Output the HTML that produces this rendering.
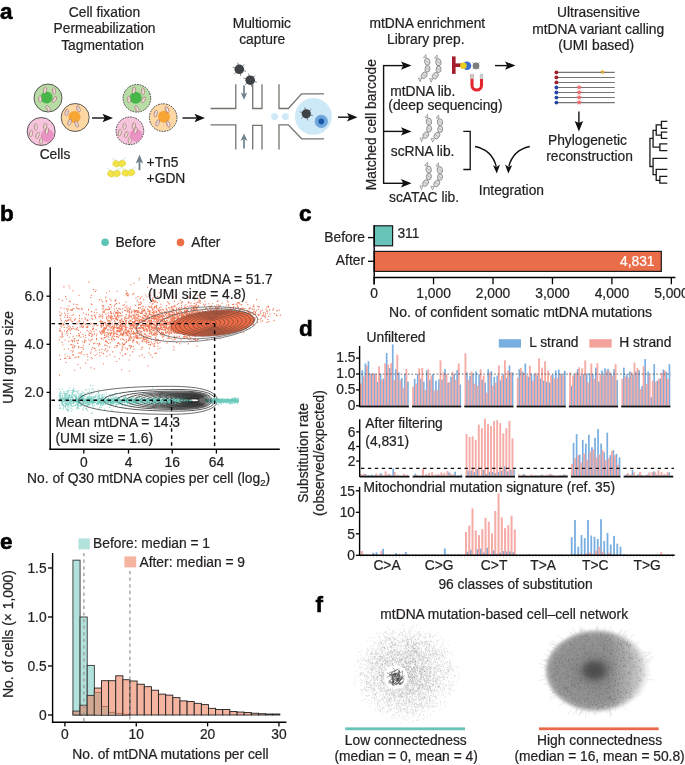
<!DOCTYPE html>
<html><head><meta charset="utf-8"><style>
html,body{margin:0;padding:0;background:#fff;overflow:hidden;}
svg{display:block;font-family:"Liberation Sans",sans-serif;will-change:transform;}
text{stroke:#231f20;stroke-width:0.22px;}
</style></head><body>
<svg width="685" height="765" viewBox="0 0 685 765">
<rect width="685" height="765" fill="#fff"/>
<text x="0.0" y="18.5" font-size="22.5" text-anchor="start" font-weight="bold" fill="#000" style="stroke:#000;stroke-width:0.55px">a</text>
<text x="104.5" y="17.3" font-size="13.8" text-anchor="middle" font-weight="normal" fill="#231f20" >Cell fixation</text>
<text x="104.5" y="33.3" font-size="13.8" text-anchor="middle" font-weight="normal" fill="#231f20" >Permeabilization</text>
<text x="102.6" y="49.6" font-size="13.8" text-anchor="middle" font-weight="normal" fill="#231f20" >Tagmentation</text>
<text x="261.8" y="27.8" font-size="13.8" text-anchor="middle" font-weight="normal" fill="#231f20" >Multiomic</text>
<text x="262.2" y="43.5" font-size="13.8" text-anchor="middle" font-weight="normal" fill="#231f20" >capture</text>
<text x="427.3" y="27.7" font-size="13.8" text-anchor="middle" font-weight="normal" fill="#231f20" >mtDNA enrichment</text>
<text x="425.8" y="44.2" font-size="13.8" text-anchor="middle" font-weight="normal" fill="#231f20" >Library prep.</text>
<text x="598.5" y="17.0" font-size="13.8" text-anchor="middle" font-weight="normal" fill="#231f20" >Ultrasensitive</text>
<text x="598.2" y="33.8" font-size="13.8" text-anchor="middle" font-weight="normal" fill="#231f20" >mtDNA variant calling</text>
<text x="596.2" y="49.6" font-size="13.8" text-anchor="middle" font-weight="normal" fill="#231f20" >(UMI based)</text>
<circle cx="48.00" cy="98.00" r="14.00" fill="#b8dca6" stroke="#333" stroke-width="0.8" />
<circle cx="46.60" cy="97.60" r="6.00" fill="#47b649" stroke="none" stroke-width="0" />
<ellipse cx="45.0" cy="90.0" rx="1.55" ry="3.30" transform="rotate(10 45.0 90.0)" fill="#f4e9e6" stroke="#a87772" stroke-width="0.7"/>
<path d="M44.5,88.0 q1,1 0,2 q-1,1 0,2" transform="rotate(10 45.0 90.0)" fill="none" stroke="#b08a86" stroke-width="0.45"/>
<ellipse cx="54.0" cy="91.0" rx="1.55" ry="3.30" transform="rotate(-5 54.0 91.0)" fill="#f4e9e6" stroke="#a87772" stroke-width="0.7"/>
<path d="M53.5,89.0 q1,1 0,2 q-1,1 0,2" transform="rotate(-5 54.0 91.0)" fill="none" stroke="#b08a86" stroke-width="0.45"/>
<ellipse cx="40.0" cy="99.0" rx="1.55" ry="3.30" transform="rotate(0 40.0 99.0)" fill="#f4e9e6" stroke="#a87772" stroke-width="0.7"/>
<path d="M39.5,97.0 q1,1 0,2 q-1,1 0,2" transform="rotate(0 40.0 99.0)" fill="none" stroke="#b08a86" stroke-width="0.45"/>
<ellipse cx="54.5" cy="99.5" rx="1.55" ry="3.30" transform="rotate(30 54.5 99.5)" fill="#f4e9e6" stroke="#a87772" stroke-width="0.7"/>
<path d="M54.0,97.5 q1,1 0,2 q-1,1 0,2" transform="rotate(30 54.5 99.5)" fill="none" stroke="#b08a86" stroke-width="0.45"/>
<ellipse cx="48.0" cy="108.5" rx="1.55" ry="3.30" transform="rotate(-30 48.0 108.5)" fill="#f4e9e6" stroke="#a87772" stroke-width="0.7"/>
<path d="M47.5,106.5 q1,1 0,2 q-1,1 0,2" transform="rotate(-30 48.0 108.5)" fill="none" stroke="#b08a86" stroke-width="0.45"/>
<circle cx="75.20" cy="117.50" r="14.00" fill="#fdd7a4" stroke="#333" stroke-width="0.8" />
<circle cx="74.50" cy="117.00" r="6.00" fill="#f7a535" stroke="none" stroke-width="0" />
<ellipse cx="66.7" cy="112.5" rx="1.55" ry="3.30" transform="rotate(10 66.7 112.5)" fill="#f4e9e6" stroke="#a87772" stroke-width="0.7"/>
<path d="M66.2,110.5 q1,1 0,2 q-1,1 0,2" transform="rotate(10 66.7 112.5)" fill="none" stroke="#b08a86" stroke-width="0.45"/>
<ellipse cx="78.4" cy="108.9" rx="1.55" ry="3.30" transform="rotate(-20 78.4 108.9)" fill="#f4e9e6" stroke="#a87772" stroke-width="0.7"/>
<path d="M77.9,106.9 q1,1 0,2 q-1,1 0,2" transform="rotate(-20 78.4 108.9)" fill="none" stroke="#b08a86" stroke-width="0.45"/>
<ellipse cx="69.6" cy="122.3" rx="1.55" ry="3.30" transform="rotate(20 69.6 122.3)" fill="#f4e9e6" stroke="#a87772" stroke-width="0.7"/>
<path d="M69.1,120.3 q1,1 0,2 q-1,1 0,2" transform="rotate(20 69.6 122.3)" fill="none" stroke="#b08a86" stroke-width="0.45"/>
<ellipse cx="76.6" cy="124.1" rx="1.55" ry="3.30" transform="rotate(-20 76.6 124.1)" fill="#f4e9e6" stroke="#a87772" stroke-width="0.7"/>
<path d="M76.1,122.1 q1,1 0,2 q-1,1 0,2" transform="rotate(-20 76.6 124.1)" fill="none" stroke="#b08a86" stroke-width="0.45"/>
<circle cx="41.20" cy="131.50" r="14.00" fill="#f6c4dd" stroke="#333" stroke-width="0.8" />
<circle cx="47.30" cy="135.50" r="6.50" fill="#ea93c4" stroke="none" stroke-width="0" />
<ellipse cx="35.8" cy="127.0" rx="1.55" ry="3.30" transform="rotate(0 35.8 127.0)" fill="#f4e9e6" stroke="#a87772" stroke-width="0.7"/>
<path d="M35.3,125.0 q1,1 0,2 q-1,1 0,2" transform="rotate(0 35.8 127.0)" fill="none" stroke="#b08a86" stroke-width="0.45"/>
<ellipse cx="45.1" cy="126.4" rx="1.55" ry="3.30" transform="rotate(10 45.1 126.4)" fill="#f4e9e6" stroke="#a87772" stroke-width="0.7"/>
<path d="M44.6,124.4 q1,1 0,2 q-1,1 0,2" transform="rotate(10 45.1 126.4)" fill="none" stroke="#b08a86" stroke-width="0.45"/>
<ellipse cx="31.1" cy="133.4" rx="1.55" ry="3.30" transform="rotate(10 31.1 133.4)" fill="#f4e9e6" stroke="#a87772" stroke-width="0.7"/>
<path d="M30.6,131.4 q1,1 0,2 q-1,1 0,2" transform="rotate(10 31.1 133.4)" fill="none" stroke="#b08a86" stroke-width="0.45"/>
<ellipse cx="37.5" cy="135.2" rx="1.55" ry="3.30" transform="rotate(20 37.5 135.2)" fill="#f4e9e6" stroke="#a87772" stroke-width="0.7"/>
<path d="M37.0,133.2 q1,1 0,2 q-1,1 0,2" transform="rotate(20 37.5 135.2)" fill="none" stroke="#b08a86" stroke-width="0.45"/>
<ellipse cx="46.9" cy="131.0" rx="1.55" ry="3.30" transform="rotate(10 46.9 131.0)" fill="#f4e9e6" stroke="#a87772" stroke-width="0.7"/>
<path d="M46.4,129.0 q1,1 0,2 q-1,1 0,2" transform="rotate(10 46.9 131.0)" fill="none" stroke="#b08a86" stroke-width="0.45"/>
<ellipse cx="41.0" cy="141.0" rx="1.55" ry="3.30" transform="rotate(0 41.0 141.0)" fill="#f4e9e6" stroke="#a87772" stroke-width="0.7"/>
<path d="M40.5,139.0 q1,1 0,2 q-1,1 0,2" transform="rotate(0 41.0 141.0)" fill="none" stroke="#b08a86" stroke-width="0.45"/>
<circle cx="136.90" cy="98.30" r="13.80" fill="#b8dca6" stroke="#333" stroke-width="0.9" stroke-dasharray="1.7,1.0"/>
<circle cx="135.70" cy="97.80" r="6.00" fill="#47b649" stroke="none" stroke-width="0" />
<ellipse cx="133.9" cy="90.3" rx="1.55" ry="3.30" transform="rotate(10 133.9 90.3)" fill="#f4e9e6" stroke="#a87772" stroke-width="0.7"/>
<path d="M133.4,88.3 q1,1 0,2 q-1,1 0,2" transform="rotate(10 133.9 90.3)" fill="none" stroke="#b08a86" stroke-width="0.45"/>
<ellipse cx="142.9" cy="91.3" rx="1.55" ry="3.30" transform="rotate(-5 142.9 91.3)" fill="#f4e9e6" stroke="#a87772" stroke-width="0.7"/>
<path d="M142.4,89.3 q1,1 0,2 q-1,1 0,2" transform="rotate(-5 142.9 91.3)" fill="none" stroke="#b08a86" stroke-width="0.45"/>
<ellipse cx="128.9" cy="99.3" rx="1.55" ry="3.30" transform="rotate(0 128.9 99.3)" fill="#f4e9e6" stroke="#a87772" stroke-width="0.7"/>
<path d="M128.4,97.3 q1,1 0,2 q-1,1 0,2" transform="rotate(0 128.9 99.3)" fill="none" stroke="#b08a86" stroke-width="0.45"/>
<ellipse cx="143.4" cy="99.8" rx="1.55" ry="3.30" transform="rotate(30 143.4 99.8)" fill="#f4e9e6" stroke="#a87772" stroke-width="0.7"/>
<path d="M142.9,97.8 q1,1 0,2 q-1,1 0,2" transform="rotate(30 143.4 99.8)" fill="none" stroke="#b08a86" stroke-width="0.45"/>
<ellipse cx="136.9" cy="108.8" rx="1.55" ry="3.30" transform="rotate(-30 136.9 108.8)" fill="#f4e9e6" stroke="#a87772" stroke-width="0.7"/>
<path d="M136.4,106.8 q1,1 0,2 q-1,1 0,2" transform="rotate(-30 136.9 108.8)" fill="none" stroke="#b08a86" stroke-width="0.45"/>
<circle cx="163.20" cy="117.60" r="13.80" fill="#fdd7a4" stroke="#333" stroke-width="0.9" stroke-dasharray="1.7,1.0"/>
<circle cx="164.00" cy="116.80" r="6.00" fill="#f7a535" stroke="none" stroke-width="0" />
<ellipse cx="155.7" cy="113.6" rx="1.55" ry="3.30" transform="rotate(15 155.7 113.6)" fill="#f4e9e6" stroke="#a87772" stroke-width="0.7"/>
<path d="M155.2,111.6 q1,1 0,2 q-1,1 0,2" transform="rotate(15 155.7 113.6)" fill="none" stroke="#b08a86" stroke-width="0.45"/>
<ellipse cx="167.0" cy="109.6" rx="1.55" ry="3.30" transform="rotate(-25 167.0 109.6)" fill="#f4e9e6" stroke="#a87772" stroke-width="0.7"/>
<path d="M166.5,107.6 q1,1 0,2 q-1,1 0,2" transform="rotate(-25 167.0 109.6)" fill="none" stroke="#b08a86" stroke-width="0.45"/>
<ellipse cx="157.6" cy="122.8" rx="1.55" ry="3.30" transform="rotate(25 157.6 122.8)" fill="#f4e9e6" stroke="#a87772" stroke-width="0.7"/>
<path d="M157.1,120.8 q1,1 0,2 q-1,1 0,2" transform="rotate(25 157.6 122.8)" fill="none" stroke="#b08a86" stroke-width="0.45"/>
<ellipse cx="168.2" cy="124.1" rx="1.55" ry="3.30" transform="rotate(-20 168.2 124.1)" fill="#f4e9e6" stroke="#a87772" stroke-width="0.7"/>
<path d="M167.7,122.1 q1,1 0,2 q-1,1 0,2" transform="rotate(-20 168.2 124.1)" fill="none" stroke="#b08a86" stroke-width="0.45"/>
<circle cx="129.90" cy="130.80" r="13.80" fill="#f6c4dd" stroke="#333" stroke-width="0.9" stroke-dasharray="1.7,1.0"/>
<circle cx="135.90" cy="135.20" r="6.30" fill="#ea93c4" stroke="none" stroke-width="0" />
<ellipse cx="124.5" cy="126.3" rx="1.55" ry="3.30" transform="rotate(0 124.5 126.3)" fill="#f4e9e6" stroke="#a87772" stroke-width="0.7"/>
<path d="M124.0,124.3 q1,1 0,2 q-1,1 0,2" transform="rotate(0 124.5 126.3)" fill="none" stroke="#b08a86" stroke-width="0.45"/>
<ellipse cx="133.8" cy="125.7" rx="1.55" ry="3.30" transform="rotate(10 133.8 125.7)" fill="#f4e9e6" stroke="#a87772" stroke-width="0.7"/>
<path d="M133.3,123.7 q1,1 0,2 q-1,1 0,2" transform="rotate(10 133.8 125.7)" fill="none" stroke="#b08a86" stroke-width="0.45"/>
<ellipse cx="119.8" cy="132.7" rx="1.55" ry="3.30" transform="rotate(10 119.8 132.7)" fill="#f4e9e6" stroke="#a87772" stroke-width="0.7"/>
<path d="M119.3,130.7 q1,1 0,2 q-1,1 0,2" transform="rotate(10 119.8 132.7)" fill="none" stroke="#b08a86" stroke-width="0.45"/>
<ellipse cx="126.2" cy="134.5" rx="1.55" ry="3.30" transform="rotate(20 126.2 134.5)" fill="#f4e9e6" stroke="#a87772" stroke-width="0.7"/>
<path d="M125.7,132.5 q1,1 0,2 q-1,1 0,2" transform="rotate(20 126.2 134.5)" fill="none" stroke="#b08a86" stroke-width="0.45"/>
<ellipse cx="135.6" cy="130.3" rx="1.55" ry="3.30" transform="rotate(10 135.6 130.3)" fill="#f4e9e6" stroke="#a87772" stroke-width="0.7"/>
<path d="M135.1,128.3 q1,1 0,2 q-1,1 0,2" transform="rotate(10 135.6 130.3)" fill="none" stroke="#b08a86" stroke-width="0.45"/>
<ellipse cx="129.7" cy="140.3" rx="1.55" ry="3.30" transform="rotate(0 129.7 140.3)" fill="#f4e9e6" stroke="#a87772" stroke-width="0.7"/>
<path d="M129.2,138.3 q1,1 0,2 q-1,1 0,2" transform="rotate(0 129.7 140.3)" fill="none" stroke="#b08a86" stroke-width="0.45"/>
<text x="55.0" y="159.2" font-size="13.8" text-anchor="middle" font-weight="normal" fill="#231f20" >Cells</text>
<line x1="92.00" y1="118.00" x2="105.20" y2="118.00" stroke="#111" stroke-width="1.4" />
<path d="M113.00,118.00 L102.50,113.80 L104.70,118.00 L102.50,122.20Z" fill="#111"/>
<line x1="182.50" y1="118.00" x2="197.20" y2="118.00" stroke="#111" stroke-width="1.4" />
<path d="M205.00,118.00 L194.50,113.80 L196.70,118.00 L194.50,122.20Z" fill="#111"/>
<path d="M111.7,157.9 L118.7,161.9 L126.7,157.6" fill="none" stroke="#c4e6cf" stroke-width="0.7"/>
<ellipse cx="116.3" cy="163.8" rx="3.6" ry="3.1" transform="rotate(20 116.3 163.8)" fill="#f2e347" stroke="#d9c63a" stroke-width="0.4"/>
<ellipse cx="122.1" cy="163.5" rx="3.6" ry="3.1" transform="rotate(-20 122.1 163.5)" fill="#f2e347" stroke="#d9c63a" stroke-width="0.4"/>
<path d="M106.5,167.9 L113.5,171.9 L121.5,167.6" fill="none" stroke="#c4e6cf" stroke-width="0.7"/>
<ellipse cx="111.1" cy="173.8" rx="3.6" ry="3.1" transform="rotate(20 111.1 173.8)" fill="#f2e347" stroke="#d9c63a" stroke-width="0.4"/>
<ellipse cx="116.9" cy="173.5" rx="3.6" ry="3.1" transform="rotate(-20 116.9 173.5)" fill="#f2e347" stroke="#d9c63a" stroke-width="0.4"/>
<path d="M120.9,167.1 L127.9,171.1 L135.9,166.8" fill="none" stroke="#c4e6cf" stroke-width="0.7"/>
<ellipse cx="125.5" cy="173.0" rx="3.6" ry="3.1" transform="rotate(20 125.5 173.0)" fill="#f2e347" stroke="#d9c63a" stroke-width="0.4"/>
<ellipse cx="131.3" cy="172.7" rx="3.6" ry="3.1" transform="rotate(-20 131.3 172.7)" fill="#f2e347" stroke="#d9c63a" stroke-width="0.4"/>
<line x1="139.50" y1="170.20" x2="139.50" y2="161.00" stroke="#6e808c" stroke-width="1.8" />
<path d="M139.5,154.4 L135.8,163.4 L139.5,161.6 L143.2,163.4Z" fill="#6e808c"/>
<text x="146.6" y="167.1" font-size="13.8" text-anchor="start" font-weight="normal" fill="#231f20" >+Tn5</text>
<text x="146.6" y="183.1" font-size="13.8" text-anchor="start" font-weight="normal" fill="#231f20" >+GDN</text>
<path d="M210.6,108.5 H235.8 V84.2" fill="none" stroke="#74746d" stroke-width="1.3"/>
<path d="M252.7,84.2 V108.5 H262 V84.2" fill="none" stroke="#74746d" stroke-width="1.3"/>
<path d="M279,84.2 V108.5 H288.3 L301.6,93.8 H324" fill="none" stroke="#74746d" stroke-width="1.3"/>
<path d="M210.6,124.9 H235.8 V149.4" fill="none" stroke="#74746d" stroke-width="1.3"/>
<path d="M252.7,149.4 V125.3 H262 V149.4" fill="none" stroke="#74746d" stroke-width="1.3"/>
<path d="M279,149.4 V124.9 H288.3 L301.6,138.8 H324" fill="none" stroke="#74746d" stroke-width="1.3"/>
<line x1="244.00" y1="85.50" x2="244.00" y2="94.00" stroke="#6e808c" stroke-width="1.7" />
<path d="M244,99.8 L240.7,92.6 L244,94.2 L247.3,92.6Z" fill="#6e808c"/>
<line x1="244.00" y1="148.50" x2="244.00" y2="139.50" stroke="#6e808c" stroke-width="1.7" />
<path d="M244,133.4 L240.7,140.8 L244,139.2 L247.3,140.8Z" fill="#6e808c"/>
<circle cx="274.60" cy="116.60" r="3.50" fill="#cfe9f7" stroke="none" stroke-width="0" />
<circle cx="285.40" cy="116.60" r="3.50" fill="#cfe9f7" stroke="none" stroke-width="0" />
<circle cx="313.40" cy="116.40" r="18.40" fill="#cde8f6" stroke="none" stroke-width="0" />
<circle cx="321.30" cy="121.40" r="6.60" fill="#6ea6dc" stroke="none" stroke-width="0" />
<circle cx="321.30" cy="121.40" r="2.80" fill="#1a56a8" stroke="none" stroke-width="0" />
<line x1="239.3" y1="69.3" x2="246.0" y2="71.4" stroke="#3e4145" stroke-width="0.6"/>
<line x1="239.3" y1="69.3" x2="240.9" y2="76.1" stroke="#3e4145" stroke-width="0.6"/>
<line x1="239.3" y1="69.3" x2="234.2" y2="74.1" stroke="#3e4145" stroke-width="0.6"/>
<line x1="239.3" y1="69.3" x2="232.6" y2="67.2" stroke="#3e4145" stroke-width="0.6"/>
<line x1="239.3" y1="69.3" x2="237.7" y2="62.5" stroke="#3e4145" stroke-width="0.6"/>
<line x1="239.3" y1="69.3" x2="244.4" y2="64.5" stroke="#3e4145" stroke-width="0.6"/>
<circle cx="239.30" cy="69.30" r="4.80" fill="#3e4145" stroke="none" stroke-width="0" />
<line x1="250.2" y1="80.2" x2="256.9" y2="82.3" stroke="#3e4145" stroke-width="0.6"/>
<line x1="250.2" y1="80.2" x2="251.8" y2="87.0" stroke="#3e4145" stroke-width="0.6"/>
<line x1="250.2" y1="80.2" x2="245.1" y2="85.0" stroke="#3e4145" stroke-width="0.6"/>
<line x1="250.2" y1="80.2" x2="243.5" y2="78.1" stroke="#3e4145" stroke-width="0.6"/>
<line x1="250.2" y1="80.2" x2="248.6" y2="73.4" stroke="#3e4145" stroke-width="0.6"/>
<line x1="250.2" y1="80.2" x2="255.3" y2="75.4" stroke="#3e4145" stroke-width="0.6"/>
<circle cx="250.20" cy="80.20" r="4.80" fill="#3e4145" stroke="none" stroke-width="0" />
<line x1="306.3" y1="113.8" x2="312.8" y2="115.8" stroke="#3e4145" stroke-width="0.6"/>
<line x1="306.3" y1="113.8" x2="307.8" y2="120.4" stroke="#3e4145" stroke-width="0.6"/>
<line x1="306.3" y1="113.8" x2="301.3" y2="118.4" stroke="#3e4145" stroke-width="0.6"/>
<line x1="306.3" y1="113.8" x2="299.8" y2="111.8" stroke="#3e4145" stroke-width="0.6"/>
<line x1="306.3" y1="113.8" x2="304.8" y2="107.2" stroke="#3e4145" stroke-width="0.6"/>
<line x1="306.3" y1="113.8" x2="311.3" y2="109.2" stroke="#3e4145" stroke-width="0.6"/>
<circle cx="306.30" cy="113.80" r="4.60" fill="#3e4145" stroke="none" stroke-width="0" />
<line x1="338.00" y1="117.20" x2="349.70" y2="117.20" stroke="#111" stroke-width="1.4" />
<path d="M357.50,117.20 L347.00,113.00 L349.20,117.20 L347.00,121.40Z" fill="#111"/>
<text transform="translate(375.6,190.2) rotate(-90)" font-size="13.8" fill="#231f20">Matched cell barcode</text>
<line x1="383.60" y1="65.10" x2="383.60" y2="183.30" stroke="#111" stroke-width="1.4" />
<line x1="383.00" y1="65.60" x2="403.70" y2="65.60" stroke="#111" stroke-width="1.4" />
<path d="M411.50,65.60 L401.00,61.40 L403.20,65.60 L401.00,69.80Z" fill="#111"/>
<line x1="383.00" y1="131.40" x2="403.70" y2="131.40" stroke="#111" stroke-width="1.4" />
<path d="M411.50,131.40 L401.00,127.20 L403.20,131.40 L401.00,135.60Z" fill="#111"/>
<line x1="383.00" y1="183.30" x2="403.70" y2="183.30" stroke="#111" stroke-width="1.4" />
<path d="M411.50,183.30 L401.00,179.10 L403.20,183.30 L401.00,187.50Z" fill="#111"/>
<path d="M423.4,57.6 L426.0,54.5 L426.2,58.0Z" fill="#eee" stroke="#777" stroke-width="0.6"/>
<path d="M421.6,78.4 L418.4,78.0 L420.0,81.8Z" fill="#eee" stroke="#777" stroke-width="0.6"/>
<ellipse cx="427.3" cy="61.8" rx="3.5" ry="2.7" transform="rotate(80 427.3 61.8)" fill="#dedede" stroke="#6a6a6a" stroke-width="0.65"/>
<line x1="425.7" y1="60.6" x2="428.9" y2="63.0" stroke="#8a8a8a" stroke-width="0.5"/>
<ellipse cx="427.5" cy="68.8" rx="3.3" ry="2.5" transform="rotate(95 427.5 68.8)" fill="#dedede" stroke="#6a6a6a" stroke-width="0.65"/>
<line x1="425.9" y1="67.6" x2="429.1" y2="70.0" stroke="#8a8a8a" stroke-width="0.5"/>
<ellipse cx="424.2" cy="75.2" rx="3.5" ry="2.6" transform="rotate(125 424.2 75.2)" fill="#dedede" stroke="#6a6a6a" stroke-width="0.65"/>
<line x1="422.6" y1="74.0" x2="425.8" y2="76.4" stroke="#8a8a8a" stroke-width="0.5"/>
<path d="M434.5,58.1 L437.1,55.0 L437.3,58.5Z" fill="#eee" stroke="#777" stroke-width="0.6"/>
<path d="M432.7,78.9 L429.5,78.5 L431.1,82.3Z" fill="#eee" stroke="#777" stroke-width="0.6"/>
<ellipse cx="438.4" cy="62.3" rx="3.5" ry="2.7" transform="rotate(80 438.4 62.3)" fill="#dedede" stroke="#6a6a6a" stroke-width="0.65"/>
<line x1="436.8" y1="61.1" x2="440.0" y2="63.5" stroke="#8a8a8a" stroke-width="0.5"/>
<ellipse cx="438.6" cy="69.3" rx="3.3" ry="2.5" transform="rotate(95 438.6 69.3)" fill="#dedede" stroke="#6a6a6a" stroke-width="0.65"/>
<line x1="437.0" y1="68.1" x2="440.2" y2="70.5" stroke="#8a8a8a" stroke-width="0.5"/>
<ellipse cx="435.3" cy="75.7" rx="3.5" ry="2.6" transform="rotate(125 435.3 75.7)" fill="#dedede" stroke="#6a6a6a" stroke-width="0.65"/>
<line x1="433.7" y1="74.5" x2="436.9" y2="76.9" stroke="#8a8a8a" stroke-width="0.5"/>
<path d="M425.0,117.5 L427.6,114.4 L427.8,117.9Z" fill="#eee" stroke="#777" stroke-width="0.6"/>
<path d="M423.2,138.3 L420.0,137.9 L421.6,141.7Z" fill="#eee" stroke="#777" stroke-width="0.6"/>
<ellipse cx="428.9" cy="121.7" rx="3.5" ry="2.7" transform="rotate(80 428.9 121.7)" fill="#dedede" stroke="#6a6a6a" stroke-width="0.65"/>
<line x1="427.3" y1="120.5" x2="430.5" y2="122.9" stroke="#8a8a8a" stroke-width="0.5"/>
<ellipse cx="429.1" cy="128.7" rx="3.3" ry="2.5" transform="rotate(95 429.1 128.7)" fill="#dedede" stroke="#6a6a6a" stroke-width="0.65"/>
<line x1="427.5" y1="127.5" x2="430.7" y2="129.9" stroke="#8a8a8a" stroke-width="0.5"/>
<ellipse cx="425.8" cy="135.1" rx="3.5" ry="2.6" transform="rotate(125 425.8 135.1)" fill="#dedede" stroke="#6a6a6a" stroke-width="0.65"/>
<line x1="424.2" y1="133.9" x2="427.4" y2="136.3" stroke="#8a8a8a" stroke-width="0.5"/>
<path d="M436.1,118.0 L438.7,114.9 L438.9,118.4Z" fill="#eee" stroke="#777" stroke-width="0.6"/>
<path d="M434.3,138.8 L431.1,138.4 L432.7,142.2Z" fill="#eee" stroke="#777" stroke-width="0.6"/>
<ellipse cx="440.0" cy="122.2" rx="3.5" ry="2.7" transform="rotate(80 440.0 122.2)" fill="#dedede" stroke="#6a6a6a" stroke-width="0.65"/>
<line x1="438.4" y1="121.0" x2="441.6" y2="123.4" stroke="#8a8a8a" stroke-width="0.5"/>
<ellipse cx="440.2" cy="129.2" rx="3.3" ry="2.5" transform="rotate(95 440.2 129.2)" fill="#dedede" stroke="#6a6a6a" stroke-width="0.65"/>
<line x1="438.6" y1="128.0" x2="441.8" y2="130.4" stroke="#8a8a8a" stroke-width="0.5"/>
<ellipse cx="436.9" cy="135.6" rx="3.5" ry="2.6" transform="rotate(125 436.9 135.6)" fill="#dedede" stroke="#6a6a6a" stroke-width="0.65"/>
<line x1="435.3" y1="134.4" x2="438.5" y2="136.8" stroke="#8a8a8a" stroke-width="0.5"/>
<path d="M424.8,165.4 L427.4,162.3 L427.6,165.8Z" fill="#eee" stroke="#777" stroke-width="0.6"/>
<path d="M423.0,186.2 L419.8,185.8 L421.4,189.6Z" fill="#eee" stroke="#777" stroke-width="0.6"/>
<ellipse cx="428.7" cy="169.6" rx="3.5" ry="2.7" transform="rotate(80 428.7 169.6)" fill="#dedede" stroke="#6a6a6a" stroke-width="0.65"/>
<line x1="427.1" y1="168.4" x2="430.3" y2="170.8" stroke="#8a8a8a" stroke-width="0.5"/>
<ellipse cx="428.9" cy="176.6" rx="3.3" ry="2.5" transform="rotate(95 428.9 176.6)" fill="#dedede" stroke="#6a6a6a" stroke-width="0.65"/>
<line x1="427.3" y1="175.4" x2="430.5" y2="177.8" stroke="#8a8a8a" stroke-width="0.5"/>
<ellipse cx="425.6" cy="183.0" rx="3.5" ry="2.6" transform="rotate(125 425.6 183.0)" fill="#dedede" stroke="#6a6a6a" stroke-width="0.65"/>
<line x1="424.0" y1="181.8" x2="427.2" y2="184.2" stroke="#8a8a8a" stroke-width="0.5"/>
<path d="M435.9,165.9 L438.5,162.8 L438.7,166.3Z" fill="#eee" stroke="#777" stroke-width="0.6"/>
<path d="M434.1,186.7 L430.9,186.3 L432.5,190.1Z" fill="#eee" stroke="#777" stroke-width="0.6"/>
<ellipse cx="439.8" cy="170.1" rx="3.5" ry="2.7" transform="rotate(80 439.8 170.1)" fill="#dedede" stroke="#6a6a6a" stroke-width="0.65"/>
<line x1="438.2" y1="168.9" x2="441.4" y2="171.3" stroke="#8a8a8a" stroke-width="0.5"/>
<ellipse cx="440.0" cy="177.1" rx="3.3" ry="2.5" transform="rotate(95 440.0 177.1)" fill="#dedede" stroke="#6a6a6a" stroke-width="0.65"/>
<line x1="438.4" y1="175.9" x2="441.6" y2="178.3" stroke="#8a8a8a" stroke-width="0.5"/>
<ellipse cx="436.7" cy="183.5" rx="3.5" ry="2.6" transform="rotate(125 436.7 183.5)" fill="#dedede" stroke="#6a6a6a" stroke-width="0.65"/>
<line x1="435.1" y1="182.3" x2="438.3" y2="184.7" stroke="#8a8a8a" stroke-width="0.5"/>
<rect x="452.00" y="56.40" width="3.60" height="17.50" fill="#a41d2e" stroke="none" stroke-width="0" />
<rect x="452.00" y="63.40" width="9.50" height="3.60" fill="#a41d2e" stroke="none" stroke-width="0" />
<line x1="476.0" y1="65.8" x2="479.5" y2="69.3" stroke="#7d7d7d" stroke-width="0.7"/>
<line x1="476.0" y1="65.8" x2="472.5" y2="69.3" stroke="#7d7d7d" stroke-width="0.7"/>
<line x1="476.0" y1="65.8" x2="472.5" y2="62.3" stroke="#7d7d7d" stroke-width="0.7"/>
<line x1="476.0" y1="65.8" x2="479.5" y2="62.3" stroke="#7d7d7d" stroke-width="0.7"/>
<circle cx="476.00" cy="65.80" r="3.40" fill="#7d7d7d" stroke="none" stroke-width="0" />
<circle cx="467.00" cy="65.80" r="4.30" fill="#3f6fcc" stroke="none" stroke-width="0" />
<circle cx="463.40" cy="65.70" r="3.30" fill="#e8d020" stroke="none" stroke-width="0" />
<path d="M472,74.5 V85.3 A4.75,4.75 0 0 0 481.5,85.3 V74.5" fill="none" stroke="#e1262e" stroke-width="3.1"/>
<rect x="470.45" y="73.80" width="3.10" height="5.20" fill="#c9c9c9" stroke="none" stroke-width="0" />
<rect x="479.95" y="73.80" width="3.10" height="5.20" fill="#c9c9c9" stroke="none" stroke-width="0" />
<text x="390.2" y="96.2" font-size="13.8" text-anchor="start" font-weight="normal" fill="#231f20" >mtDNA lib.</text>
<text x="388.3" y="110.3" font-size="13.8" text-anchor="start" font-weight="normal" fill="#231f20" >(deep sequencing)</text>
<text x="390.8" y="156.3" font-size="13.8" text-anchor="start" font-weight="normal" fill="#231f20" >scRNA lib.</text>
<text x="389.0" y="201.8" font-size="13.8" text-anchor="start" font-weight="normal" fill="#231f20" >scATAC lib.</text>
<line x1="495.00" y1="65.60" x2="507.70" y2="65.60" stroke="#111" stroke-width="1.4" />
<path d="M515.50,65.60 L505.00,61.40 L507.20,65.60 L505.00,69.80Z" fill="#111"/>
<line x1="556.50" y1="72.40" x2="614.80" y2="72.40" stroke="#767676" stroke-width="1.1" />
<circle cx="556.40" cy="72.40" r="1.90" fill="#a11f2a" stroke="none" stroke-width="0" />
<line x1="556.50" y1="77.43" x2="614.80" y2="77.43" stroke="#767676" stroke-width="1.1" />
<circle cx="556.40" cy="77.43" r="1.90" fill="#a11f2a" stroke="none" stroke-width="0" />
<line x1="556.50" y1="82.46" x2="614.80" y2="82.46" stroke="#767676" stroke-width="1.1" />
<circle cx="556.40" cy="82.46" r="1.90" fill="#a11f2a" stroke="none" stroke-width="0" />
<line x1="556.50" y1="87.49" x2="614.80" y2="87.49" stroke="#767676" stroke-width="1.1" />
<circle cx="556.40" cy="87.49" r="1.90" fill="#2545a5" stroke="none" stroke-width="0" />
<line x1="556.50" y1="92.52" x2="614.80" y2="92.52" stroke="#767676" stroke-width="1.1" />
<circle cx="556.40" cy="92.52" r="1.90" fill="#2545a5" stroke="none" stroke-width="0" />
<line x1="556.50" y1="97.55" x2="614.80" y2="97.55" stroke="#767676" stroke-width="1.1" />
<circle cx="556.40" cy="97.55" r="1.90" fill="#2545a5" stroke="none" stroke-width="0" />
<line x1="556.50" y1="102.58" x2="614.80" y2="102.58" stroke="#767676" stroke-width="1.1" />
<circle cx="556.40" cy="102.58" r="1.90" fill="#2545a5" stroke="none" stroke-width="0" />
<polygon points="602.60,69.10 603.37,70.94 605.36,71.10 603.84,72.40 604.30,74.35 602.60,73.31 600.90,74.35 601.36,72.40 599.84,71.10 601.83,70.94" fill="#e0b040"/>
<polygon points="579.20,84.39 579.97,86.23 581.96,86.39 580.44,87.69 580.90,89.64 579.20,88.60 577.50,89.64 577.96,87.69 576.44,86.39 578.43,86.23" fill="#f06a6a"/>
<polygon points="579.20,89.42 579.97,91.26 581.96,91.42 580.44,92.72 580.90,94.67 579.20,93.63 577.50,94.67 577.96,92.72 576.44,91.42 578.43,91.26" fill="#f06a6a"/>
<polygon points="579.20,94.45 579.97,96.29 581.96,96.45 580.44,97.75 580.90,99.70 579.20,98.66 577.50,99.70 577.96,97.75 576.44,96.45 578.43,96.29" fill="#f06a6a"/>
<polygon points="579.20,99.48 579.97,101.32 581.96,101.48 580.44,102.78 580.90,104.73 579.20,103.69 577.50,104.73 577.96,102.78 576.44,101.48 578.43,101.32" fill="#f06a6a"/>
<line x1="578.90" y1="111.50" x2="578.90" y2="123.60" stroke="#111" stroke-width="1.4" />
<path d="M578.90,131.40 L574.70,120.90 L578.90,123.10 L583.10,120.90Z" fill="#111"/>
<text x="587.5" y="145.3" font-size="13.8" text-anchor="middle" font-weight="normal" fill="#231f20" >Phylogenetic</text>
<text x="589.6" y="161.4" font-size="13.8" text-anchor="middle" font-weight="normal" fill="#231f20" >reconstruction</text>
<path d="M463.3,131.4 H470.2 V169.5 H463.3" fill="none" stroke="#111" stroke-width="1.3"/>
<path d="M475,146.5 Q492,150 496.3,166.5" fill="none" stroke="#111" stroke-width="1.4"/>
<path d="M496.8,173.5 L493,165.2 L496.5,167 L500,164.5Z" fill="#111"/>
<path d="M529.8,146.5 Q513,150 508.8,166.5" fill="none" stroke="#111" stroke-width="1.4"/>
<path d="M508.3,173.5 L505,164.5 L508.6,167 L512.2,165.2Z" fill="#111"/>
<text x="478.8" y="194.6" font-size="13.8" text-anchor="start" font-weight="normal" fill="#231f20" >Integration</text>
<path d="M661.45,121.30 L666.68,121.30 M661.45,128.31 L666.68,128.31 M661.45,121.30 L661.45,128.31 M661.45,132.19 L666.68,132.19 M661.45,138.46 L666.68,138.46 M661.45,132.19 L661.45,138.46 M656.22,124.86 L661.45,124.86 M656.22,135.12 L661.45,135.12 M656.22,124.86 L656.22,135.12 M659.88,143.80 L666.68,143.80 M659.88,150.60 L666.68,150.60 M659.88,143.80 L659.88,150.60 M653.08,130.41 L656.22,130.41 M653.08,147.15 L659.88,147.15 M653.08,130.41 L653.08,147.15 M649.94,138.46 L653.08,138.46 M653.08,158.35 L666.68,158.35 M656.22,169.44 L666.68,169.44 M659.88,176.45 L666.68,176.45 M659.88,183.04 L666.68,183.04 M659.88,176.45 L659.88,183.04 M656.22,180.32 L659.88,180.32 M656.22,169.44 L656.22,180.32 M653.08,174.67 L656.22,174.67 M653.08,158.35 L653.08,174.67 M649.94,166.51 L653.08,166.51 M649.94,138.46 L649.94,166.51" fill="none" stroke="#1a1a1a" stroke-width="1.3" stroke-linecap="square"/>
<text x="0.0" y="220.8" font-size="22.5" text-anchor="start" font-weight="bold" fill="#000" style="stroke:#000;stroke-width:0.55px">b</text>
<circle cx="105.10" cy="242.30" r="3.80" fill="#5ec4b6" stroke="none" stroke-width="0" />
<text x="115.4" y="247.0" font-size="13.8" text-anchor="start" font-weight="normal" fill="#231f20" >Before</text>
<circle cx="180.50" cy="242.40" r="3.80" fill="#ec6f47" stroke="none" stroke-width="0" />
<text x="191.3" y="247.0" font-size="13.8" text-anchor="start" font-weight="normal" fill="#231f20" >After</text>
<line x1="50.20" y1="267.20" x2="50.20" y2="450.00" stroke="#000" stroke-width="1.5" />
<line x1="49.50" y1="449.30" x2="279.80" y2="449.30" stroke="#000" stroke-width="1.4" />
<line x1="46.50" y1="296.20" x2="50.20" y2="296.20" stroke="#000" stroke-width="1.3" />
<text x="43.6" y="301.1" font-size="13.8" text-anchor="end" font-weight="normal" fill="#231f20" >6.0</text>
<line x1="46.50" y1="344.30" x2="50.20" y2="344.30" stroke="#000" stroke-width="1.3" />
<text x="43.6" y="349.2" font-size="13.8" text-anchor="end" font-weight="normal" fill="#231f20" >4.0</text>
<line x1="46.50" y1="392.40" x2="50.20" y2="392.40" stroke="#000" stroke-width="1.3" />
<text x="43.6" y="397.3" font-size="13.8" text-anchor="end" font-weight="normal" fill="#231f20" >2.0</text>
<line x1="83.80" y1="449.30" x2="83.80" y2="453.50" stroke="#000" stroke-width="1.3" />
<text x="83.8" y="466.6" font-size="13.8" text-anchor="middle" font-weight="normal" fill="#231f20" >0</text>
<line x1="128.50" y1="449.30" x2="128.50" y2="453.50" stroke="#000" stroke-width="1.3" />
<text x="128.5" y="466.6" font-size="13.8" text-anchor="middle" font-weight="normal" fill="#231f20" >4</text>
<line x1="172.30" y1="449.30" x2="172.30" y2="453.50" stroke="#000" stroke-width="1.3" />
<text x="172.3" y="466.6" font-size="13.8" text-anchor="middle" font-weight="normal" fill="#231f20" >16</text>
<line x1="216.40" y1="449.30" x2="216.40" y2="453.50" stroke="#000" stroke-width="1.3" />
<text x="216.4" y="466.6" font-size="13.8" text-anchor="middle" font-weight="normal" fill="#231f20" >64</text>
<text transform="translate(12.6,357.4) rotate(-90)" font-size="13.8" text-anchor="middle" fill="#231f20">UMI group size</text>
<text x="148.6" y="482.7" font-size="13.8" text-anchor="middle" fill="#231f20">No. of Q30 mtDNA copies per cell (log<tspan font-size="9.5" dy="3">2</tspan><tspan dy="-3">)</tspan></text>
<path d="M0 0m2304 3247h11m-544-45h11m185-4h11m190-4h11m-57-37h11m-590-35h11m-77 149h11m-618 3h11m1359-60h11m-1490-138h11m1068 112h11m167 34h11m457-101h11m-81 5h11m-1103 297h11m262-78h11m99-91h11m313-58h11m-967 22h11m721-188h11m-39 156h11m-256-76h11m-20-109h11m586 157h11m-731-137h11m301 263h11m148-67h11m644-25h11m-485 65h11m-1404-168h11m727 234h11m-552-179h11m669 186h11m598-104h11m-506 8h11m700-67h11m-1003 18h11m207-65h11m147 189h11m-380-227h11m548 138h11m-840 115h11m1015-161h11m-12 29h11m19 110h11m-956-17h11m657-39h11m27-51h11m-14 40h11m-1191 456h11m463-403h11m-170-295h11m209 175h11m642 53h11m-336 14h11m171 40h11m-411-486h11m-77 489h11m1077-112h11m-356 8h11m-1047 350h11m530-132h11m391-198h11m265-129h11m-1198-60h11m766 321h11m-485 47h11m181-73h11m962-105h11m-1248-77h11m-59 273h11m1176-127h11m-1714 235h11m695-514h11m-246 534h11m391-276h11m-596 241h11m620-269h11m644-98h11m-381 171h11m592-231h11m-1543 266h11m70-265h11m884 91h11m132 38h11m-358-41h11m-376-37h11m-253 133h11m151-28h11m291 172h11m288-324h11m-355 207h11m-66-155h11m-262 96h11m232 15h11m-113 236h11m853-251h11m-238-4h11m-245 41h11m-117-72h11m611-38h11m-358 79h11m-108-80h11m117 4h11m452-62h11m-555 68h11m-842 237h11m246-58h11m646-32h11m142-76h11m-790 157h11m1038-109h11m-707-29h11m-258 10h11m928-133h11m-1791 207h11m359-107h11m357-25h11m890 29h11m-126-23h11m-72 34h11m-73-102h11m-825 112h11m835 44h11m-844-18h11m672 71h11m435-306h11m-336 52h11m-1156 176h11m353-121h11m522 97h11m272-59h11m-294 134h11m-580 109h11m800-183h11m156-9h11m-916 102h11m660-77h11m-429-28h11m432-38h11m275 11h11m-14-27h11m-580-1h11m-30-1h11m-279-20h11m167 141h11m145-264h11m-1073 56h11m655 136h11m-232 243h11m134-308h11m920 61h11m-4-118h11m-570 70h11m36 77h11m-140-180h11m-503 195h11m697-65h11m700-61h11m-1080-170h11m263 264h11m-620-101h11m898 167h11m-42-108h11m-21 101h11m-277-104h11m658-58h11m-1632 173h11m726 133h11m21-168h11m467-30h11m-1246-35h11m1160-31h11m230-64h11m-931 195h11m-242 185h11m659-265h11m492 0h11m-176-36h11m-202 186h11m40-14h11m-89-103h11m-684-105h11m1113 48h11m-1438 106h11m-48-42h11m1567-216h11m-1026 512h11m527-240h11m-851-92h11m428 11h11m79 132h11m628-255h11m-171 60h11m-878 55h11m233-60h11m672 50h11m-1092 120h11m-58 296h11m1055-422h11m129-13h11m-765-19h11m0-48h11m734 29h11m-108 54h11m-461-6h11m-906 57h11m1468-248h11m-833 373h11m1048-220h11m-1470 96h11m983 31h11m-506-194h11m622 98h11m-460 163h11m60-213h11m151 38h11m-669 188h11m520-137h11m-102 29h11m619-75h11m-923 66h11m971-129h11m-1237 308h11m-181-158h11m219 104h11m1103-216h11m-910 59h11m-704 305h11m1067-273h11m-622 42h11m-3-205h11m-401 232h11m950-120h11m-788-83h11m1015 124h11m-154 7h11m319-54h11m-277 48h11m-570 60h11m523-37h11m-71 23h11m-94-125h11m-67 18h11m399-27h11m-1516 279h11m72-356h11m214 432h11m741-295h11m-1002-179h11m1748 3h11m-1466 321h11m1585-177h11m-645-141h11m-105 309h11m-613-129h11m440 89h11m-591-51h11m-621 43h11m919 126h11m503-180h11m-117 14h11m-98 98h11m-195-190h11m600-5h11m-362 25h11m-118 89h11m295 27h11m-1296-79h11m1484-29h11m-826 36h11m193 76h11m136-142h11m-1013 27h11m569 30h11m386-28h11m-704 156h11m136 13h11m-6-72h11m-639-247h11m1159 268h11m-373-97h11m695 34h11m-1255-25h11m66 16h11m-354 329h11m985-342h11m639-60h11m-633 112h11m595-121h11m-1068 60h11m348 57h11m663-81h11m-604 62h11m-220 0h11m286 93h11m-6-176h11m405 89h11m477-135h11m-526-22h11m-1151 168h11m648-52h11m-1042-63h11m534 22h11m147 34h11m126 15h11m-743 326h11m275-8h11m1242-422h11m-1127 170h11m89-108h11m1060-139h11m-272 187h11m-656 45h11m441-40h11m-345-66h11m535-32h11m-520 11h11m235-21h11m-352 37h11m926-15h11m-1159 100h11m205-2h11m816-54h11m-88-114h11m-113 64h11m-371 17h11m-732-5h11m-392 110h11m849-74h11m-85 102h11m-17-86h11m708-196h11m-475 274h11m480-162h11m-1529-237h11m1306 280h11m353 15h11m-322 77h11m-1356-91h11m417-61h11m780 130h11m-74-144h11m557 39h11m-365-14h11m-973-55h11m1275 124h11m39-31h11m-517-48h11m-278 90h11m336 26h11m307-218h11m-397 184h11m472 6h11m-438-53h11m-411 119h11m142-121h11m438-5h11m135 59h11m-1052-66h11m813-20h11m-452 46h11m-442-61h11m799 61h11m-649 68h11m-467 71h11m911-72h11m-382 42h11m256-35h11m421 54h11m-526-24h11m551-199h11m-305 42h11m178 85h11m-439 100h11m69-119h11m-370-27h11m70 56h11m-810 311h11m-213-240h11m1350-14h11m-558 38h11m447-27h11m-156-142h11m-684 271h11m-43-362h11m610 151h11m-519 132h11m-416 34h11m189-76h11m1200-105h11m-453-19h11m-118 11h11m-198-11h11m-765 378h11m30-534h11m1413 185h11m-730-153h11m-34 66h11m1082 109h11m-556 45h11m112-19h11m-602-114h11m419 307h11m-828-254h11m356 116h11m169-30h11m1014-112h11m-761 80h11m-328 13h11m-149-68h11m-599 230h11m1113-238h11m-261 27h11m23-16h11m-71-26h11m589 32h11m-1695 56h11m1381 87h11m-548-39h11m433-199h11m-210 91h11m253 44h11m-738 25h11m614-38h11m-218-126h11m527 105h11m-336 87h11m292-64h11m-313-20h11m469 128h11m-1204-17h11m845-3h11m-514-90h11m433-43h11m21 31h11m167-122h11m-486 83h11m-219 84h11m430-168h11m-436 210h11m431-225h11m-202 238h11m-231-192h11m413 63h11m179-95h11m-827 72h11m148 135h11m444-30h11m-485 114h11m499-55h11m148-105h11m-990-180h11m441 170h11m238-114h11m-382 214h11m-28-86h11m-298 140h11m826-174h11m316-77h11m-927 188h11m684-5h11m-1033 38h11m1461-174h11m-745 106h11m-310-92h11m-624 64h11m908 21h11m-121-68h11m-818 67h11m-99-62h11m1353-11h11m-860 77h11m567 15h11m-187-128h11m806-52h11m-235-51h11m-1160 292h11m460 50h11m-360-112h11m846-53h11m-770 151h11m-199 69h11m-63-123h11m169-306h11m-602 204h11m729-91h11m-393 135h11m1122-106h11m-224 87h11m-456 83h11m-1034 78h11m1124-273h11m-778-226h11m1457 200h11m-708 44h11m-827-28h11m170-206h11m1010 259h11m-485 98h11m-51-109h11m-321 3h11m560 89h11m323-128h11m-851-142h11m466 220h11m105 51h11m-262-22h11m201-53h11m-827 94h11m980-2h11m-266-122h11m-646-57h11m458 42h11m-382 71h11m-141-30h11m1383 3h11m-1329-126h11m384 315h11m307-99h11m-300 0h11m-1036-15h11m1369-23h11m-1000-160h11m708 208h11m-195-201h11m526 87h11m-222 51h11m-713 55h11m-528 86h11m1256-160h11m-684-7h11m848-101h11m-822 382h11m217-160h11m-715 240h11m1099-252h11m-1295 20h11m1356-160h11m-972 269h11m440-151h11m-315 18h11m467-159h11m-49 169h11m-299-173h11m572 173h11m-1047-64h11m1059 27h11m-298-164h11m616 34h11m-946-89h11m886 128h11m-717-3h11m-967 280h11m519-451h11m1210 71h11m-454 108h11m-107 67h11m206-203h11m-365 119h11m404 74h11m-293-65h11m-489 106h11m126-102h11m-398-128h11m996 156h11m-676 101h11m28-119h11m538 73h11m2-141h11m-397 61h11m-625 48h11m1594-92h11m-1026 82h11m-103-62h11m691 33h11m-122 10h11m-250-225h11m-1262 429h11m823 25h11m1080-362h11m-1330 104h11m621 52h11m-321 36h11m550-154h11m-727 448h11m729-465h11m-180 166h11m-48-30h11m-582-112h11m384 85h11m471-58h11m-197 116h11m321-98h11m-557 97h11m-421-50h11m-738 17h11m691 62h11m97-142h11m148 243h11m368-167h11m-456 140h11m895-234h11m-398 97h11m-332-61h11m-1138 144h11m-68 194h11m1129-330h11m297 45h11m-518 193h11m-911-198h11m1980-71h11m-2084 24h11m314 130h11m175-8h11m325 23h11m449-112h11m197-104h11m41 111h11m-604 27h11m177 61h11m-606 2h11m314-11h11m-400 32h11m335-196h11m-420 264h11m-201-195h11m1334-54h11m-430 153h11m-56-68h11m-554 14h11m-294-250h11m550 267h11m61-54h11m42-78h11m381 134h11m17-9h11m-1408 138h11m1367-216h11m-268 13h11m12 209h11m-681 17h11m602-171h11m562-5h11m-731-56h11m43 19h11m760-154h11m-840 266h11m-81 108h11m376-191h11m447 74h11m-937-66h11m-772-351h11m184 368h11m1018-74h11m-751 0h11m1066 127h11m-257 114h11m-116-39h11m-219-170h11m-293-5h11m574-43h11m-437 39h11m-656 12h11m1578-175h11m-1119 89h11m524 87h11m325 19h11m-234 26h11m-508-41h11m127-15h11m-111-7h11m127-42h11m413 63h11m293-48h11m-389 71h11m-471-48h11m723-10h11m-1082 280h11m1058-216h11m-146-51h11m-268 127h11m9-136h11m-258 132h11m-289-324h11m391 216h11m10-41h11m-428 97h11m234-32h11m307-114h11m-84 55h11m-447-23h11m-98 145h11m387-88h11m402-136h11m-674 213h11m751-175h11m-426 162h11m-462-76h11m-645-230h11m1549 295h11m-419-7h11m-338 110h11m119-133h11m47 65h11m669-157h11m-1331 72h11m473 102h11m-108-233h11m442 140h11m-500 10h11m186 169h11m-623 163h11m750-203h11m-397-180h11m654-57h11m-120 124h11m-600 141h11m-229 61h11m161-158h11m-388-60h11m701 185h11m-66-175h11m147-79h11m-684 47h11m966-7h11m-234 55h11m-726 205h11m-562 137h11m1437-408h11m-325 36h11m-625 133h11m595-109h11m577-124h11m-1347 69h11m863 140h11m-103-11h11m-91-222h11m227-40h11m-289 242h11m135 45h11m-9-122h11m394 31h11m542-144h11m-1332 123h11m713-29h11m-1271 88h11m1303-105h11m-833 95h11m580-104h11m105-12h11m189-88h11m-580 232h11m476-136h11m-1174 134h11m1280-147h11m-1219-11h11m881 140h11m86-121h11m-555 48h11m937-104h11m-847 96h11m395 20h11m-972-23h11m262-36h11m595 15h11m189-11h11m-449 143h11m-381-213h11m586 115h11m-329-50h11m20 142h11m448-172h11m-965 296h11m496-62h11m449-176h11m-280 74h11m-75 31h11m357-189h11m-934 11h11m885 186h11m-874-49h11m921-150h11m-256 122h11m-779 177h11m496-208h11m55-78h11m792 110h11m-207-109h11m-616 17h11m-60 58h11m118-89h11m104 71h11m-227 29h11m-634 277h11m101-137h11m812-141h11m133-55h11m-689 88h11m781-16h11m-482 11h11m-536-18h11m-298 66h11m524-112h11m433-99h11m-137 193h11m284-65h11m-335-60h11m-65 137h11m198-61h11m431-65h11m-682-115h11m-719 132h11m891 21h11m-858 76h11m712-101h11m-96 61h11m-5 8h11m338 37h11m-722 133h11m-196 123h11m941-234h11m-492-10h11m355-134h11m-505 47h11m-390 412h11m277-502h11m344 186h11m42-122h11m185 14h11m-320 47h11m-871 164h11m485-314h11m344 69h11m9 124h11m-33-8h11m79-135h11m226 67h11m-27-176h11m-735 351h11m86-343h11m122 162h11m-4-105h11m13 36h11m-13 219h11m504-65h11m199-60h11m-662-26h11m-156 6h11m496 59h11m-342-3h11m55-86h11m-263 55h11m284-25h11m-275 127h11m533-257h11m-445 232h11m-598 135h11m834-200h11m-245 70h11m-595-64h11m-113 49h11m1226-151h11m-416 54h11m-744-91h11m-69 474h11m595-351h11m-25-88h11m-1043-32h11m588 363h11m628-276h11m-113 200h11m-515 19h11m163-123h11m-345 36h11m-421-17h11m596-86h11m396 61h11m53-151h11m-1260 120h11m1292 11h11m-1293 171h11m847-15h11m-255-91h11m-49-193h11m748 116h11m-792 126h11m920-262h11m18 76h11m-724 74h11m-228 58h11m1112-67h11m-335 26h11m-293-85h11m-155 273h11m314-227h11m-214-73h11m132 87h11m-587-316h11m819 152h11m-406 65h11m649 73h11m-216 37h11m-137-62h11m233-17h11m-1247 110h11m775-100h11m452 6h11m-299-79h11m-1085 361h11m930-232h11m-935 236h11m559-217h11m400-88h11m118 31h11m-61 91h11m-120-66h11m-9-66h11m69-20h11m-849 199h11m337-77h11m408-14h11m28-31h11m-241 85h11m213-159h11m28 60h11m-566-98h11m637 70h11m-931 94h11m-519-187h11m1087 163h11m402-64h11m-1155 15h11m640-114h11m-252 109h11m-86 15h11m42-129h11m580 38h11m-41 103h11m427-56h11m-586-152h11m913 119h11m-830 84h11m-306 36h11m680-108h11m-61 122h11m-1535 309h11m1391-318h11m-729-28h11m-397-123h11m1579 31h11m-1159 64h11m-853-71h11m874 48h11m-234 74h11m971-78h11m-593 112h11m546-116h11m-1043 221h11m353-162h11m-110-29h11m-761 256h11m909-360h11m-883 252h11m139-9h11m511 39h11m-157-95h11m-738 23h11m131-27h11m1173-90h11m5 100h11m-382-177h11m530 188h11m-1039-100h11m959 0h11m-1158 99h11m-207-103h11m1352 35h11m388-82h11m-776 24h11m-779 261h11m1719-324h11m-1316 173h11m896-37h11m-126-123h11m-206 39h11m-343-71h11m356 216h11m-286-117h11m-755 245h11m931-214h11m-1335-230h11m1025 186h11m231 38h11m-510 119h11m-745-95h11m978-96h11m433 45h11m-193-118h11m-1078 197h11m964-170h11m577-24h11m-984 149h11m199 27h11m832-33h11m-873-49h11m-307 230h11m286 9h11m241-195h11m-819 164h11m808-11h11m-193-233h11m-985 374h11m1335-285h11m110-115h11m125 97h11m-1042-127h11m516 171h11m115-103h11m-622 46h11m920 27h11m-1157 61h11m889-135h11m66 168h11m-429-185h11m-93 158h11m-137 61h11m674-175h11m-343-30h11m-206 23h11m-850 269h11m509-348h11m1066 178h11m-113-165h11m-941 127h11m423-50h11m434-55h11m-316-25h11m-65 156h11m-82-61h11m-174 54h11m177 20h11m371-73h11m-281 13h11m-271-23h11m-576-52h11m389-197h11m-57 17h11m404 326h11m412-108h11m-340 78h11m-836-154h11m881 58h11m-602 425h11m631-365h11m-635-80h11m-19 139h11m-678 207h11m1073-300h11m515-65h11m-456 106h11m-117-86h11m-318 205h11m-905-116h11m1340-38h11m-1348 23h11m478 3h11m-74-54h11m562 102h11m944-72h11m-668 111h11m-965 148h11m332-64h11m446-71h11m405-102h11m-386-45h11m-623 58h11m-331 114h11m1069-183h11m342 31h11m-1047 32h11m700-27h11m-847-25h11m-81-153h11m644 297h11m171-8h11m-776 78h11m-45-55h11m270 38h11m683-179h11m-156-115h11m-894 409h11m733-247h11m-594 54h11m542-94h11m10 9h11m-298 158h11m576-188h11m-702 37h11m511-35h11m333-17h11m-859 7h11m607 57h11m-475-18h11m256 19h11m-304-27h11m606 1h11m-9 44h11m-1616-82h11m462 177h11m229-198h11m-96 130h11m891-128h11m-1472 144h11m638-166h11m-216 64h11m236-31h11m345 11h11m-800 196h11m-342-230h11m390 95h11m1118-39h11m-532 35h11m576-19h11m-621 204h11m-32-336h11m-236 204h11m-67-142h11m-137 10h11m271 249h11m349 55h11m582-407h11m-1070 382h11m178-330h11m-161 275h11m-263-190h11m-427 418h11m1239-358h11m-92-64h11m50 60h11m-176-141h11m-35 248h11m-342-134h11m450 37h11m-300-69h11m-576 99h11m1030-44h11m-530-78h11m567 106h11m-925 0h11m964-86h11m-343-53h11m161 71h11m-1261 52h11m2023-79h11m-895 260h11m-624-155h11m679 11h11m573-121h11m-537 114h11m-1229-39h11m1515-6h11m-1274-223h11m141 544h11m562-374h11m-888-11h11m737-25h11m-623 110h11m1063-56h11m-899-91h11m637 77h11m-129 135h11m303 17h11m-253-183h11m-33-9h11m-493 229h11m0-206h11m-155 66h11m16-271h11m477 449h11m501-146h11m-893-44h11m516 47h11m125-96h11m240 36h11m-511 170h11m112-93h11m109-8h11m238-98h11m35-31h11m-1120 161h11m565-74h11m-78-110h11m-381-1h11m3 314h11m-41-164h11m-205-37h11m1112-64h11m112 43h11m-670-134h11m590 71h11m-1131 359h11m590-469h11m-402 367h11m710-265h11m150-14h11m-592 150h11m221-1h11m-88-14h11m-246-129h11m617 119h11m-1553-197h11m1056-41h11m-486 258h11m-105 71h11m515-148h11m-410 194h11m-514 3h11m1208-159h11m-103 10h11m-869-47h11m-228 338h11m1143-332h11m83-116h11m-298 151h11m45-61h11m-82 6h11m-576 60h11m92-13h11m-342 56h11m434 98h11m137-88h11m-11-61h11m-121-210h11m520 138h11m-462 58h11m581-36h11m-635 126h11m601-21h11m-200 3h11m-45-83h11m-686-348h11m-205 430h11m182 10h11m31-72h11m638 29h11m225-56h11m246-102h11m-333 115h11m-67-86h11m-627 190h11m-795-201h11m1002 86h11m317 16h11m-770 504h11m465-501h11m-356-121h11m826 90h11m-809 252h11m70-184h11m782-130h11m-482 174h11m-809-92h11m818 61h11m-19-81h11m68-62h11m-218 137h11m720-55h11m-748 32h11m1-4h11m-227 153h11m832-263h11m-289 262h11m-486-79h11m-435-37h11m741 53h11m-8-70h11m-1180 78h11m1133-266h11m-420 186h11m-383 40h11m116 97h11m1251-261h11m-652 81h11m-840-103h11m567 141h11m264-88h11m34 156h11m83-59h11m-516 54h11m772-163h11m-1237 167h11m1316-88h11m-1036 168h11m782-204h11m-249-39h11m-975 182h11m633-77h11m-141-126h11m389 157h11m-110 95h11m-784-196h11m806-156h11m420 215h11m-987-21h11m552 37h11m-647 72h11m674-108h11m-623-280h11m706 323h11m64 61h11m-1227-2h11m455-352h11m-221 341h11m273-141h11m512 98h11m-374 70h11m-632 165h11m-329-341h11m1217 185h11m111-45h11m-1275-250h11m1024 224h11m-474-19h11m-53 28h11m1173-145h11m-767-41h11m58 142h11m300-72h11m72-155h11m-834 252h11m-114 67h11m938-176h11m-1059 15h11m-241 132h11m-127-52h11m566-57h11m443 71h11m807-168h11m-1412 54h11m560-6h11m262 51h11m-1399 254h11m484-205h11m116-70h11m979-2h11m252-104h11m-198 112h11m-161-64h11m-365 199h11m-150-202h11m601 67h11m-786 79h11m700-36h11m-225 37h11m209-62h11m82-66h11m-278 161h11m-251 107h11m6-120h11m0-13h11m643-73h11m-1547 148h11m73-153h11m990-33h11m-330 133h11m198 2h11m-976-2h11m724-143h11m-128 64h11m-467 135h11m660-364h11m311 176h11m-694 1h11m533 52h11m96 6h11m-535 106h11m-631-79h11m-228-158h11m248 218h11m118 32h11m1394-116h11m-568 31h11m-74-104h11m425-10h11m-1095-4h11m-144 171h11m1072-69h11m-391 41h11m208-149h11m-257 156h11m-355-193h11m789 57h11m-177 22h11m-193 83h11m-550-179h11m-74 287h11m188-70h11m55-11h11m-184 84h11m514-96h11m-199-70h11m8-36h11m-722 204h11m551-286h11m-673 230h11m698-123h11m-113 155h11m272-283h11m444-29h11m-1568 493h11m618-363h11m160 81h11m633-28h11m-181-43h11m-143 54h11m-528-6h11m293-8h11m-520 58h11m1305-140h11m-1337-36h11m-457 0h11m596 154h11m484 150h11m-720-116h11m594-44h11m291-39h11m-46-5h11m-47 110h11m-1417 297h11m119-45h11m1049-344h11m20 12h11m373-19h11m-495-49h11m445-70h11m-331 131h11m-727 151h11m315-102h11m-169 48h11m215-108h11m295-23h11m-541 201h11m-116-32h11m709-159h11m-616 62h11m442 72h11m232-171h11m-271-9h11m154 87h11m-591 107h11m774-39h11m-841 257h11m606-391h11m565-29h11m-532 29h11m-522 82h11m631-25h11m-516-91h11m211 205h11m492-136h11m-997 22h11m521-113h11m-423 160h11m1214-194h11m-1524 59h11m991 229h11m-1469 42h11m1145-231h11m176-91h11m245 124h11m-174-25h11m-88-23h11m133 39h11m-359 43h11m-370 55h11m694-80h11m-1524 61h11m776 256h11m470-396h11m-77 49h11m-337 107h11m1175-135h11m-972 56h11m-1080 269h11m161-69h11m1577-230h11m-1057 236h11m-428-126h11m495-273h11m829 49h11m-526 189h11m77-33h11m354-89h11m-412 73h11m-536-78h11m-87 141h11m182-67h11m-798-51h11m693 133h11m-1-172h11m-720 436h11m981-390h11m587-48h11m-549 201h11m112-86h11m412-10h11m-120-24h11m-375 115h11m398-196h11m-730 178h11m76-162h11m287 68h11m-777-73h11m405 47h11m-20-113h11m-286 305h11m259-2h11m-377-71h11m311-64h11m-14 116h11m-150 31h11m756-80h11m-1348 389h11m612-509h11m-651 298h11m1025-164h11m-117-106h11m-512 498h11m611-607h11m527 31h11m-489-62h11m666 165h11m-1101 57h11m-400 189h11m790-344h11m-250 60h11m247-50h11m301 47h11m-166-15h11m-517 63h11m839-182h11m-764 87h11m92-1h11m-420 236h11m106-63h11m457-1h11m-739 32h11m158-263h11m683 66h11m129 93h11m-839 51h11m833-89h11m-982 144h11m249 10h11m-478-111h11m848-56h11m547 18h11m-1496-35h11m1307-20h11m-541 125h11m-26 7h11m-110-153h11m-110 58h11m151 71h11m228 3h11m-599 127h11m350-295h11m-260 354h11m1035-200h11m-1933-35h11m827 137h11m-526-451h11m612 294h11m174 88h11m-408-93h11m914 59h11m-421-94h11m667-3h11m-554 161h11m246-129h11m-107-5h11m-636-194h11m399 415h11m466-195h11m-1459 343h11m1423-457h11m-430 146h11m82 60h11m-911-3h11m1038-30h11m-258-237h11m703 78h11m-506 289h11m-958-179h11m952 19h11m-1118-104h11m849-31h11m-446 209h11m-359-124h11m247 221h11m-309-65h11m1043-156h11m-840 64h11m-361 69h11m611-182h11m-160 353h11m-305-322h11m674 83h11m-519 89h11m-115-376h11m782 185h11m-843 194h11m539-96h11m-453-13h11m729-121h11m-921-193h11m1180 259h11m-457 132h11m525-152h11m-752-6h11m-148 92h11m332-76h11m755-97h11m-1683-67h11m516 160h11m-564 302h11m953-258h11m-860 16h11m14 47h11m326-74h11m612-16h11m-950 221h11m387-231h11m226 76h11m437-80h11m-126-3h11m-343 58h11m569-80h11m-1039 179h11m-148-111h11m147-88h11m-338 6h11m1480-29h11m-736 135h11m-259 210h11m-813-236h11m950 38h11m-144 41h11m214-5h11m-149 60h11m172-272h11m-186 108h11m299 37h11m214-86h11m-944-19h11m1178 26h11m-577 31h11m-517 6h11m-569 179h11m1196-193h11m-861 92h11m57-137h11m-2-200h11m-263 474h11m-124-46h11m119-242h11m823 225h11m237-91h11m-1434 187h11m403-199h11m1242-62h11m-1245 255h11m184-154h11m491-104h11m-249 285h11m-382-227h11m407-28h11m604-33h11m-104 68h11m-317 59h11m-219 54h11m360-135h11m-156 38h11m-545 57h11m519-143h11m230 48h11m-238-56h11m-506 110h11m-126 50h11m837-29h11m166-123h11m-1467 329h11m1124-220h11m-684-85h11m831 107h11m-912 121h11m-135-215h11m924 6h11m-809-86h11m261 113h11m367 17h11m-218-200h11m311 260h11m-338-10h11m425-75h11m-133 30h11m-439-26h11m306-71h11m-1020 427h11m326-377h11m-28 14h11m778-148h11m-59 32h11m62 127h11m-246-88h11m646 21h11m-1421-6h11m1426 73h11m-1249 243h11m-51-24h11m850-246h11m-370 141h11m-792 203h11m259-427h11m45 367h11m690-343h11m74 12h11m-720 200h11m383-120h11m245-56h11m-605 106h11m222-194h11m769 53h11m-407 133h11m-133-215h11m240 81h11m20-13h11m-861 271h11m849-295h11m-459 103h11m118 6h11m-731 103h11m857-81h11m-138 77h11m-294 46h11m433-76h11m-103 51h11m-367-137h11m-807 173h11m1145-10h11m-1019 146h11m621-218h11m979-21h11m-53-169h11m-210 151h11m-215 16h11m-684 1h11m260-22h11m-23 12h11m547 55h11m-1430-204h11m1024 172h11m-193-21h11m-491 41h11m1105-207h11m227 120h11m-1727 75h11m623 142h11m-620-61h11m695-87h11m476-62h11m-181 140h11m-415-90h11m437-51h11m-1256-96h11m1373 87h11m226 9h11m-501 6h11m-224 81h11m-31-66h11m602-79h11m-1255 11h11m416 211h11m951-218h11m-493-8h11m-80 183h11m-390 3h11m496-102h11m-194-103h11m419 77h11m-1207-105h11m92 229h11m662 144h11m-193-214h11m186 21h11m193-103h11m-717 1h11m-55 85h11m468 22h11m-74 12h11m193-145h11m127 93h11m-523-111h11m1141-7h11m-1442 125h11m374-29h11m-215 68h11m-258-104h11m1187-56h11m-1042-196h11m649 319h11m-51-56h11m246-33h11m-213 26h11m-469 197h11m74-419h11m665 317h11m-951-108h11m1072-48h11m-512 176h11m516-125h11m-699 94h11m125-85h11m74-47h11m243 198h11m-516-119h11m353-134h11m-1135 234h11m767-8h11m153-109h11m-838-227h11m964 210h11m-1364-49h11m1138 20h11m31 31h11m711-38h11m-363-43h11m-558 240h11m720-110h11m-581-159h11m-153 3h11m581 132h11m-1092 88h11m1413-133h11m-1388 144h11m333-190h11m-1023 250h11m171 199h11m819-299h11m480-137h11m-804-7h11m540 59h11m-125 38h11m-168-24h11m773-145h11m-331 165h11m286-13h11m-412 64h11m207-189h11m-120 119h11m344 25h11m-425-21h11m-516 62h11m-531-14h11m109 80h11m473-57h11m-531 73h11m-79 84h11m630-331h11m504-38h11m-317 56h11m-1256 434h11m1089-268h11m64-101h11m-498 224h11m422-199h11m272-52h11m402 72h11m-49-50h11m-540-52h11m183 42h11m-1443 100h11m1150-113h11m490 75h11m26 2h11m-325-12h11m-402 11h11m198 49h11m-1036 54h11m1275-196h11m-343 72h11m-271 57h11m946-39h11m-1562 91h11m867 106h11m541-289h11m177-7h11m-1476 185h11m1024-98h11m92 38h11m0-135h11m-113 194h11m-51-151h11m-1066-164h11m706 315h11m54-38h11m76-67h11m103 75h11m1 6h11m167-179h11m146 110h11m-561-77h11m-925 264h11m608 250h11m522-427h11m-347 87h11m-543-53h11m1023-114h11m-280 25h11m105-10h11m-866-42h11m-94 173h11m1247-145h11m-627 139h11m-25-176h11m-457 219h11m271 6h11m-431-43h11m629-143h11m-363 198h11m128-172h11m123 129h11m-272-105h11m454-39h11m63 65h11m-673 61h11m-404 73h11m923-162h11m225-20h11m-1135 114h11m1293-133h11m-84 22h11m-548-34h11m384 103h11m-588-32h11m608-44h11m-252-11h11m-1122-81h11m602 114h11m283 66h11m37-226h11m-553 4h11m1152 99h11m-506 157h11m-600-245h11m287-19h11m531 98h11m-426 11h11m132-57h11m475 142h11m-128-136h11m59 76h11m-248 30h11m-515 139h11m-143-131h11m-54 7h11m1050-98h11m-621-72h11m-357 195h11m657 13h11m-823 69h11m128-260h11m419 110h11m-745 152h11m333-183h11m597 36h11m-898-89h11m706 285h11m102-108h11m-276 60h11m-926-194h11m621 63h11m-57 215h11m517-410h11m41 108h11m-323 137h11m282-127h11m-381 33h11m341 138h11m-1328 19h11m411-138h11m545 26h11m-28 84h11m-205-245h11m543 37h11m-217 140h11m345-62h11m-307 81h11m201-188h11m43 183h11m-150-108h11m13 116h11m-81 68h11m-721 3h11m515-31h11m-176 72h11m289-5h11m-1180-46h11m1125-208h11m-917-45h11m582 109h11m365 197h11m-531-97h11m1057-3h11m-872-45h11m51 46h11m-90 30h11m-14 4h11m-815 130h11m-9-26h11m1299-222h11m-926 109h11m-159 254h11m1319-346h11m-166-98h11m-572 131h11m287-23h11m-621 144h11m627-5h11m-384-260h11m-537 467h11m847-334h11m383-142h11m-249-49h11m-592 356h11m-2-178h11m303 61h11m-557-60h11m1136-96h11m-912 220h11m-439 48h11m151-119h11m-238 70h11m395-61h11m739-109h11m-615 35h11m-245 141h11m938-152h11m-559 97h11m-198-124h11m301 141h11m-323 6h11m-542-117h11m1296 81h11m-807-63h11m394 85h11m512-125h11m-227 42h11m-50-143h11m-78 70h11m-518 148h11m127-38h11m782-136h11m-148 104h11m-1106 171h11m830-190h11m-524 6h11m481 53h11m417-99h11m-1386-24h11m286 68h11m-232 40h11m436 74h11m499-111h11m-210 89h11m-638-152h11m584 25h11m-557 107h11m123-227h11m515 162h11m-1493-55h11m776 87h11m723-115h11m-577 296h11m591-221h11m-126-44h11m-541-45h11m192 163h11m40 81h11m161-79h11m-190 46h11m-534-47h11m-40-41h11m818 57h11m-7-179h11m-726 399h11m470-306h11m454-138h11m30 151h11m-504 55h11m69-3h11m322-53h11m-729 109h11m4-89h11m-125 182h11m116-252h11m903 111h11m-1320 197h11m599-253h11m87-64h11m-270 93h11m212-69h11m-1072 113h11m1187-48h11m-730 72h11m-104-173h11m469 124h11m300 118h11m-510-27h11m1211-230h11m-1314 96h11m975-132h11m-697 354h11m819-253h11m-926 30h11m-510-26h11m-128 160h11m-94-240h11m161 136h11m193 31h11m1499-161h11m-2116 108h11m363-90h11m-28-108h11m710 347h11m423-147h11m-865 67h11m1107-13h11m-800 26h11m941-186h11m-1532 126h11m123-82h11m613 195h11m652-200h11m-241-26h11m-1191-29h11m889 107h11m102-26h11m77 148h11m-301-70h11m-136-33h11m-505-47h11m366 62h11m200 25h11m-1184-244h11m1718 209h11m-731 19h11m218-160h11m-233 38h11m-85 43h11m119 82h11m5-55h11m-6 50h11m-1132 320h11m1420-457h11m65 77h11m-669 97h11m261-52h11m694-150h11m-471 217h11m-501-114h11m332 73h11m-1206-373h11m832 195h11m954 118h11m-302-104h11m-310 241h11m-44-181h11m-6 152h11m-55-83h11m-444 120h11m706-190h11m-722 330h11m374-289h11m151-55h11m-220 116h11m-518 22h11m320-134h11m-251 46h11m-120 37h11m206 76h11m652-77h11m-216 42h11m-428-121h11m427 78h11m318-67h11m-1157 49h11m666 103h11m726-175h11m-1246 23h11m521 144h11m-819-41h11m721-39h11m-621 170h11m911-140h11m-315 66h11m-9 15h11m0-73h11m328-185h11m-602 136h11m1029-68h11m-424 21h11m-709 151h11m439-66h11m-676 313h11m129-311h11m-751 121h11m798-80h11m-615 166h11m909-303h11m-506 145h11m683-89h11m-335 143h11m280-173h11m-1327 130h11m1695-65h11m-1121-29h11m-36 244h11m652-293h11m-442 117h11m793-43h11m-451 35h11m-292-17h11m433 67h11m-594-201h11m470 46h11m147 140h11m407-211h11m-158 48h11m-362-110h11m445 220h11m-918-42h11m-423 144h11m-132-164h11m974 122h11m28-174h11m-615-32h11m602 181h11m-271-29h11m-1085 92h11m479-281h11m806 106h11m-1254 89h11m1155-138h11m-587 185h11m725-107h11m-70-142h11m-483 141h11m-130 216h11m16-214h11m165 56h11m-308-154h11m273 82h11m408 222h11m-414-169h11m-847-95h11m213 359h11m265-159h11m853-211h11m-167 40h11m-530 100h11m94-89h11m897 133h11m-584-151h11m378 47h11m-983 130h11m253-77h11m709-99h11m-888 112h11m237-124h11m101 11h11m-205-15h11m546-55h11m22 170h11m-753-283h11m-158 252h11m-569 328h11m1180-312h11m-719 62h11m-276-165h11m1480 161h11m-553 11h11m118-78h11m-1314-389h11m1270 604h11m790-304h11m-990 35h11m149 202h11m-109-179h11m138 28h11m-38-86h11m-271 28h11m429-13h11m-732 98h11m-61 40h11m878-302h11m-1167 230h11m186 225h11m551-363h11m-1104 304h11m-185-325h11m1343 183h11m-72-131h11m353 72h11m-1075 62h11m1052-212h11m-1518 519h11m681-323h11m392-20h11m124-21h11m-827 97h11m57 27h11m666-61h11m-255 12h11m425-135h11m-296 13h11m-1146 124h11m908 7h11m-66 42h11m179-196h11m100-9h11m-286 166h11m-176-24h11m-93 122h11m660-380h11m487 66h11m-950 49h11m1194-22h11m-1083 223h11m-452-1h11m790-150h11m-369 54h11m538-109h11m-1315 1h11m844 91h11m220-78h11m-964 325h11m547-309h11m465-29h11m-615-168h11m-14 490h11m243-212h11m-510 64h11m131-74h11m-363 278h11m931-284h11m-513 40h11m531 16h11m-667 159h11m-196-123h11m214-49h11m-106 25h11m606 102h11m118-181h11m-81-188h11m-60 223h11m-647 4h11m246 151h11m333-179h11m-841-8h11m331-80h11m605-38h11m-1156 350h11m588-335h11m-371 234h11m1059-63h11m-531-6h11m263-191h11m-657 82h11m614 117h11m4 82h11m61-90h11m-100 7h11m-13-202h11m-114 68h11m-643 174h11m-6-8h11m809-116h11m-128 40h11m125 7h11m-240 2h11m800-85h11m-1061 147h11m-542-30h11m1271-231h11m-665 179h11m198 65h11m-195-137h11m149 181h11m-376-49h11m576-133h11m150 148h11m-831-337h11m1103 103h11m-690 122h11m-601 104h11m706-1h11m-389 42h11m43-145h11m348 24h11m125 45h11m-394-23h11m-719 175h11m612-220h11m393-46h11m-492-41h11m1051-33h11m-1106 277h11m31-145h11m-70-189h11m-268 148h11m610 54h11m-361-49h11m344-61h11m-352 185h11m-20-129h11m-554 91h11m566-2h11m707-33h11m-129 26h11m-534-17h11m397-26h11m-124-18h11m337-15h11m-1320-1h11m1102 82h11m-675 107h11m-111-179h11m285 94h11m140 22h11m-707-51h11m329-47h11m-517-23h11m1257-20h11m-1019 130h11m962 14h11m-593-4h11m220 77h11m631-181h11m-1426-89h11m1186 141h11m98 42h11m-486-6h11m429-65h11m-1036 136h11m358 39h11m-592-300h11m-358 211h11m893-13h11m228-68h11m-290-52h11m-118 390h11m-864-400h11m1601 18h11m-872-91h11m-380 179h11m659-14h11m-452-37h11m232 4h11m-711 163h11m1086-146h11m201 20h11m-1056 12h11m532 78h11m657-221h11m-1105 316h11m1077-242h11m-308 205h11m-53-164h11m53-198h11m-827 244h11m494-2h11m-1107 476h11m1499-575h11m539 2h11m-989-159h11m43 145h11m-147 121h11m-469 32h11m904-9h11m-619 65h11m511-290h11m-158 51h11m-606 220h11m590-170h11m-68 151h11m321-245h11m-380 93h11m133-55h11m146 73h11m-339 18h11m-192 354h11m903-374h11m-113-108h11m-715 173h11m64 44h11m-60-26h11m514-9h11m-249-43h11m-16-146h11m175-47h11m-1124 296h11m1167-66h11m-644 120h11m262-77h11m-125-59h11m-652-157h11m1 237h11m1268-211h11m-506-55h11m-652 225h11m694-66h11m-146 57h11m-106 17h11m-513 52h11m-524-154h11m1267 47h11m346-126h11m-983-63h11m946 57h11m-1244 392h11m1196-250h11m-1217-2h11m719-125h11m186 138h11m-704 54h11m-203 50h11m1157-205h11m-907 185h11m-41 10h11m561-242h11m-219 41h11m-538 99h11m1077-151h11m-533 14h11m-723 163h11m175 164h11m1299-264h11m-768-104h11m441 28h11m-380 99h11m477 79h11m-804 44h11m327-38h11m-308-20h11m-278 8h11m1140 6h11m-1644-142h11m296 101h11m790-13h11m-531-24h11m1279 0h11m-1184 117h11m346-199h11m-37 144h11m-997 307h11m795-345h11m896-22h11m-1377 82h11m714-109h11m-205 127h11m-390 187h11m541-321h11m-583-127h11m328 212h11m560-16h11m-663 6h11m391-69h11m-1118 159h11m1327-229h11m-770-116h11m708 109h11m-252 141h11m-496 89h11m678-168h11m-1586 73h11m1278-130h11m363 7h11m-937 186h11m-603 130h11m1549-266h11m-895 51h11m-577-70h11m471 140h11m119-68h11m307-102h11m-313 66h11m660 23h11m40 59h11m-8-113h11m-125 69h11m-485 5h11m-148 196h11m195-241h11m373 67h11m-965-10h11m735-99h11m-569 184h11m1023-85h11m-412 160h11m-558-223h11m-233-41h11m624 128h11m508 0h11m-461 84h11m-75-159h11m-1058-30h11m944 128h11m97-19h11m288-30h11m-1350 21h11m1170-79h11m-294-108h11m449 49h11m-1100 120h11m68-50h11m1080 101h11m-445-143h11m-8 169h11m320-142h11m-134 70h11m-46 79h11m-409 160h11m279-255h11m328-113h11m-284 101h11m-665 23h11m372-73h11m269-8h11m515 94h11m-832-141h11m-758 282h11m453-366h11m234 273h11m-28-52h11m375-79h11m-1339 141h11m126 166h11m674-110h11m122-24h11m-95-143h11m446-31h11m-65 43h11m-278 37h11m217-17h11m-1151 56h11m1111-261h11m-31 250h11m-349-103h11m1082-69h11m-874 149h11m99-109h11m412 16h11m-334 50h11m177 47h11m-1087 179h11m775-230h11m443-75h11m-400 54h11m-234 144h11m532-156h11m-1074-141h11m1036 239h11m-1602-97h11m1518 67h11m-376-119h11m18 47h11m-245 32h11m-872-1h11m1807-203h11m-441 184h11m-1359 388h11m1369-385h11m-158-5h11m-597 100h11m129 143h11m346-98h11m-337-198h11m349 116h11m-120-70h11m-220 76h11m-564-40h11m219 14h11m321-91h11m232 179h11m-109-155h11m-395-20h11m-299 153h11m206-100h11m575 32h11m745-3h11m-978-3h11m-515 44h11m480-44h11m-342 155h11m443-100h11m-352-59h11m-845-243h11m167 401h11m778-42h11m-89-254h11m232 96h11m-211-24h11m417 178h11m-744-136h11m435-76h11m-428 206h11m615-107h11m142-34h11m-261 89h11m-894-82h11m1445-44h11m-1247 208h11m874-131h11m-810-67h11m717-4h11m-870 215h11m606-292h11m480 152h11m-614 59h11m-609 57h11m852-118h11m-1199 73h11m796-247h11m-59 119h11m-639 263h11m1127-264h11m-720 328h11m1250-343h11m-663 167h11m-72-16h11m-719-102h11m357 58h11m174-47h11m-811 61h11m1366-5h11m-746-112h11m43 382h11m-685-132h11m140-90h11m557-62h11m628-30h11m-102-12h11m-260 174h11m-682-34h11m861-181h11m140-2h11m-931 169h11m-130-55h11m502-43h11m650-6h11m-716-106h11m749-36h11m-799-27h11m-308 201h11m-79 119h11m-3-111h11m344-46h11m-128-138h11m-452 172h11m628 21h11m463-143h11m107 142h11m-295-128h11m-653-13h11m88 189h11m162-26h11m794-184h11m-575 181h11m-579 38h11m950-144h11m-7-52h11m-831 112h11m443-100h11m359-71h11m-1452 182h11m1626-13h11m-1429-3h11m199 97h11m635-153h11m-633 180h11m251-135h11m-466 66h11m1215-2h11m-1004 12h11m640-199h11m389 72h11m-1011-57h11m1012 96h11m-646 19h11m463-6h11m-618-11h11m283-28h11m-240 195h11m714-207h11m-1450 210h11m471-247h11m-287 90h11m569-48h11m-327 54h11m378-6h11m145-177h11m88 99h11m-359 77h11m-42 69h11m-342-91h11m335-25h11m-542 84h11m-54-136h11m-50 42h11m766-4h11m-614-75h11m464-24h11m-279 163h11m53-23h11m44 58h11m-1015-282h11m1350 325h11m-422-76h11m595-149h11m-1085 309h11m-143-125h11m1028-47h11m-1363 77h11m984-94h11m697 15h11m-72-16h11m-203-25h11m234 17h11m-1042 218h11m923-146h11m-966-42h11m413-25h11m-626-195h11m1315 37h11m-1167 201h11m675-95h11m-976 146h11m1176-124h11m-1563 81h11m846-253h11m-512 55h11m-424 283h11m592-221h11m416 93h11m-403-194h11m459 270h11m-215-283h11m368 205h11m107 23h11m-1085 199h11m524-337h11m38 145h11m899-74h11m-1026 52h11m-205-6h11m-301 474h11m684-526h11m491-50h11m-208-20h11m-751 65h11m1017 36h11m-1276 205h11m1320-263h11m-387-28h11m-394 111h11m-42-108h11m320 164h11m480-107h11m-943 144h11m471-216h11m174 107h11m-538 257h11m318-281h11m-279 54h11m510-59h11m-1086 137h11m946 1h11m97-129h11m-278 146h11m-85-232h11m-387 346h11m761-224h11m-527 61h11m372-61h11m-702-386h11m-558 529h11m1404-96h11m-622-15h11m84-104h11m-286 65h11m88 32h11m-271 237h11m718-315h11m-1072 420h11m1531-294h11m-512-199h11m-179 64h11m127 43h11m-218-26h11m232 91h11m-125-152h11m-116 127h11m404-189h11m-172 103h11m-167-47h11m673 42h11m-452-84h11m224 69h11m-548 137h11m-420 111h11m361-111h11m326-90h11m333-10h11m-1134 77h11m729 77h11m-153-163h11m-45-52h11m71-1h11m-519 161h11m-84-146h11m-47-25h11m-244 252h11m523-141h11m136-84h11m-14-38h11m-81 122h11m-871 36h11m363 115h11m-152-110h11m649-95h11m553 101h11m-318-11h11m80-80h11m-750 37h11m379-149h11m-616 198h11m411-4h11m-224 33h11m-341-58h11m-1-139h11m1112 113h11m-1063 230h11m1164-275h11m-489 33h11m-242 147h11m631-202h11m-309 103h11m276-47h11m58 41h11m-335-192h11m-949 185h11m894-56h11m-1197 311h11m1074-75h11m187-212h11m-182 20h11m156-4h11m-562-47h11m-514 396h11m1411-388h11m-508 140h11m-832 74h11m750-110h11m-65-303h11m-268 486h11m433-170h11m112 115h11m-25-193h11m-35 12h11m-476-128h11m724-12h11m-678 192h11m-82-143h11m211 3h11m704-2h11m-988-22h11m-69 76h11m-407 183h11m865 33h11m45-116h11m-241-61h11m-43 82h11m-452-206h11m282 61h11m713 106h11m-835-39h11m590-96h11m-468 96h11m-192-63h11m106-135h11m-320 374h11m435-170h11m-246-355h11m1151 252h11m-1153 60h11m687-112h11m157 208h11m-665-71h11m393-154h11m-278 154h11m457-114h11m-390 75h11m-134 109h11m-23-81h11m228-67h11m-249 64h11m-673 103h11m596-288h11m103 286h11m104 18h11m-955-152h11m457-92h11m294 174h11m27-4h11m237-203h11m-173 150h11m-496 150h11m-227 52h11m-31-90h11m785-124h11m-736 179h11m1028-133h11m-831 112h11m197-215h11m-138 54h11m600-39h11m-476-65h11m44 174h11m-57 68h11m70-91h11m-4 79h11m455-186h11m-600 117h11m601 44h11m-839-160h11m665 139h11m-1491-49h11m199 146h11m202-120h11m196-160h11m31 182h11m1101 2h11m-1023-72h11m109 14h11m847 22h11m-302-97h11m-688 40h11m64 187h11m-254-33h11m318-155h11m-588 160h11m700-51h11m27-155h11m134 173h11m201-133h11m-263 78h11m-369 51h11m873-116h11m-292 30h11m-244 31h11m389 33h11m-1410 416h11m1474-578h11m-488-31h11m6-5h11m-511 4h11m-480 290h11m1278-173h11m23-36h11m210-10h11m-239 73h11m60-66h11m-1508 486h11m1378-434h11m-592 63h11m-531-147h11m362-49h11m191 265h11m133-222h11m275 91h11m-988 129h11m137-211h11m855 128h11m-304 31h11m-15-119h11m-55-77h11m-645 224h11m30-119h11m1004 71h11m2-102h11m-707 159h11m-286-105h11m643 117h11m-886-161h11m870 10h11m-545-69h11m-112 361h11m-140-243h11m-22 366h11m1158-351h11m-23-68h11m-763 256h11m382-421h11m-944 450h11m73-395h11m820 81h11m-88 76h11m-745 42h11m-481-83h11m1005 91h11m-36 91h11m-203-99h11m-174-108h11m1249-80h11m-495 149h11m-1075 56h11m910-68h11m324-132h11m-301 145h11m-459 0h11m312 116h11m159-79h11m328-76h11m-405 83h11m-341-41h11m231 35h11m-92-68h11m39 52h11m73-201h11m-570 181h11m462-118h11m-45 74h11m-83-11h11m-23 80h11m28 38h11m40-99h11m410-44h11m-1112 473h11m279-407h11m124-38h11m621-19h11m-1017 152h11m1045-211h11m-407 139h11m-744-81h11m1075 32h11m-1521-29h11m1169-3h11m-362 266h11m-213-194h11m523 55h11m-1209 211h11m797-342h11m157 137h11m246-208h11m836 75h11m-600-29h11m185 50h11m-1280 184h11m222-86h11m453-17h11m-439-74h11m953-107h11m-1241 273h11m742-155h11m-80 3h11m333-23h11m-1464-78h11m1239 17h11m-328 162h11m-440 38h11m280-135h11m449 166h11m-145-42h11m-760-5h11m353-92h11m-43 80h11m372 10h11m-779 269h11m1263-400h11m-570 108h11m-183-17h11m-161-468h11m471 360h11m386 57h11m-925 11h11m445 14h11m22-93h11m338 44h11m-207 83h11m-83 50h11m-595 22h11m112-42h11m84 32h11m-553 22h11m970-159h11m-267 115h11m-908 100h11m575-247h11m514 138h11m-1049-128h11m724 163h11m309-162h11m-631 172h11m-214-150h11m234 17h11m454-119h11m13 170h11m-506-128h11m202-26h11m124 401h11m-469-555h11m-36 600h11m696-344h11m-558-103h11m-821 92h11m1436 92h11m-510-133h11m527 48h11m-1050 38h11m1018 94h11m-36-168h11m-763 198h11m388-92h11m327-30h11m151 59h11m-57-115h11m-1112-86h11m816 21h11m-142 138h11m-42-106h11m331-13h11m-1044-22h11m1029 45h11m-340-26h11m245 55h11m-407-13h11m-435 258h11m-419-190h11m684-46h11m137 101h11m327-103h11m-1045-8h11m-198 266h11m1595-323h11m-558 112h11m-594 151h11m954-226h11m-779-119h11m450 80h11m168 40h11m-464-76h11m709 50h11m218-22h11m-979 38h11m-12 100h11m525-116h11m-1320 78h11m1799-81h11m-800 27h11m-303 110h11m-793 195h11m867-223h11m-60-53h11m258 77h11m-450 18h11m21-76h11m-270-11h11m-184 126h11m1222-188h11m63 25h11m-609-14h11m696 52h11m-784-86h11m-181 182h11m796-14h11m-733-34h11m-453 134h11m1263-168h11m-960-111h11m422 160h11m-344-87h11m37-249h11m-29 213h11m-13 19h11m50 170h11m-817 86h11m502-182h11m470-102h11m419-24h11m-341 172h11m-676 45h11m221-55h11m281-145h11m560-31h11m-582 103h11m-658-9h11m110 135h11m200 77h11m332-218h11m-324-40h11m630 88h11m-929 45h11m1311-176h11m-1207 86h11m-60 270h11m808-311h11m602-45h11m-725 182h11m-524-255h11m694 164h11m-595-69h11m770-12h11m-554 106h11m-524-65h11m503 70h11m88-80h11m-516 96h11m52 60h11m648-142h11m80 89h11m-1211 171h11m-71-260h11m1232 49h11m-1391 340h11m-155-442h11m1448 31h11m226 38h11m-1139 78h11m1174-63h11m-1028 114h11m867-51h11m-994 99h11m578-289h11m-84 125h11m-53 0h11m-224 94h11m467-40h11m-415 86h11m-510-47h11m311-110h11m339-60h11m80-8h11m-48 124h11m31-36h11m125-107h11m-184 226h11m196-70h11m-398-128h11m232 111h11m29-105h11m-95 4h11m458 67h11m-607 67h11m-957-48h11m811 62h11m231-28h11m-493 151h11m367-211h11m-123 73h11m-276 3h11m644 1h11m-1225 97h11m-263-78h11m1329-115h11m-592 224h11m463-156h11m-495-65h11m537 148h11m-67-91h11m326-77h11m-843-16h11m547 166h11m-410 172h11m795-324h11m157-53h11m-1160 213h11m791-88h11m235-22h11m224-40h11m-1601 127h11m-18-136h11m230 142h11m247 119h11m-615-487h11m535 338h11m368-123h11m-968 214h11m655-26h11m54-102h11m-751-264h11m227 54h11m609 125h11m-46-30h11m625 68h11m-1134 137h11m711-47h11m436-110h11m-942-84h11m94 113h11m535 49h11m-112-15h11m-125-23h11m-398-28h11m193-16h11m81 51h11m-385 51h11m-764 88h11m1428-159h11m-512 92h11m332-87h11m173 53h11m-261-28h11m54 128h11m-510-63h11m604-99h11m-255 14h11m116 78h11m-207-95h11m-31-3h11m-664-30h11m602-32h11m-69 134h11m-790-417h11m238 464h11m1040-43h11m-356-11h11m-210 114h11m-381 1h11m1097-164h11m-898-58h11m330 160h11m-558 44h11m743-100h11m-244-48h11m311-24h11m-587 128h11m292-37h11m-726 224h11m627-210h11m586-134h11m46 49h11m-1145 303h11m-209-364h11m667 67h11m808 17h11m-1229-149h11m773 100h11m-795 17h11m-428-39h11m1063 230h11m-560-237h11m219 188h11m-352-151h11m370 136h11m274-59h11m-970 30h11m498-68h11m426-37h11m-720 172h11m1087-252h11m-1071 244h11m16 117h11m255-205h11m407 61h11m-556-171h11m355 172h11m-388 24h11m334-179h11m-1250-137h11m401 316h11m524-113h11m-157 14h11m540 93h11m-603-70h11m-207-88h11m484 219h11m318-252h11m-178 45h11m-307 364h11m23-425h11m364 187h11m-500-59h11m31 31h11m864-79h11m-1536 82h11m793-214h11m196 74h11m-784-86h11m317 373h11m-212-77h11m1394-183h11m-1322 31h11m-150-54h11m1045 66h11m251 4h11m-275 36h11m-214 55h11m-73-134h11m201-72h11m-65 56h11m-709 108h11m385-123h11m383 69h11m-1508 320h11m764-410h11m-94 230h11m567-216h11m-88 68h11m-547 118h11m211 26h11m117-365h11m714 271h11m-998 7h11m452-6h11m-49-61h11m530 50h11m-448 85h11m-521-72h11m-806 128h11m550-122h11m694 2h11m-182 74h11m164-144h11m-204 15h11m473-29h11m-1301 217h11m876-202h11m-345-23h11m-613 237h11m753-246h11m273 156h11m-102-9h11m-735-138h11m897-44h11m-411 113h11m-621 220h11m1224-295h11m-833 129h11m-500-27h11m1013-123h11m356 155h11m-161-84h11m-124-36h11m-737 209h11m36-174h11m-424 54h11m-223-76h11m1185 7h11m-122 161h11m-850-227h11m919-98h11m33 170h11m-674-31h11m214 29h11m772 89h11m64-199h11m-122 127h11m-1315 16h11m643 99h11m149-51h11m-104 16h11m-669 59h11m73-154h11m785 92h11m-298-103h11m216 111h11m255-166h11m-1361 59h11m1642-83h11m-769 192h11m293-147h11m-1369 433h11m1079-287h11m-883 304h11m277-328h11m1337-39h11m-1196 173h11m598-261h11m-618 83h11m710 39h11m-484 223h11m489-290h11m-89 49h11m-1059 238h11m818-229h11m-1075-47h11m370-48h11m698 44h11m171-221h11m-85 211h11m-1005-147h11m1212 89h11m147-45h11m-1272 193h11m694-95h11m-375 125h11m-134 40h11m894-142h11m-202-32h11m-969 128h11m410-25h11m-274-92h11m1152-150h11m-1147 219h11m-70 16h11m104-8h11m1251-23h11m-723-139h11m3 74h11m-560 313h11m993-364h11m-568 96h11m-317 122h11m-286-18h11m665-277h11m-500-112h11m-608 322h11m1155 98h11m-486-47h11m1013-209h11m-390 32h11m-963 17h11m168 301h11m614-329h11m-226 116h11m170-31h11m242 41h11m-805 83h11m851-159h11m-1216-31h11m905 75h11m-1316-70h11m1582 62h11m-719 208h11m86-316h11m70 181h11m-342-46h11m846-104h11m-856 35h11m944-79h11m-1433 4h11m387-140h11m-75 203h11m756 17h11m-1370 76h11m129 153h11m499-291h11m1446-26h11m-1625 143h11m212 107h11m-291-86h11m145 253h11m571-295h11m-51 80h11m2 10h11m460-123h11m-107 5h11m-1296-35h11m913-18h11m-65 159h11m-478-229h11m747 308h11m-51-92h11m187-204h11m493 92h11m-1349 198h11m-292 155h11m204-111h11m408 9h11m463-121h11m-93-82h11m-895 76h11m714-193h11m-1169-7h11m1668 125h11m-1126 6h11m18-110h11m-656 309h11m1440-128h11m-416-48h11m-763-30h11m837-34h11m-584-63h11m912 30h11m-433 144h11m-541 126h11m-25-94h11m346-279h11m447 177h11m-216 24h11m-7-60h11m-1099 462h11m490-322h11m850-123h11m-700 55h11m-803 370h11m1473-497h11m-737 247h11m983-145h11m-1798 99h11m1782-244h11m-348 155h11m-1367 169h11m1116-283h11m-495 64h11m-492-94h11m309 188h11m377 20h11m274-75h11m367 28h11m-730-39h11m-239 119h11m537-134h11m-802-273h11m1123 189h11m-410 103h11m282-93h11m-715 251h11m360-48h11m-520-261h11m398 153h11m-424 219h11m993-269h11m-509 145h11m-250-86h11m754-74h11m-1131 178h11m-64 0h11m168-119h11m1000 15h11m-681-49h11m661 45h11m-527 7h11m608 0h11m-667-95h11m23 143h11m74-80h11m-885 237h11m-293-261h11m1196 2h11m-434 153h11m-764 66h11m729-244h11m900-50h11m-802 62h11m369-213h11m-120 381h11m-408-246h11m-697 265h11m1376-125h11m-378 31h11m41 12h11m-463-10h11m543 11h11m-188 19h11m-879 67h11m1148-251h11m233 119h11m-565 20h11m-871-8h11m835 75h11m598-118h11m-221-12h11m-118 8h11m307-75h11m-1246 400h11m787-281h11m-212 0h11m542 15h11m-1455 241h11m1204-259h11m-1271 296h11m1384-315h11m-331 16h11m-550 12h11m1031-51h11m-281-14h11m-192-3h11m-533-14h11m834 50h11m-136-9h11m191-65h11m-575 36h11m30 61h11m-69 81h11m432-141h11m-12 64h11" transform="scale(0.1)" stroke="#ee6c46" stroke-width="11" fill="none" opacity="0.9"/>
<ellipse cx="213.0" cy="323.2" rx="42.0" ry="12.6" transform="rotate(-5 213.0 323.2)" fill="#ee6c45"/>
<ellipse cx="197.0" cy="324.3" rx="61.0" ry="16.8" transform="rotate(-5 197.0 324.3)" fill="none" stroke="#666" stroke-width="0.8"/>
<ellipse cx="205.0" cy="323.8" rx="49.0" ry="14.5" transform="rotate(-5 205.0 323.8)" fill="none" stroke="#666" stroke-width="0.8"/>
<ellipse cx="213.0" cy="323.2" rx="42.0" ry="12.6" transform="rotate(-5 213.0 323.2)" fill="none" stroke="#3a3434" stroke-width="0.55" stroke-opacity="0.85"/>
<ellipse cx="213.0" cy="323.2" rx="37.7" ry="11.5" transform="rotate(-5 213.0 323.2)" fill="none" stroke="#3a3434" stroke-width="0.55" stroke-opacity="0.85"/>
<ellipse cx="213.0" cy="323.2" rx="33.4" ry="10.5" transform="rotate(-5 213.0 323.2)" fill="none" stroke="#3a3434" stroke-width="0.55" stroke-opacity="0.85"/>
<ellipse cx="213.0" cy="323.2" rx="29.1" ry="9.4" transform="rotate(-5 213.0 323.2)" fill="none" stroke="#3a3434" stroke-width="0.55" stroke-opacity="0.85"/>
<ellipse cx="213.0" cy="323.2" rx="24.8" ry="8.4" transform="rotate(-5 213.0 323.2)" fill="none" stroke="#3a3434" stroke-width="0.55" stroke-opacity="0.85"/>
<ellipse cx="213.0" cy="323.2" rx="20.5" ry="7.3" transform="rotate(-5 213.0 323.2)" fill="none" stroke="#3a3434" stroke-width="0.55" stroke-opacity="0.85"/>
<ellipse cx="213.0" cy="323.2" rx="16.2" ry="6.3" transform="rotate(-5 213.0 323.2)" fill="none" stroke="#3a3434" stroke-width="0.55" stroke-opacity="0.85"/>
<ellipse cx="213.0" cy="323.2" rx="11.9" ry="5.2" transform="rotate(-5 213.0 323.2)" fill="none" stroke="#3a3434" stroke-width="0.55" stroke-opacity="0.85"/>
<ellipse cx="213.0" cy="323.2" rx="7.6" ry="4.2" transform="rotate(-5 213.0 323.2)" fill="none" stroke="#3a3434" stroke-width="0.55" stroke-opacity="0.85"/>
<ellipse cx="213.0" cy="323.2" rx="3.3" ry="3.1" transform="rotate(-5 213.0 323.2)" fill="none" stroke="#3a3434" stroke-width="0.55" stroke-opacity="0.85"/>
<path d="M0 0m1738 3994h10m-1074 105h10m470-164h10m83 110h10m1026-43h10m-1653 1h10m1579 26h10m-1154 9h10m-470-60h10m1531 66h10m-462-22h10m-702-52h10m811 9h10m-876-86h10m692 113h10m-421-9h10m81-16h10m412 45h10m-397-20h10m725-6h10m-558 11h10m-882 6h10m938-13h10m-198 10h10m-412-14h10m120 19h10m185-9h10m358 13h10m331-15h10m-1394-66h10m1518 77h10m-1556 0h10m187-45h10m-222 127h10m760-100h10m-696 21h10m1091-18h10m-1228 3h10m851-11h10m-435-5h10m117-21h10m548 21h10m87-23h10m-1203 3h10m288 126h10m-156 5h10m1462-106h10m-1283 21h10m-5-9h10m1155 8h10m-1060-26h10m130 43h10m1060-15h10m-1437 2h10m-326-1h10m960-5h10m84-6h10m-371 56h10m-496-45h10m145-44h10m-349-35h10m98 70h10m69-13h10m1040 7h10m-362-6h10m343 2h10m-1169-37h10m173-41h10m-224 131h10m785-59h10m-739 20h10m427-76h10m195 58h10m747-9h10m-1236-20h10m1154 42h10m-1382 24h10m783-13h10m663-22h10m-1142 1h10m-473 78h10m946-87h10m-871 18h10m521 66h10m93-71h10m465 24h10m334-26h10m-60 9h10m-1341-22h10m-113 45h10m434-7h10m-410 14h10m36-60h10m819 50h10m206-20h10m-76-9h10m-106-5h10m189 52h10m-458-27h10m-449-16h10m-65-1h10m1316 9h10m-1188-17h10m528-11h10m-830 24h10m-169-73h10m430 28h10m1153 30h10m-432 2h10m365 19h10m-1229-17h10m157 38h10m764-29h10m-1297-76h10m126 75h10m1348-7h10m-1230 58h10m185-59h10m-451 13h10m251-10h10m28 13h10m192 16h10m-347 2h10m891-23h10m-700 16h10m233-43h10m-596 70h10m63-149h10m485 129h10m-52-46h10m1128 16h10m-706 4h10m-789 9h10m900-20h10m-1068-48h10m1407 56h10m-843-4h10m101 18h10m-658 36h10m1462-47h10m-1066 6h10m-173-1h10m610-8h10m-960-68h10m348 69h10m562-15h10m-798-27h10m16 40h10m1523-14h10m-1075 17h10m-178 32h10m-186-84h10m-34 63h10m52 67h10m56-104h10m580 14h10m157 38h10m-290-61h10m13 27h10m-687 41h10m-101-44h10m1362 19h10m-257 18h10m-1055-26h10m489 12h10m-645-63h10m803 52h10m-411-5h10m1073 10h10m-329 31h10m-988-68h10m851 2h10m-469 30h10m-589-63h10m-89 38h10m-81 6h10m294 11h10m1203 32h10m13-32h10m-1321 39h10m-182-22h10m1177 0h10m-725-6h10m64-4h10m-252-39h10m1287 38h10m-472-3h10m-312-10h10m-856 15h10m108 70h10m1501-62h10m-1295 5h10m1123-20h10m-1348-5h10m-143-78h10m1599 85h10m-833 24h10m784-5h10m-1463-17h10m521 25h10m-722-39h10m1475 42h10m-779-8h10m-81-10h10m-431-25h10m12-90h10m1395 100h10m-637-19h10m-237 38h10m25-24h10m72 4h10m-261 0h10m501 22h10m-989-67h10m718 54h10m-176 4h10m464-17h10m-165-8h10m-848-22h10m709-15h10m-727 111h10m-116-35h10m346 51h10m-89-67h10m1269 6h10m-1426 33h10m-211-6h10m1509-43h10m-1445-2h10m1354 8h10m26 10h10m70-22h10m-1192 17h10m-349-46h10m360-20h10m-151 53h10m1195 17h10m-1487 15h10m1488-13h10m-553 0h10m517-5h10m-1388 62h10m1392-67h10m-1288-22h10m-83 23h10m769-6h10m-636-15h10m-19 34h10m1070 9h10m-1081 3h10m-226 19h10m289-15h10m-283-9h10m91-26h10m-200-40h10m1633 46h10m-1009-8h10m32-4h10m-131 48h10m474-80h10m-994 53h10m865-11h10m-555-38h10m-263 39h10m1492-15h10m-1001 10h10m497 15h10m224-21h10m-715 10h10m363 13h10m-488-101h10m-392 66h10m-27 21h10m963 50h10m-539-26h10m568-11h10m-1291-28h10m1476 15h10m-1148-52h10m-334 35h10m1221 26h10m-679-15h10m332 10h10m-879 10h10m67-4h10m198-10h10m597 41h10m-783-55h10m72-99h10m-154 91h10m1450 14h10m-1552-13h10m419 37h10m998-9h10m-13 1h10m-734-6h10m447 12h10m-146 51h10m-647-69h10m-65 27h10m1328-28h10m-757 28h10m-741 13h10m-125-19h10m889-18h10m442-4h10m-1313 16h10m919-7h10m-617-16h10m242 38h10m279 9h10m-1039 41h10m832-53h10m-774-66h10m946 51h10m-91-6h10m170 1h10m-28-37h10m-431 3h10m-241 42h10m413 20h10m-481-23h10m433 4h10m-459 79h10m1312-78h10m-77-20h10m-451 2h10m330 14h10m-507 19h10m548-11h10m-1502-106h10m524 86h10m-175-41h10m-331 40h10m372-8h10m-347 63h10m388-46h10m-329-15h10m546 39h10m-333-21h10m-203 36h10m877-20h10m-159-31h10m-1022 29h10m681-29h10m-669 25h10m926-3h10m426-7h10m-679 19h10m-513-21h10m109 28h10m302-35h10m43 40h10m-562-19h10m96-43h10m-42 41h10m45-34h10m-249-10h10m-105 3h10m251-93h10m-291 114h10m1162 18h10m-1228-54h10m122 44h10m182-9h10m-27 27h10m521-94h10m789 80h10m-1438-77h10m387 75h10m176-9h10m911 7h10m-1122 18h10m-295-29h10m-310 9h10m1476-23h10m-664 6h10m-621-67h10m-219 126h10m1159-54h10m-875 5h10m37 4h10m311-8h10m-660-38h10m1166 40h10m-210 30h10m-920-18h10m216 10h10m1203-13h10m-492 8h10m119-27h10m-79 2h10m-824 23h10m186 16h10m176 3h10m-64-29h10m638 2h10m-750-34h10m78 1h10m498 40h10m-734-64h10m789 87h10m-65-14h10m-974 42h10m483-86h10m874 29h10m127 8h10m-722 9h10m-650-81h10m277 35h10m-287 35h10m1105 12h10m-759-5h10m-727-28h10m844 8h10m429 15h10m-466-17h10m-20 1h10m313 19h10m-262 5h10m188-18h10m-977-31h10m-143-80h10m758 148h10m348-72h10m-534 50h10m-129 10h10m-420-57h10m1414 56h10m-1347 14h10m-147-68h10m417 28h10m664-2h10m-1131 17h10m904-7h10m-322-87h10m-406 87h10m34 96h10m1268-83h10m-1453 61h10m943-103h10m54 5h10m-824-4h10m1390 15h10m-742-12h10m-795 21h10m1020 16h10m-195-21h10m-940-71h10m846 62h10m-455 26h10m-250 7h10m1165-18h10m82-9h10m-1468-42h10m833 26h10m-405 36h10m-343-69h10m-65 94h10m120-50h10m464-79h10m541 95h10m-888 12h10m-443 36h10m1053-18h10m-603-23h10m-388-36h10m66 101h10m1583-61h10m-1546-42h10m-152 40h10m-63-4h10m86-42h10m1019 66h10m-971-27h10m1517 20h10m-829 6h10m-463-23h10m-88 18h10m-309-86h10m215 94h10m695-75h10m-93 24h10m-860 49h10m678-8h10m-475-31h10m85-41h10m201 80h10m-290-8h10m68-11h10m862-34h10m-335 19h10m154 19h10m-632 4h10m1180-27h10m-1123 30h10m59-23h10m-275-12h10m-32 27h10m-155-65h10m1256 32h10m-903 32h10m41-5h10m-503-85h10m381 67h10m-357 15h10m86 2h10m46-25h10m-221-32h10m-90 54h10m457-9h10m-431 47h10m371-72h10m208 58h10m-547-144h10m8 71h10m18 46h10m12 45h10m422-41h10m-266-20h10m1232-1h10m-907-2h10m-28 4h10m-618 27h10m64 37h10m110-87h10m1447 55h10m-62-9h10m-130-21h10m-598-9h10m-453 28h10m1002-21h10m-410 16h10m-724 13h10m-265-1h10m92-9h10m690 9h10m525 5h10m-310 0h10m-933-28h10m172 19h10m1252 7h10m-179 25h10m175-43h10m-725-17h10m-351 27h10m-205-3h10m131-10h10m-443-22h10m-48-37h10m1489 66h10m-1024-11h10m-603-90h10m312 71h10m1308 29h10m-1460-7h10m717-8h10m-189 13h10m-656 5h10m881 8h10m-740 3h10m-214-43h10m-24 130h10m1369-113h10m-1380 1h10m288 39h10m835-34h10m-1059 36h10m-74 18h10m1430-40h10m-4-7h10m-1081-17h10m-132 60h10m1300-30h10m-1698-42h10m377 46h10m580-51h10m736 22h10m-805-12h10m-858 18h10m24-49h10m70 31h10m498 45h10m460 31h10m-666-119h10m961 67h10m-1435-16h10m471 7h10m-371-3h10m509-64h10m-472 157h10m536-119h10m-207 37h10m1070 18h10m-1103-22h10m-325-23h10m1215 45h10m-893-39h10m-378 49h10m729-44h10m615-2h10m-1377 92h10m764-66h10m-652 10h10m1238-31h10m-174 18h10m-877 14h10m-545-41h10m1450 16h10m-1170-21h10m98 37h10m-5 9h10m-192 17h10m-231-67h10m921-11h10m295 38h10m-1265-71h10m23 23h10m271 60h10m548 29h10m-855-80h10m530 43h10m-8-10h10m953 8h10m-459-9h10m-865 41h10m182-15h10m1118 15h10m-682-35h10m-571 12h10m463-3h10m752 13h10m-20-7h10m-385-10h10m41 8h10m-1052 54h10m-112-63h10m1388 11h10m-1418-91h10m390 29h10m1192 34h10m-1617-20h10m391 22h10m-356-70h10m-136 75h10m291 25h10m102-20h10m986 1h10m-878 16h10m963-4h10m-1353 17h10m175-7h10m-107-34h10m622 17h10m-929 11h10m403-41h10m1147 36h10m-1346 5h10m413-10h10m1038-22h10m10-13h10m-1635 40h10m615-2h10m130-2h10m-189-24h10m-76-2h10m-607 4h10m78 70h10m130-77h10m-41 23h10m220-5h10m397 13h10m-131 9h10m-588 48h10m112-82h10m1003 23h10m-803 87h10m-220 33h10m1261-133h10m-1434-21h10m797 50h10m-375-25h10m-429 45h10m182-6h10m-388-30h10m1254-42h10m-1186 75h10m294-9h10m-174-30h10m688 17h10m335-4h10m-7-5h10m-283 4h10m57-29h10m244 13h10m-155 53h10m-368-42h10m-742-102h10m-64 93h10m660-4h10m59 25h10m-12-41h10m401 20h10m-1022-4h10m268 43h10m750-22h10m262-15h10m77 5h10m-334-4h10m-423 9h10m907-1h10m-1536 40h10m-102 39h10m57-130h10m975 43h10m-682 24h10m-33-19h10m1143 14h10m-159-19h10m-1078 36h10m242-36h10m-391-1h10m694-27h10m-823 21h10m457 22h10m-117-5h10m659 0h10m-1028 68h10m820-56h10m558-19h10m-543 5h10m-965-7h10m286-31h10m1156 31h10m-1480-6h10m1514 3h10m-1357 54h10m1424-50h10m-1050 16h10m-648-16h10m1743 10h10m-1390-14h10m-152-4h10m507 9h10m-398 20h10m848-77h10m-947 74h10m1368-26h10m-1315 11h10m-56-47h10m413 69h10m156-38h10m-799-83h10m1474 79h10m-1562 0h10m998 24h10m-1070-81h10m1468 75h10m-985-2h10m-195 44h10m25-15h10m410-15h10m252-29h10m423 21h10m-796-20h10m851 12h10m-1340 30h10m106-12h10m-168-117h10m550 102h10m802-5h10m-864 18h10m55-16h10m885 10h10m-702-25h10m-699-22h10m-117 32h10m106 1h10m-31 8h10m-102 4h10m1377-15h10m-1479-30h10m610 36h10m-340-7h10m-285 8h10m562 13h10m109-22h10m345-13h10m-1173 23h10m1743-17h10m-511 38h10m310-22h10m35 13h10m-1436-43h10m892 61h10m669-30h10m-1439 74h10m-125-86h10m732 24h10m-520 2h10m-286 22h10m-117-91h10m913 29h10m102 40h10m-64 4h10m-1033-11h10m1531-12h10m-1531-31h10m611 22h10m404-2h10m568 5h10m-539 22h10m-171 2h10m625-27h10m-424-20h10m-1173 78h10m1242-12h10m-833-2h10m-38-7h10m388-2h10m-763-99h10m1150 47h10m-1242-4h10m964 66h10m-799-27h10m-143-29h10m255-6h10m229 37h10m-559-24h10m205-19h10m1322 25h10m-253 10h10m-235-15h10m138 17h10m-852-54h10m224 53h10m-249-9h10m1315-4h10m-803 35h10m-886-97h10m1487 61h10m-1267 17h10m271-14h10m-345-45h10m363 84h10m491-13h10m-216 23h10m617-53h10m-1456-38h10m655 70h10m-467-18h10m-73-30h10m117 35h10m-47 11h10m537-13h10m-566 11h10m-95-80h10m776 80h10m-752-121h10m-47 89h10m134 32h10m-88-1h10m1278 0h10m85-25h10m-667-18h10m56 34h10m370-1h10m-1236 1h10m54 11h10m1268-19h10m-916 8h10m-262-19h10m-150 17h10m31 16h10m74-35h10m-100-49h10m951 59h10m-1270 47h10m1101-26h10m-1035-10h10m1134 0h10m-893-7h10m-294 31h10m-63 10h10m773-37h10m-597-43h10m-138-61h10m886 131h10m-571-53h10m1263 59h10m-1453-32h10m1495-11h10m-1526 6h10m45-2h10m22 19h10m-343 64h10m496-129h10m591 67h10m-1045 86h10m1151-101h10m-1178 89h10m42-121h10m171 9h10m851 25h10m-1039-99h10m285 105h10m-152-2h10m434-36h10m-382 33h10m-270-27h10m67 21h10m1424-2h10m-473-4h10m-392 41h10m77-26h10m-449-59h10m886 82h10m193-22h10m-1135 14h10m51-29h10m568 2h10m-855-34h10m14 16h10m6-5h10m-152-69h10m313 144h10m839-60h10m-460 46h10m863-45h10m-1409-21h10m-245-25h10m1724 61h10m-1606 13h10m20-3h10m164-22h10m400-18h10m282 28h10m24-14h10m-1117 14h10m266-10h10m-249 37h10m1639-31h10m-987-15h10m-306-24h10m-391 54h10m1543 10h10m-1509 10h10m1080-51h10m-837 18h10m298 19h10m180-9h10m-534 13h10m411-24h10m484-9h10m401 31h10m-1643 21h10m786-33h10m-655-33h10m-118 112h10m-30-155h10m-58-20h10m125 31h10m424 38h10m353-7h10m88 41h10m-718-5h10m-112 7h10m-26 26h10m-185-64h10m986 34h10m706-19h10m-1214 19h10m-137-39h10m-264-15h10m14 87h10m873-16h10m-918-41h10m156 136h10m591-65h10m376-56h10m-356 4h10m-692 5h10m-5 0h10m-194-41h10m-60 85h10m493-37h10m-361-55h10m112 63h10m-104-8h10m835-34h10m-350 7h10m-220 19h10m-222-89h10m207 63h10m417 33h10m-327 20h10m389-30h10m-881 5h10m122-5h10m1342 4h10m-1450-62h10m192 72h10m856 3h10m-619-21h10m-20-33h10m972 26h10m-1385-4h10m657 18h10m-428-64h10m63 39h10m690 33h10m445-12h10m-186-5h10m-1355-37h10m-66 24h10m240 61h10m253-57h10m346 15h10m-758-103h10m122 96h10m-276-26h10m809 35h10m-427 12h10m-382-93h10m1017 57h10m-71 32h10m-729-40h10m-73 50h10m926-43h10m-444 46h10m-297-36h10m519 30h10m-123-53h10m242 64h10m-35-53h10m-1015 99h10m1034-83h10m-1199 60h10m828-80h10m-719 0h10m105 20h10m660 17h10m-384 17h10m1067-34h10m-1148-30h10m576 47h10m103 12h10m-36-44h10m-1086 21h10m68-55h10m787 34h10m586 8h10m-1085-5h10m-402 57h10m623-69h10m510-22h10m-1033 1h10m391 53h10m128 6h10m-327-31h10m1042 10h10m-769 1h10m-538 36h10m-232-74h10m468 45h10m-414 30h10m839-5h10m-781-64h10m351 32h10m-140 2h10m813-8h10m-224 32h10m-590-26h10m412-5h10m393 6h10m-99 19h10m260-7h10m-521 8h10m-839-113h10m417 107h10m930-14h10m-1001 22h10m263-43h10m-729 13h10m1198-4h10m-684 26h10m917-23h10m-1022 19h10m-481-33h10m125 57h10m1009-50h10m-265 24h10m-837 51h10m1136-35h10m-691 6h10m868-37h10m123 17h10m-566-14h10m-77 48h10m-640-18h10m67-40h10m619 22h10m107 44h10m-1041-28h10m-47-2h10m616 19h10m32-7h10m-213 18h10m175-27h10m724-22h10m-1190 4h10m1443 6h10m-1021 13h10m944-9h10m-989-26h10m-543 11h10m203-10h10m-400-27h10m324 14h10m-311 82h10m-17-65h10m177-33h10m-57 62h10m255-35h10m-237-4h10m64 25h10m374 16h10m-645 63h10m1504-78h10m-1001-15h10m354-1h10m-653 56h10m-125-78h10m775 49h10m567-20h10m116 9h10m14-13h10m-1298-66h10m48 74h10m339-5h10m-538 0h10m809-9h10m-283 29h10m914-18h10m-1502-19h10m667 11h10m547 2h10m-1029 12h10m222-11h10m198 6h10m-796 27h10m128-5h10m1208-20h10m-268-16h10m-705 24h10m-169-51h10m329 53h10m-246-36h10m-197-2h10m264 34h10m-144-5h10m1185 8h10m-1087 17h10m-436-34h10m1587 9h10m-1130 37h10m485-48h10m-252 5h10m-514 18h10m1225-15h10m175-1h10m-1677-81h10m1094 100h10m-1138 13h10m353-67h10m212 20h10m158 11h10m-575-61h10m138 20h10m-260 53h10m159-2h10m-138-12h10m516 15h10m548 23h10m-215-46h10m-815-8h10m14 91h10m19-106h10m292 36h10m-405 7h10m1379 11h10m-1279-24h10m1278-8h10m-555 29h10m610-24h10m-1124 37h10m638-60h10m-276 29h10m-790-21h10m94 74h10m117-25h10m-120-55h10m1318 39h10m-945 32h10m745-34h10m-393 25h10m662-50h10m-905 10h10m320 12h10m-889-152h10m380 163h10m-643 31h10m305-45h10m464-15h10m282 30h10m497-11h10m-1419-18h10m978 28h10m-826 12h10m-96 2h10m1369 7h10m-472-44h10m256 5h10m-1186 27h10m-248-151h10m1142 161h10m-815-90h10m677 80h10m-1123-37h10m300 28h10m-185-59h10m374 59h10m-550-75h10m182 65h10m-202 43h10m927-41h10m-135 17h10m-788-19h10m388-5h10m1046 15h10m-1292 19h10m1034-31h10m-1034-93h10m-77 91h10m1607-6h10m-1657-58h10m628 86h10m-37-30h10m-751-19h10m1454 23h10m-580 2h10m217 15h10m-1128-127h10m392 122h10m116 26h10m607-14h10m-1087-4h10m604-17h10m-79 1h10m-188 21h10m265-19h10m-494 43h10m1426-35h10m-1592 26h10m32-7h10m1007-93h10m-747 134h10m703-52h10m-13 11h10m-301-7h10m-129-38h10m437 29h10m-348-18h10m-654 16h10m1298 2h10m-976 18h10m729-38h10m282 3h10m-1507-86h10m570 89h10m-457 85h10m1455-88h10m-1068-27h10m665 61h10m-706 22h10m1157-42h10m-1457-16h10m-119-1h10m761 16h10m237 10h10m-551-22h10m-376-72h10m624 75h10m-661 19h10m1230-10h10m-6 13h10m106-8h10m-1382-58h10m971 27h10m436 18h10m-953-35h10m1027 40h10m-989 10h10m-65-7h10m288 14h10m-771-14h10m193 16h10m-65-33h10m104 37h10m-243-92h10m-259 20h10m1168 63h10m-39-24h10m-750-69h10m-258 61h10m109 32h10m1164-18h10m113 6h10m-640 37h10m-586-65h10m551-4h10m-770 29h10m700-2h10m-949-18h10m283 23h10m886 9h10m-782-38h10m1322 25h10m-1105-39h10m-468 20h10m208 85h10m-231-44h10m154-29h10m1140-3h10m-670 0h10m-576 43h10m-231 47h10m532-78h10m1054-5h10m-1075 3h10m-51 11h10m-349-20h10m336 45h10m1205-41h10m-1504 10h10m1394-12h10m-381 32h10m-925-16h10m360-28h10m-167 24h10m-190 29h10m-247-36h10m1248-14h10m-1037 56h10m301-33h10m-689-26h10m1675 30h10m-823-36h10m-31 1h10m-905 53h10m473-33h10m-477-72h10m614 55h10m-484 46h10m84-38h10m215 31h10m-105 6h10m-395-80h10m1436 52h10m210 1h10m-1508 13h10m24 4h10m1498-29h10m-670 6h10m199 25h10m245-19h10m-1509-17h10m1729 23h10m-1570-17h10m890 18h10m-562 7h10m-42 14h10m327-13h10m331-8h10m-70-28h10m-519 18h10m-401 3h10m1454 8h10m-935 4h10m-169-6h10m-353 21h10m-224-30h10m763 19h10m830-7h10m-804-28h10m-813 33h10m480-21h10m956 13h10m-1391 19h10m-86-78h10m30 40h10m1641-2h10m-1659 36h10m153 14h10m152-1h10m97-51h10m-447 6h10m1138 13h10m-930 18h10m694-32h10m-3 43h10m-250-19h10m-276-16h10m-549-32h10m297 94h10m201-73h10m-349 19h10m29-20h10m631-7h10m-62 32h10m-332-3h10m221 18h10m-141-6h10m-410-40h10m832 19h10m247 16h10m-1260 14h10m1010-47h10m-950-63h10m33 80h10m1434 21h10m-1269-21h10m1334 4h10m-1706-25h10m684 31h10m-1-31h10m1002 24h10m-489 16h10m-750 21h10m325-51h10m-687 7h10m80 40h10m453-25h10m-607-109h10m1068 132h10m-1056-30h10m-61 66h10m380-68h10m1181-13h10m-1557-108h10m1526 141h10m-675 11h10m508-1h10m-52-22h10m-334-21h10m296 8h10m-1137 33h10m-269 40h10m1179-95h10m-950-119h10m-189 56h10m1384 90h10m-389 10h10m-1017-40h10m762 51h10m-326-59h10m464 46h10m610-12h10m-1171 7h10m88-6h10m189-3h10m-540 23h10m-210-45h10m1506 29h10m-1485-26h10m-81 131h10m1675-108h10m-493-6h10m-1073-67h10m1544 56h10m-830 53h10m776-30h10m-575-21h10m-780 49h10m666-42h10m-853 45h10m865-55h10m-976-74h10m400 118h10m92-52h10m-581 25h10m1639-11h10m-1557 41h10m-8-55h10m78-53h10m667 61h10m-875 45h10m427 16h10m-368 5h10m67-36h10m323 32h10m-434-48h10m394-36h10m685 19h10m-1193-1h10m516 47h10m525-19h10m-794-35h10m19 58h10m537-20h10m-614-9h10m614 13h10m626 26h10m-1568-84h10m1511 57h10m-1034-20h10m-309 2h10m859 25h10m166 4h10m-876 9h10m180-48h10m479 24h10m-37-6h10m125 1h10m-453 48h10m-538-74h10m163 4h10m-333 68h10m690-34h10m544 8h10m-502-20h10m-379-35h10m1110 25h10m-116 29h10m-735-29h10m-650-1h10m-40 97h10m645-68h10m203-35h10m-530 50h10m141-16h10m-582-3h10m995 34h10m-43-66h10m94 31h10m572-7h10m-1532 4h10m285-11h10m60 11h10m754-12h10m-185-5h10m-805 1h10m-159 15h10m1459 2h10m-1399-61h10m1223 54h10m-1424 47h10m234-78h10m244 5h10m-118 41h10m610-12h10m105 8h10m-1027-13h10m575-10h10m14 0h10m-433 56h10m399-40h10m228-2h10m-96-5h10m-138 33h10m800-32h10m-551 3h10m-401-26h10m-543-76h10m-71 142h10m523-32h10m642 43h10m-1238-77h10m1627 32h10m-1411 7h10m505-25h10m-351 13h10m-147-63h10m135 77h10m455-22h10m380-8h10m-1202 56h10m1584-40h10m-1197 9h10m-8-20h10m193 23h10m223-8h10m-615-34h10m1296 20h10m-700 28h10m759-37h10m-1744-37h10m804 45h10m-772 15h10m1700-3h10m-1078-30h10m-505 30h10m-204-19h10m801-2h10m-58 25h10m73-26h10m636 17h10m-1452-58h10m16 69h10m1556-4h10m-830-26h10m-703 75h10m1071-58h10m-1035 8h10m-107 32h10m752-41h10m887-9h10m-1432-100h10m467 106h10m-746 14h10m671-3h10m232-22h10m-408 21h10m1148 4h10m-1701-20h10m626 17h10m-317-90h10m815 81h10m295 5h10m-1282 3h10m-19 27h10m220-76h10m309 52h10m-536-3h10m165 0h10m-254 22h10m237-31h10m1305-20h10m-556 23h10m-967 35h10m1336-22h10m151-17h10m-827 36h10m-707-23h10m12-20h10m251 24h10m-49 2h10m1249-21h10m-558 13h10m-803-3h10m1135 2h10m-505-11h10m-613-9h10m30 19h10m540 10h10m-93-2h10m-656-1h10m599 6h10m754-28h10m-1477 5h10m65-14h10m1231 17h10m-448 17h10m-778 28h10m719-24h10m128 10h10m-864-125h10m4 89h10m1149 19h10m-935-39h10m-517 24h10m822 14h10m82 23h10m-231-16h10m-181 10h10m61-31h10m-411 21h10m60-53h10m750 17h10m-1121 6h10m45 78h10m1459-72h10m-1368 9h10m1377 9h10m-487 23h10m518-50h10m-1175 32h10m217-11h10m-442-41h10m433 53h10m-632-32h10m119 34h10m736-28h10m-696 18h10m253 28h10m-322-43h10m1353-10h10m-317 31h10m372-22h10m-816 16h10m238 10h10m-526-9h10m-563-94h10m607 129h10m-208-41h10m818-9h10m-824 15h10m63 30h10m-403-56h10m37-13h10m552 38h10m-174-11h10m109-5h10m-491 29h10m265-39h10m-165 30h10m-313-29h10m387-6h10m670 53h10m398-33h10m-312-8h10m-33 4h10m-614 21h10m-135-6h10m-79-12h10m-52 13h10m-138-62h10m317 21h10m-233 30h10m-237-57h10m1429 58h10m-1263-15h10m-42-39h10m-168 96h10m209-42h10m-282 11h10m869 0h10m109-21h10m-990 34h10m1641-14h10m-1640-51h10m1650 35h10m-1706 56h10m1040-34h10m-480 22h10m945-32h10m199-32h10m-728 36h10m161-22h10m-730 15h10m304-10h10m-460 5h10m544 8h10m-856-25h10m-86-34h10m294 55h10m327 14h10m1114 9h10m-1340-20h10m1117-9h10m-733 39h10m-92-23h10m-607-32h10m1035-7h10m23 31h10m-1235 18h10m1746-17h10m-1572-71h10m50 85h10m297-35h10m-398 66h10m-27-135h10m469 160h10m248-52h10m-791-5h10m643-32h10m155-10h10m-846 65h10m292-33h10m-145-41h10m-231-5h10m315-5h10m595 30h10m542 9h10m-1268-20h10m298 13h10m-559-6h10m824 37h10m-404-39h10m1154 11h10m-763 4h10m-33 19h10m-18 17h10m140-34h10m-469-4h10m60 30h10m44-22h10m536-6h10m-1147-24h10m28 28h10m196-78h10m322 77h10m-300 10h10m935-7h10m-361 6h10m-962 17h10m801-26h10m-572 85h10m249-77h10m710-8h10m301 20h10m-1039-6h10m-529-34h10m1141 7h10m-1119 74h10m127-56h10m725 30h10m623-26h10m-1048 32h10m109-66h10m-274 60h10m848-62h10m-988-40h10m873 79h10m-507-23h10m631 15h10m369-4h10m-457-13h10m-1052 3h10m109 12h10m140 31h10m-283-32h10m39-11h10m340 10h10m34-4h10m77 59h10m-453-71h10m846-4h10m485 15h10m-892-21h10m152 97h10m-761-66h10m1140-5h10m-61-7h10m521-7h10m-1412 11h10m1228 10h10m-116-18h10m-516 21h10m-393 4h10m-76-9h10m-425-105h10m563 105h10m542-11h10m-944 18h10m-159-61h10m616 45h10m100-13h10m873 15h10m-123-9h10m-1122-56h10m278 71h10m381-20h10m-1088 24h10m423 5h10m1104-11h10m-1317-64h10m-111 59h10m1342 11h10m-547-5h10m411-11h10m-1258 47h10m209-33h10m110-12h10m-637 87h10m1767-56h10m-1173-12h10m-559-76h10m33 54h10m1619 8h10m-819-123h10m731 130h10m-1311-9h10m116 9h10m-266 17h10m-217-3h10m-36-73h10m1159 71h10m279-13h10m-351-15h10m-474-24h10m239 39h10m-645-14h10m1335 10h10m-1302-18h10m-68 15h10m210-24h10m-308 47h10m1111-25h10m-741 6h10" transform="scale(0.1)" stroke="#6ccabd" stroke-width="10" fill="none" opacity="0.85"/>
<path d="M78.4,400.3 C79.4,392.6 110.5,386.3 170.1,386.3 C203.1,386.3 217.3,391.9 217.3,400.3 C217.3,408.7 203.1,414.3 170.1,414.3 C110.5,414.3 79.4,408.0 78.4,400.3Z" fill="none" stroke="#3a3a3a" stroke-width="0.75"/>
<path d="M103.4,400.3 C104.4,394.4 129.2,389.5 177.2,389.5 C203.8,389.5 215.2,393.8 215.2,400.3 C215.2,406.8 203.8,411.1 177.2,411.1 C129.2,411.1 104.4,406.2 103.4,400.3Z" fill="none" stroke="#222" stroke-width="0.75"/>
<path d="M116.5,400.3 C117.5,395.2 138.6,391.1 179.5,391.1 C202.3,391.1 212.0,394.8 212.0,400.3 C212.0,405.8 202.3,409.5 179.5,409.5 C138.6,409.5 117.5,405.4 116.5,400.3Z" fill="none" stroke="#222" stroke-width="0.75"/>
<path d="M126.0,400.3 C127.0,395.8 145.5,392.1 181.8,392.1 C201.9,392.1 210.5,395.4 210.5,400.3 C210.5,405.2 201.9,408.5 181.8,408.5 C145.5,408.5 127.0,404.8 126.0,400.3Z" fill="none" stroke="#222" stroke-width="0.75"/>
<path d="M133.5,400.3 C134.5,396.2 150.9,392.9 183.3,392.9 C201.3,392.9 209.0,395.9 209.0,400.3 C209.0,404.7 201.3,407.7 183.3,407.7 C150.9,407.7 134.5,404.4 133.5,400.3Z" fill="none" stroke="#222" stroke-width="0.75"/>
<path d="M140.0,400.3 C141.0,396.6 155.7,393.5 184.7,393.5 C200.9,393.5 207.8,396.2 207.8,400.3 C207.8,404.4 200.9,407.1 184.7,407.1 C155.7,407.1 141.0,404.0 140.0,400.3Z" fill="none" stroke="#222" stroke-width="0.75"/>
<path d="M146.0,400.3 C147.0,396.9 160.0,394.1 186.1,394.1 C200.6,394.1 206.8,396.6 206.8,400.3 C206.8,404.0 200.6,406.5 186.1,406.5 C160.0,406.5 147.0,403.7 146.0,400.3Z" fill="none" stroke="#222" stroke-width="0.75"/>
<path d="M151.5,400.3 C152.5,397.2 164.0,394.6 187.3,394.6 C200.3,394.6 205.8,396.9 205.8,400.3 C205.8,403.7 200.3,406.0 187.3,406.0 C164.0,406.0 152.5,403.4 151.5,400.3Z" fill="none" stroke="#222" stroke-width="0.75"/>
<path d="M156.5,400.3 C157.5,397.4 167.7,395.1 188.5,395.1 C200.1,395.1 205.0,397.2 205.0,400.3 C205.0,403.4 200.1,405.5 188.5,405.5 C167.7,405.5 157.5,403.2 156.5,400.3Z" fill="none" stroke="#222" stroke-width="0.75"/>
<path d="M161.0,400.3 C162.0,397.7 171.0,395.6 189.5,395.6 C199.8,395.6 204.2,397.5 204.2,400.3 C204.2,403.1 199.8,405.0 189.5,405.0 C171.0,405.0 162.0,402.9 161.0,400.3Z" fill="none" stroke="#222" stroke-width="0.75"/>
<path d="M165.0,400.3 C166.0,398.0 173.9,396.1 190.3,396.1 C199.5,396.1 203.4,397.8 203.4,400.3 C203.4,402.8 199.5,404.5 190.3,404.5 C173.9,404.5 166.0,402.6 165.0,400.3Z" fill="none" stroke="#222" stroke-width="0.75"/>
<path d="M169.0,400.3 C170.0,398.3 176.8,396.6 191.2,396.6 C199.2,396.6 202.6,398.1 202.6,400.3 C202.6,402.5 199.2,404.0 191.2,404.0 C176.8,404.0 170.0,402.3 169.0,400.3Z" fill="none" stroke="#222" stroke-width="0.75"/>
<path d="M172.5,400.3 C173.5,398.5 179.3,397.1 191.8,397.1 C198.8,397.1 201.8,398.4 201.8,400.3 C201.8,402.2 198.8,403.5 191.8,403.5 C179.3,403.5 173.5,402.1 172.5,400.3Z" fill="none" stroke="#222" stroke-width="0.75"/>
<path d="M176.0,400.3 C177.0,398.8 181.8,397.6 192.5,397.6 C198.4,397.6 201.0,398.7 201.0,400.3 C201.0,401.9 198.4,403.0 192.5,403.0 C181.8,403.0 177.0,401.8 176.0,400.3Z" fill="none" stroke="#222" stroke-width="0.75"/>
<path d="M179.5,400.3 C180.5,399.0 184.3,398.0 193.2,398.0 C198.1,398.0 200.2,398.9 200.2,400.3 C200.2,401.7 198.1,402.6 193.2,402.6 C184.3,402.6 180.5,401.6 179.5,400.3Z" fill="none" stroke="#222" stroke-width="0.75"/>
<path d="M182.5,400.3 C183.5,399.2 186.4,398.3 193.7,398.3 C197.8,398.3 199.5,399.1 199.5,400.3 C199.5,401.5 197.8,402.3 193.7,402.3 C186.4,402.3 183.5,401.4 182.5,400.3Z" fill="none" stroke="#222" stroke-width="0.75"/>
<path d="M185.5,400.3 C186.5,399.4 188.6,398.6 194.4,398.6 C197.6,398.6 199.0,399.3 199.0,400.3 C199.0,401.3 197.6,402.0 194.4,402.0 C188.6,402.0 186.5,401.2 185.5,400.3Z" fill="none" stroke="#222" stroke-width="0.75"/>
<path d="M188.0,400.3 C189.0,399.5 190.4,398.9 194.9,398.9 C197.4,398.9 198.5,399.5 198.5,400.3 C198.5,401.1 197.4,401.7 194.9,401.7 C190.4,401.7 189.0,401.1 188.0,400.3Z" fill="none" stroke="#222" stroke-width="0.75"/>
<path d="M0 0m1400 4021h10m-303-29h10m26 2h10m341 7h10m181 5h10m-585 3h10m592-5h10m-504-1h10m311-10h10m68 13h10m-153 14h10m86-21h10m-80 15h10m-436-17h10m463 8h10m-295 19h10m-16-10h10m-209 20h10m335-19h10m-300 6h10m225-8h10m-320-18h10m417 10h10m-387 18h10m-95-14h10m395-18h10m6 31h10m-315-2h10m56 4h10m282-22h10m-193 14h10m193-14h10m-219 14h10m382 10h10m-80-21h10m-315 1h10m476-14h10m-607 29h10m363-13h10m-322 7h10m250-8h10m157 12h10m-107-12h10m-480-5h10m497 6h10m-203 28h10m-43-17h10m278 2h10m-342-20h10m183 0h10m-553 7h10m600 15h10m-195-24h10m235 5h10m-53 12h10m70-21h10m-226 8h10m-191 1h10m149 6h10m164-12h10m-69 24h10m-45-8h10m-78 5h10m214-6h10m-562-4h10m470 7h10m-402 3h10m303-19h10m-140 12h10m279 5h10m-151-19h10m156 6h10m-133-11h10m-535 7h10m298 4h10m-341 1h10m573 16h10m123 2h10m-146-17h10m-346 9h10m219-1h10m-101 0h10m89-1h10m193-18h10m-45 18h10m-135-11h10m52-6h10m-404 31h10m273-12h10m-473 4h10m276-15h10m-313 16h10m493 4h10m-120-26h10m165 8h10m142 9h10m-175-2h10m-76-4h10m-235-7h10m40 20h10m-255-12h10m258-1h10m340-6h10m-162 2h10m-58 7h10m-215 8h10m136-12h10m-230 7h10m-105 2h10m219-9h10m271 18h10m-154-19h10m49 5h10m-291 2h10m162-7h10m184-3h10m-488 14h10m-205 1h10m638-14h10m-667 13h10m651-17h10m-431 8h10m75 11h10m-74-11h10m-259 1h10m91 4h10m405 14h10m-93-11h10m302-5h10m-55 4h10m-206-14h10m-330-2h10m260-3h10m-437 12h10m362 8h10m-176-18h10m192 18h10m-174-17h10m203 20h10m82-16h10m-318 0h10m217-2h10m64-17h10m-116 16h10m-29 1h10m-177 2h10m462 11h10m-1-12h10m-730 17h10m599-14h10m-486 23h10m214-26h10m304-9h10m-148 3h10m-280 12h10m37 0h10m-131-3h10m306 17h10m-287-3h10m415-10h10m-30 17h10m-436-36h10m483 9h10m-305 26h10m307-32h10m-622-1h10m315 19h10m-417-26h10m340 11h10m-297 2h10m181 32h10m-279-26h10m54 17h10m252-30h10m-181 18h10m-81-9h10m287 9h10m-143 2h10m98-10h10m-210 10h10m214 1h10m-42-17h10m-364 1h10m705 19h10m-651-11h10m490 17h10m-398-6h10m515 0h10m-681 2h10m-8-14h10m11-15h10m661 24h10m-606 2h10m-6-8h10m432 0h10m-2 16h10m-557-19h10m115 21h10m243 2h10m78-17h10m193-20h10m-638 10h10m332 17h10m-99-9h10m129 10h10m-488-8h10m269-6h10m349 9h10m-542 7h10m-87-30h10m229 3h10m394 7h10m-48 23h10m-563-16h10m165-8h10m-212 16h10m194-12h10m348-7h10m-217 20h10m151-30h10m-458 29h10m602 13h10m-390-19h10m276 2h10m-94 1h10m-296-8h10m138 25h10m-322-34h10m-138 6h10m369 1h10m290 2h10m-428-5h10m36 5h10m428-5h10m-589 17h10m110-14h10m414 33h10m-643-24h10m409-26h10m207 20h10m-136 27h10m-91-41h10m201 21h10m-624 11h10m-100-12h10m657 19h10m-623-51h10m228 45h10m-262-9h10m-14-5h10m599 4h10m29-11h10m-400-11h10m-193 18h10m-101 2h10m144-8h10m214 3h10m-61-1h10m-86 6h10m348-5h10m-449-16h10m-115 18h10m223-6h10m-92 6h10m-56 2h10m206-23h10m43 20h10m249 1h10m-499 8h10m-176-11h10m186 15h10m-88-10h10m495-21h10m-313 5h10m294 6h10m-486 15h10m342-18h10m2 6h10m-275 18h10m-241-34h10m129 38h10m-175-23h10m373-6h10m-396-1h10m346 10h10m-88-29h10m-298 20h10m-60 8h10m-25 7h10m562-3h10m-460-2h10m10-24h10m-116 48h10m238-30h10m-51 6h10m284-7h10m-15-10h10m-301 19h10m255 1h10m94-6h10m579-9h10m-104 8h10m55 7h10m112-20h10m15 7h10m-46 16h10m-5-7h10m-39-3h10m-44 3h10m95-3h10m-42-17h10m-196 6h10m160 27h10m-70-21h10m-41 13h10m-14-16h10m-62 15h10m-6-11h10m73-1h10m-2-11h10m-68 49h10m51-32h10m-69 17h10m21-4h10m-2-6h10m32-3h10m-86-3h10m-31-18h10m169 26h10m-64 6h10m-37-16h10m-136 4h10m99-7h10m-94-2h10m158 9h10m-102 2h10m-15-9h10m-4 4h10m-142 14h10m24-17h10m102 20h10m24-7h10m46-2h10m-215 2h10m74 5h10m97-3h10m-120-18h10m-12 15h10m0-5h10m64-2h10m2-2h10m20 4h10m-18-6h10m-206 21h10m133-13h10m13-6h10m-203 3h10m148 2h10m21-10h10m-111-6h10m71 19h10m-21 6h10m25 2h10m-18-21h10m-142-1h10m186 18h10m-98-9h10m15-7h10m-114 9h10m-61 3h10m209-15h10m-215 25h10m78-16h10m-125 13h10m-6-6h10m123-3h10m-7 20h10m-165-12h10m33-22h10m31 2h10m-3-9h10m96 42h10m-59-32h10m42 23h10m-1-7h10m-142-2h10m117-13h10m-141-5h10m-65 8h10m-19-1h10m134 15h10m74-4h10m-76-7h10m-164 6h10m193-2h10m-59-15h10m-31 11h10m-146-20h10m-29 25h10m167 8h10m-149-6h10m-37 5h10m224-6h10m-225-12h10m47 11h10m-48-25h10m-31 39h10m170-14h10m-46-14h10m-47 14h10m44-3h10m6-15h10m-209-7h10m135 22h10m-30-4h10m64-1h10m-10-4h10m15 10h10m-34 7h10m-28-36h10m48 41h10m-109-16h10m-162 6h10m89-7h10m-54 6h10m157-2h10m-207-9h10m204 23h10m-74-24h10m-10 8h10m-187 15h10m73-11h10m94 2h10m-83-11h10m41 23h10m-1-11h10m-68-9h10m-109 2h10m-20-15h10m71 34h10m58-9h10m-103-15h10m154-15h10m-137 31h10m-42-8h10m105-10h10m-121 26h10m149-6h10m-233-16h10m186 8h10m-26-7h10m-175 1h10m7 11h10m116 4h10m68-13h10m-186 7h10m134 0h10m-138-18h10m63 29h10m-65-13h10m-61-8h10m99-11h10m41 16h10m-44 6h10m-127 7h10m-46-17h10m96 12h10m-111-16h10m217 0h10m-142 16h10m22-25h10m6 35h10m68-8h10m-22-5h10m-167-3h10m-47-3h10m97 5h10m65-15h10m-12 26h10m-86-11h10m0-11h10m-2 35h10m-109-28h10m57 2h10m-112-14h10m214 19h10m-183-17h10m-93-2h10m186 37h10m-169-29h10m80 0h10m110 15h10m-6-10h10m-236-19h10m183 23h10m-90-17h10m26 5h10m69 2h10m-204-2h10m58-3h10m-67-6h10m-31 29h10m-52-5h10m-15-26h10m242 24h10m-196-10h10m-44 7h10m6 0h10m121-19h10m9 23h10m-73 17h10m-79-22h10m-74-10h10m183 28h10m11 1h10m-142-9h10m44-16h10m-77 14h10m-9-19h10m-4 5h10" transform="scale(0.1)" stroke="#6ccabd" stroke-width="10" fill="none" opacity="0.8"/>
<line x1="51.50" y1="323.60" x2="214.60" y2="323.60" stroke="#000" stroke-width="1.4" stroke-dasharray="3.5,3.5"/>
<line x1="214.60" y1="323.60" x2="214.60" y2="449.00" stroke="#000" stroke-width="1.4" stroke-dasharray="3.5,3.5"/>
<line x1="51.50" y1="400.20" x2="171.60" y2="400.20" stroke="#000" stroke-width="1.4" stroke-dasharray="3.5,3.5"/>
<line x1="171.60" y1="400.20" x2="171.60" y2="449.00" stroke="#000" stroke-width="1.4" stroke-dasharray="3.5,3.5"/>
<text x="148.1" y="283.8" font-size="13.8" text-anchor="start" font-weight="normal" fill="#231f20" >Mean mtDNA = 51.7</text>
<text x="148.1" y="298.5" font-size="13.8" text-anchor="start" font-weight="normal" fill="#231f20" >(UMI size = 4.8)</text>
<text x="55.4" y="426.6" font-size="13.8" text-anchor="start" font-weight="normal" fill="#231f20" >Mean mtDNA = 14.3</text>
<text x="55.4" y="442.6" font-size="13.8" text-anchor="start" font-weight="normal" fill="#231f20" >(UMI size = 1.6)</text>
<text x="299.0" y="220.8" font-size="22.5" text-anchor="start" font-weight="bold" fill="#000" style="stroke:#000;stroke-width:0.55px">c</text>
<rect x="374.10" y="225.80" width="18.49" height="20.00" fill="#68c4b8" stroke="#1a1a1a" stroke-width="1.2" />
<rect x="374.10" y="251.40" width="287.20" height="20.00" fill="#ea6d4a" stroke="#1a1a1a" stroke-width="1.2" />
<line x1="374.20" y1="225.20" x2="374.20" y2="284.50" stroke="#000" stroke-width="1.4" />
<line x1="373.50" y1="277.50" x2="675.40" y2="277.50" stroke="#000" stroke-width="1.4" />
<line x1="368.00" y1="237.60" x2="374.10" y2="237.60" stroke="#000" stroke-width="1.3" />
<line x1="368.00" y1="261.30" x2="374.10" y2="261.30" stroke="#000" stroke-width="1.3" />
<text x="365.0" y="241.7" font-size="13.8" text-anchor="end" font-weight="normal" fill="#231f20" >Before</text>
<text x="365.0" y="265.0" font-size="13.8" text-anchor="end" font-weight="normal" fill="#231f20" >After</text>
<text x="397.4" y="238.1" font-size="13.8" text-anchor="start" font-weight="normal" fill="#231f20" >311</text>
<text x="654.5" y="265.5" font-size="13.8" text-anchor="end" font-weight="normal" fill="#fff" style="stroke:#fff">4,831</text>
<line x1="374.10" y1="277.50" x2="374.10" y2="284.30" stroke="#000" stroke-width="1.3" />
<text x="374.1" y="298.3" font-size="13.8" text-anchor="middle" font-weight="normal" fill="#231f20" >0</text>
<line x1="433.55" y1="277.50" x2="433.55" y2="284.30" stroke="#000" stroke-width="1.3" />
<text x="433.6" y="298.3" font-size="13.8" text-anchor="middle" font-weight="normal" fill="#231f20" >1,000</text>
<line x1="493.00" y1="277.50" x2="493.00" y2="284.30" stroke="#000" stroke-width="1.3" />
<text x="493.0" y="298.3" font-size="13.8" text-anchor="middle" font-weight="normal" fill="#231f20" >2,000</text>
<line x1="552.45" y1="277.50" x2="552.45" y2="284.30" stroke="#000" stroke-width="1.3" />
<text x="552.5" y="298.3" font-size="13.8" text-anchor="middle" font-weight="normal" fill="#231f20" >3,000</text>
<line x1="611.90" y1="277.50" x2="611.90" y2="284.30" stroke="#000" stroke-width="1.3" />
<text x="611.9" y="298.3" font-size="13.8" text-anchor="middle" font-weight="normal" fill="#231f20" >4,000</text>
<line x1="671.35" y1="277.50" x2="671.35" y2="284.30" stroke="#000" stroke-width="1.3" />
<text x="671.4" y="298.3" font-size="13.8" text-anchor="middle" font-weight="normal" fill="#231f20" >5,000</text>
<text x="520.6" y="316.6" font-size="14" text-anchor="middle" font-weight="normal" fill="#231f20" >No. of confident somatic mtDNA mutations</text>
<text x="299.0" y="335.8" font-size="22.5" text-anchor="start" font-weight="bold" fill="#000" style="stroke:#000;stroke-width:0.55px">d</text>
<rect x="498.80" y="339.20" width="22.20" height="8.40" fill="#78aee0" stroke="none" stroke-width="0" />
<text x="529.2" y="347.3" font-size="13.8" text-anchor="start" font-weight="normal" fill="#231f20" >L strand</text>
<rect x="589.30" y="339.20" width="22.40" height="8.40" fill="#f4a29c" stroke="none" stroke-width="0" />
<text x="619.3" y="347.3" font-size="13.8" text-anchor="start" font-weight="normal" fill="#231f20" >H strand</text>
<text x="366.5" y="341.5" font-size="13.8" text-anchor="start" font-weight="normal" fill="#231f20" >Unfiltered</text>
<text transform="translate(308.4,453) rotate(-90)" font-size="13.8" text-anchor="middle" fill="#231f20">Substitution rate</text>
<text transform="translate(323.6,453) rotate(-90)" font-size="13.8" text-anchor="middle" fill="#231f20">(observed/expected)</text>
<rect x="361.52" y="370.18" width="1.67" height="35.62" fill="#78aee0" stroke="none" stroke-width="0" />
<rect x="359.90" y="383.54" width="1.88" height="22.26" fill="#f4a29c" stroke="none" stroke-width="0" fill-opacity="0.9"/>
<rect x="364.56" y="363.51" width="1.67" height="42.29" fill="#78aee0" stroke="none" stroke-width="0" />
<rect x="362.94" y="376.54" width="1.88" height="29.26" fill="#f4a29c" stroke="none" stroke-width="0" fill-opacity="0.9"/>
<rect x="367.59" y="361.28" width="1.67" height="44.52" fill="#78aee0" stroke="none" stroke-width="0" />
<rect x="365.97" y="365.73" width="1.88" height="40.07" fill="#f4a29c" stroke="none" stroke-width="0" fill-opacity="0.9"/>
<rect x="370.63" y="373.68" width="1.67" height="32.12" fill="#78aee0" stroke="none" stroke-width="0" />
<rect x="369.01" y="373.36" width="1.88" height="32.44" fill="#f4a29c" stroke="none" stroke-width="0" fill-opacity="0.9"/>
<rect x="373.67" y="373.68" width="1.67" height="32.12" fill="#78aee0" stroke="none" stroke-width="0" />
<rect x="372.05" y="373.36" width="1.88" height="32.44" fill="#f4a29c" stroke="none" stroke-width="0" fill-opacity="0.9"/>
<rect x="376.71" y="381.95" width="1.67" height="23.85" fill="#78aee0" stroke="none" stroke-width="0" />
<rect x="375.09" y="374.32" width="1.88" height="31.48" fill="#f4a29c" stroke="none" stroke-width="0" fill-opacity="0.9"/>
<rect x="379.74" y="373.68" width="1.67" height="32.12" fill="#78aee0" stroke="none" stroke-width="0" />
<rect x="378.12" y="366.37" width="1.88" height="39.43" fill="#f4a29c" stroke="none" stroke-width="0" fill-opacity="0.9"/>
<rect x="382.78" y="378.45" width="1.67" height="27.35" fill="#78aee0" stroke="none" stroke-width="0" />
<rect x="381.16" y="379.72" width="1.88" height="26.08" fill="#f4a29c" stroke="none" stroke-width="0" fill-opacity="0.9"/>
<rect x="385.82" y="353.01" width="1.67" height="52.79" fill="#78aee0" stroke="none" stroke-width="0" />
<rect x="384.20" y="363.51" width="1.88" height="42.29" fill="#f4a29c" stroke="none" stroke-width="0" fill-opacity="0.9"/>
<rect x="388.86" y="367.96" width="1.67" height="37.84" fill="#78aee0" stroke="none" stroke-width="0" />
<rect x="387.24" y="364.46" width="1.88" height="41.34" fill="#f4a29c" stroke="none" stroke-width="0" fill-opacity="0.9"/>
<rect x="391.89" y="344.43" width="1.67" height="61.37" fill="#78aee0" stroke="none" stroke-width="0" />
<rect x="390.27" y="363.19" width="1.88" height="42.61" fill="#f4a29c" stroke="none" stroke-width="0" fill-opacity="0.9"/>
<rect x="394.93" y="369.23" width="1.67" height="36.57" fill="#78aee0" stroke="none" stroke-width="0" />
<rect x="393.31" y="379.72" width="1.88" height="26.08" fill="#f4a29c" stroke="none" stroke-width="0" fill-opacity="0.9"/>
<rect x="397.97" y="372.41" width="1.67" height="33.39" fill="#78aee0" stroke="none" stroke-width="0" />
<rect x="396.35" y="354.60" width="1.88" height="51.20" fill="#f4a29c" stroke="none" stroke-width="0" fill-opacity="0.9"/>
<rect x="401.01" y="378.13" width="1.67" height="27.67" fill="#78aee0" stroke="none" stroke-width="0" />
<rect x="399.39" y="379.72" width="1.88" height="26.08" fill="#f4a29c" stroke="none" stroke-width="0" fill-opacity="0.9"/>
<rect x="404.04" y="374.00" width="1.67" height="31.80" fill="#78aee0" stroke="none" stroke-width="0" />
<rect x="402.42" y="387.67" width="1.88" height="18.13" fill="#f4a29c" stroke="none" stroke-width="0" fill-opacity="0.9"/>
<rect x="407.08" y="381.63" width="1.67" height="24.17" fill="#78aee0" stroke="none" stroke-width="0" />
<rect x="405.46" y="368.91" width="1.88" height="36.89" fill="#f4a29c" stroke="none" stroke-width="0" fill-opacity="0.9"/>
<rect x="413.82" y="378.77" width="1.67" height="27.03" fill="#78aee0" stroke="none" stroke-width="0" />
<rect x="412.20" y="386.72" width="1.88" height="19.08" fill="#f4a29c" stroke="none" stroke-width="0" fill-opacity="0.9"/>
<rect x="416.86" y="374.00" width="1.67" height="31.80" fill="#78aee0" stroke="none" stroke-width="0" />
<rect x="415.24" y="383.54" width="1.88" height="22.26" fill="#f4a29c" stroke="none" stroke-width="0" fill-opacity="0.9"/>
<rect x="419.89" y="378.77" width="1.67" height="27.03" fill="#78aee0" stroke="none" stroke-width="0" />
<rect x="418.27" y="368.28" width="1.88" height="37.52" fill="#f4a29c" stroke="none" stroke-width="0" fill-opacity="0.9"/>
<rect x="422.93" y="381.63" width="1.67" height="24.17" fill="#78aee0" stroke="none" stroke-width="0" />
<rect x="421.31" y="367.96" width="1.88" height="37.84" fill="#f4a29c" stroke="none" stroke-width="0" fill-opacity="0.9"/>
<rect x="425.97" y="370.50" width="1.67" height="35.30" fill="#78aee0" stroke="none" stroke-width="0" />
<rect x="424.35" y="389.90" width="1.88" height="15.90" fill="#f4a29c" stroke="none" stroke-width="0" fill-opacity="0.9"/>
<rect x="429.01" y="379.72" width="1.67" height="26.08" fill="#78aee0" stroke="none" stroke-width="0" />
<rect x="427.39" y="369.23" width="1.88" height="36.57" fill="#f4a29c" stroke="none" stroke-width="0" fill-opacity="0.9"/>
<rect x="432.04" y="374.00" width="1.67" height="31.80" fill="#78aee0" stroke="none" stroke-width="0" />
<rect x="430.43" y="375.59" width="1.88" height="30.21" fill="#f4a29c" stroke="none" stroke-width="0" fill-opacity="0.9"/>
<rect x="435.08" y="380.68" width="1.67" height="25.12" fill="#78aee0" stroke="none" stroke-width="0" />
<rect x="433.46" y="390.54" width="1.88" height="15.26" fill="#f4a29c" stroke="none" stroke-width="0" fill-opacity="0.9"/>
<rect x="438.12" y="379.41" width="1.67" height="26.39" fill="#78aee0" stroke="none" stroke-width="0" />
<rect x="436.50" y="389.90" width="1.88" height="15.90" fill="#f4a29c" stroke="none" stroke-width="0" fill-opacity="0.9"/>
<rect x="441.16" y="379.72" width="1.67" height="26.08" fill="#78aee0" stroke="none" stroke-width="0" />
<rect x="439.54" y="360.33" width="1.88" height="45.47" fill="#f4a29c" stroke="none" stroke-width="0" fill-opacity="0.9"/>
<rect x="444.19" y="369.23" width="1.67" height="36.57" fill="#78aee0" stroke="none" stroke-width="0" />
<rect x="442.57" y="372.41" width="1.88" height="33.39" fill="#f4a29c" stroke="none" stroke-width="0" fill-opacity="0.9"/>
<rect x="447.23" y="382.59" width="1.67" height="23.21" fill="#78aee0" stroke="none" stroke-width="0" />
<rect x="445.61" y="374.00" width="1.88" height="31.80" fill="#f4a29c" stroke="none" stroke-width="0" fill-opacity="0.9"/>
<rect x="450.27" y="376.86" width="1.67" height="28.94" fill="#78aee0" stroke="none" stroke-width="0" />
<rect x="448.65" y="381.95" width="1.88" height="23.85" fill="#f4a29c" stroke="none" stroke-width="0" fill-opacity="0.9"/>
<rect x="453.31" y="374.00" width="1.67" height="31.80" fill="#78aee0" stroke="none" stroke-width="0" />
<rect x="451.69" y="371.77" width="1.88" height="34.03" fill="#f4a29c" stroke="none" stroke-width="0" fill-opacity="0.9"/>
<rect x="456.34" y="370.18" width="1.67" height="35.62" fill="#78aee0" stroke="none" stroke-width="0" />
<rect x="454.72" y="379.72" width="1.88" height="26.08" fill="#f4a29c" stroke="none" stroke-width="0" fill-opacity="0.9"/>
<rect x="459.38" y="384.49" width="1.67" height="21.31" fill="#78aee0" stroke="none" stroke-width="0" />
<rect x="457.76" y="363.51" width="1.88" height="42.29" fill="#f4a29c" stroke="none" stroke-width="0" fill-opacity="0.9"/>
<rect x="466.12" y="372.41" width="1.67" height="33.39" fill="#78aee0" stroke="none" stroke-width="0" />
<rect x="464.50" y="353.33" width="1.88" height="52.47" fill="#f4a29c" stroke="none" stroke-width="0" fill-opacity="0.9"/>
<rect x="469.16" y="375.91" width="1.67" height="29.89" fill="#78aee0" stroke="none" stroke-width="0" />
<rect x="467.54" y="379.72" width="1.88" height="26.08" fill="#f4a29c" stroke="none" stroke-width="0" fill-opacity="0.9"/>
<rect x="472.19" y="373.36" width="1.67" height="32.44" fill="#78aee0" stroke="none" stroke-width="0" />
<rect x="470.57" y="371.46" width="1.88" height="34.34" fill="#f4a29c" stroke="none" stroke-width="0" fill-opacity="0.9"/>
<rect x="475.23" y="371.46" width="1.67" height="34.34" fill="#78aee0" stroke="none" stroke-width="0" />
<rect x="473.61" y="383.54" width="1.88" height="22.26" fill="#f4a29c" stroke="none" stroke-width="0" fill-opacity="0.9"/>
<rect x="478.27" y="374.32" width="1.67" height="31.48" fill="#78aee0" stroke="none" stroke-width="0" />
<rect x="476.65" y="385.77" width="1.88" height="20.03" fill="#f4a29c" stroke="none" stroke-width="0" fill-opacity="0.9"/>
<rect x="481.31" y="379.72" width="1.67" height="26.08" fill="#78aee0" stroke="none" stroke-width="0" />
<rect x="479.69" y="369.23" width="1.88" height="36.57" fill="#f4a29c" stroke="none" stroke-width="0" fill-opacity="0.9"/>
<rect x="484.34" y="382.59" width="1.67" height="23.21" fill="#78aee0" stroke="none" stroke-width="0" />
<rect x="482.73" y="375.59" width="1.88" height="30.21" fill="#f4a29c" stroke="none" stroke-width="0" fill-opacity="0.9"/>
<rect x="487.38" y="369.23" width="1.67" height="36.57" fill="#78aee0" stroke="none" stroke-width="0" />
<rect x="485.76" y="392.76" width="1.88" height="13.04" fill="#f4a29c" stroke="none" stroke-width="0" fill-opacity="0.9"/>
<rect x="490.42" y="371.14" width="1.67" height="34.66" fill="#78aee0" stroke="none" stroke-width="0" />
<rect x="488.80" y="372.41" width="1.88" height="33.39" fill="#f4a29c" stroke="none" stroke-width="0" fill-opacity="0.9"/>
<rect x="493.46" y="376.86" width="1.67" height="28.94" fill="#78aee0" stroke="none" stroke-width="0" />
<rect x="491.84" y="385.77" width="1.88" height="20.03" fill="#f4a29c" stroke="none" stroke-width="0" fill-opacity="0.9"/>
<rect x="496.49" y="375.59" width="1.67" height="30.21" fill="#78aee0" stroke="none" stroke-width="0" />
<rect x="494.88" y="382.59" width="1.88" height="23.21" fill="#f4a29c" stroke="none" stroke-width="0" fill-opacity="0.9"/>
<rect x="499.53" y="380.36" width="1.67" height="25.44" fill="#78aee0" stroke="none" stroke-width="0" />
<rect x="497.91" y="365.41" width="1.88" height="40.39" fill="#f4a29c" stroke="none" stroke-width="0" fill-opacity="0.9"/>
<rect x="502.57" y="374.32" width="1.67" height="31.48" fill="#78aee0" stroke="none" stroke-width="0" />
<rect x="500.95" y="375.59" width="1.88" height="30.21" fill="#f4a29c" stroke="none" stroke-width="0" fill-opacity="0.9"/>
<rect x="505.61" y="377.82" width="1.67" height="27.98" fill="#78aee0" stroke="none" stroke-width="0" />
<rect x="503.99" y="360.33" width="1.88" height="45.47" fill="#f4a29c" stroke="none" stroke-width="0" fill-opacity="0.9"/>
<rect x="508.64" y="365.41" width="1.67" height="40.39" fill="#78aee0" stroke="none" stroke-width="0" />
<rect x="507.02" y="370.82" width="1.88" height="34.98" fill="#f4a29c" stroke="none" stroke-width="0" fill-opacity="0.9"/>
<rect x="511.68" y="372.41" width="1.67" height="33.39" fill="#78aee0" stroke="none" stroke-width="0" />
<rect x="510.06" y="372.41" width="1.88" height="33.39" fill="#f4a29c" stroke="none" stroke-width="0" fill-opacity="0.9"/>
<rect x="518.42" y="369.23" width="1.67" height="36.57" fill="#78aee0" stroke="none" stroke-width="0" />
<rect x="516.80" y="377.82" width="1.88" height="27.98" fill="#f4a29c" stroke="none" stroke-width="0" fill-opacity="0.9"/>
<rect x="521.46" y="371.46" width="1.67" height="34.34" fill="#78aee0" stroke="none" stroke-width="0" />
<rect x="519.84" y="367.96" width="1.88" height="37.84" fill="#f4a29c" stroke="none" stroke-width="0" fill-opacity="0.9"/>
<rect x="524.49" y="363.51" width="1.67" height="42.29" fill="#78aee0" stroke="none" stroke-width="0" />
<rect x="522.88" y="372.73" width="1.88" height="33.07" fill="#f4a29c" stroke="none" stroke-width="0" fill-opacity="0.9"/>
<rect x="527.53" y="376.86" width="1.67" height="28.94" fill="#78aee0" stroke="none" stroke-width="0" />
<rect x="525.91" y="375.27" width="1.88" height="30.53" fill="#f4a29c" stroke="none" stroke-width="0" fill-opacity="0.9"/>
<rect x="530.57" y="374.32" width="1.67" height="31.48" fill="#78aee0" stroke="none" stroke-width="0" />
<rect x="528.95" y="365.73" width="1.88" height="40.07" fill="#f4a29c" stroke="none" stroke-width="0" fill-opacity="0.9"/>
<rect x="533.61" y="374.32" width="1.67" height="31.48" fill="#78aee0" stroke="none" stroke-width="0" />
<rect x="531.99" y="380.68" width="1.88" height="25.12" fill="#f4a29c" stroke="none" stroke-width="0" fill-opacity="0.9"/>
<rect x="536.64" y="375.27" width="1.67" height="30.53" fill="#78aee0" stroke="none" stroke-width="0" />
<rect x="535.02" y="372.73" width="1.88" height="33.07" fill="#f4a29c" stroke="none" stroke-width="0" fill-opacity="0.9"/>
<rect x="539.68" y="378.45" width="1.67" height="27.35" fill="#78aee0" stroke="none" stroke-width="0" />
<rect x="538.06" y="358.42" width="1.88" height="47.38" fill="#f4a29c" stroke="none" stroke-width="0" fill-opacity="0.9"/>
<rect x="542.72" y="380.68" width="1.67" height="25.12" fill="#78aee0" stroke="none" stroke-width="0" />
<rect x="541.10" y="367.64" width="1.88" height="38.16" fill="#f4a29c" stroke="none" stroke-width="0" fill-opacity="0.9"/>
<rect x="545.76" y="381.63" width="1.67" height="24.17" fill="#78aee0" stroke="none" stroke-width="0" />
<rect x="544.14" y="361.28" width="1.88" height="44.52" fill="#f4a29c" stroke="none" stroke-width="0" fill-opacity="0.9"/>
<rect x="548.79" y="382.59" width="1.67" height="23.21" fill="#78aee0" stroke="none" stroke-width="0" />
<rect x="547.17" y="370.50" width="1.88" height="35.30" fill="#f4a29c" stroke="none" stroke-width="0" fill-opacity="0.9"/>
<rect x="551.83" y="374.64" width="1.67" height="31.16" fill="#78aee0" stroke="none" stroke-width="0" />
<rect x="550.21" y="375.27" width="1.88" height="30.53" fill="#f4a29c" stroke="none" stroke-width="0" fill-opacity="0.9"/>
<rect x="554.87" y="370.50" width="1.67" height="35.30" fill="#78aee0" stroke="none" stroke-width="0" />
<rect x="553.25" y="378.45" width="1.88" height="27.35" fill="#f4a29c" stroke="none" stroke-width="0" fill-opacity="0.9"/>
<rect x="557.91" y="369.55" width="1.67" height="36.25" fill="#78aee0" stroke="none" stroke-width="0" />
<rect x="556.29" y="377.82" width="1.88" height="27.98" fill="#f4a29c" stroke="none" stroke-width="0" fill-opacity="0.9"/>
<rect x="560.94" y="373.68" width="1.67" height="32.12" fill="#78aee0" stroke="none" stroke-width="0" />
<rect x="559.32" y="374.32" width="1.88" height="31.48" fill="#f4a29c" stroke="none" stroke-width="0" fill-opacity="0.9"/>
<rect x="563.98" y="370.82" width="1.67" height="34.98" fill="#78aee0" stroke="none" stroke-width="0" />
<rect x="562.36" y="375.27" width="1.88" height="30.53" fill="#f4a29c" stroke="none" stroke-width="0" fill-opacity="0.9"/>
<rect x="570.72" y="385.77" width="1.67" height="20.03" fill="#78aee0" stroke="none" stroke-width="0" />
<rect x="569.10" y="372.41" width="1.88" height="33.39" fill="#f4a29c" stroke="none" stroke-width="0" fill-opacity="0.9"/>
<rect x="573.76" y="374.00" width="1.67" height="31.80" fill="#78aee0" stroke="none" stroke-width="0" />
<rect x="572.14" y="375.59" width="1.88" height="30.21" fill="#f4a29c" stroke="none" stroke-width="0" fill-opacity="0.9"/>
<rect x="576.79" y="369.23" width="1.67" height="36.57" fill="#78aee0" stroke="none" stroke-width="0" />
<rect x="575.18" y="372.41" width="1.88" height="33.39" fill="#f4a29c" stroke="none" stroke-width="0" fill-opacity="0.9"/>
<rect x="579.83" y="375.59" width="1.67" height="30.21" fill="#78aee0" stroke="none" stroke-width="0" />
<rect x="578.21" y="367.32" width="1.88" height="38.48" fill="#f4a29c" stroke="none" stroke-width="0" fill-opacity="0.9"/>
<rect x="582.87" y="374.00" width="1.67" height="31.80" fill="#78aee0" stroke="none" stroke-width="0" />
<rect x="581.25" y="368.28" width="1.88" height="37.52" fill="#f4a29c" stroke="none" stroke-width="0" fill-opacity="0.9"/>
<rect x="585.91" y="373.36" width="1.67" height="32.44" fill="#78aee0" stroke="none" stroke-width="0" />
<rect x="584.29" y="360.33" width="1.88" height="45.47" fill="#f4a29c" stroke="none" stroke-width="0" fill-opacity="0.9"/>
<rect x="588.94" y="373.36" width="1.67" height="32.44" fill="#78aee0" stroke="none" stroke-width="0" />
<rect x="587.33" y="382.59" width="1.88" height="23.21" fill="#f4a29c" stroke="none" stroke-width="0" fill-opacity="0.9"/>
<rect x="591.98" y="374.00" width="1.67" height="31.80" fill="#78aee0" stroke="none" stroke-width="0" />
<rect x="590.36" y="363.51" width="1.88" height="42.29" fill="#f4a29c" stroke="none" stroke-width="0" fill-opacity="0.9"/>
<rect x="595.02" y="367.64" width="1.67" height="38.16" fill="#78aee0" stroke="none" stroke-width="0" />
<rect x="593.40" y="378.77" width="1.88" height="27.03" fill="#f4a29c" stroke="none" stroke-width="0" fill-opacity="0.9"/>
<rect x="598.06" y="381.63" width="1.67" height="24.17" fill="#78aee0" stroke="none" stroke-width="0" />
<rect x="596.44" y="363.19" width="1.88" height="42.61" fill="#f4a29c" stroke="none" stroke-width="0" fill-opacity="0.9"/>
<rect x="601.09" y="370.50" width="1.67" height="35.30" fill="#78aee0" stroke="none" stroke-width="0" />
<rect x="599.48" y="374.32" width="1.88" height="31.48" fill="#f4a29c" stroke="none" stroke-width="0" fill-opacity="0.9"/>
<rect x="604.13" y="368.28" width="1.67" height="37.52" fill="#78aee0" stroke="none" stroke-width="0" />
<rect x="602.51" y="375.27" width="1.88" height="30.53" fill="#f4a29c" stroke="none" stroke-width="0" fill-opacity="0.9"/>
<rect x="607.17" y="368.91" width="1.67" height="36.89" fill="#78aee0" stroke="none" stroke-width="0" />
<rect x="605.55" y="370.50" width="1.88" height="35.30" fill="#f4a29c" stroke="none" stroke-width="0" fill-opacity="0.9"/>
<rect x="610.21" y="373.36" width="1.67" height="32.44" fill="#78aee0" stroke="none" stroke-width="0" />
<rect x="608.59" y="371.46" width="1.88" height="34.34" fill="#f4a29c" stroke="none" stroke-width="0" fill-opacity="0.9"/>
<rect x="613.24" y="369.23" width="1.67" height="36.57" fill="#78aee0" stroke="none" stroke-width="0" />
<rect x="611.62" y="375.59" width="1.88" height="30.21" fill="#f4a29c" stroke="none" stroke-width="0" fill-opacity="0.9"/>
<rect x="616.28" y="380.04" width="1.67" height="25.76" fill="#78aee0" stroke="none" stroke-width="0" />
<rect x="614.66" y="364.14" width="1.88" height="41.66" fill="#f4a29c" stroke="none" stroke-width="0" fill-opacity="0.9"/>
<rect x="623.02" y="367.64" width="1.67" height="38.16" fill="#78aee0" stroke="none" stroke-width="0" />
<rect x="621.40" y="378.77" width="1.88" height="27.03" fill="#f4a29c" stroke="none" stroke-width="0" fill-opacity="0.9"/>
<rect x="626.06" y="374.32" width="1.67" height="31.48" fill="#78aee0" stroke="none" stroke-width="0" />
<rect x="624.44" y="376.54" width="1.88" height="29.26" fill="#f4a29c" stroke="none" stroke-width="0" fill-opacity="0.9"/>
<rect x="629.09" y="371.46" width="1.67" height="34.34" fill="#78aee0" stroke="none" stroke-width="0" />
<rect x="627.48" y="377.50" width="1.88" height="28.30" fill="#f4a29c" stroke="none" stroke-width="0" fill-opacity="0.9"/>
<rect x="632.13" y="374.64" width="1.67" height="31.16" fill="#78aee0" stroke="none" stroke-width="0" />
<rect x="630.51" y="372.41" width="1.88" height="33.39" fill="#f4a29c" stroke="none" stroke-width="0" fill-opacity="0.9"/>
<rect x="635.17" y="371.46" width="1.67" height="34.34" fill="#78aee0" stroke="none" stroke-width="0" />
<rect x="633.55" y="362.55" width="1.88" height="43.25" fill="#f4a29c" stroke="none" stroke-width="0" fill-opacity="0.9"/>
<rect x="638.21" y="370.18" width="1.67" height="35.62" fill="#78aee0" stroke="none" stroke-width="0" />
<rect x="636.59" y="367.96" width="1.88" height="37.84" fill="#f4a29c" stroke="none" stroke-width="0" fill-opacity="0.9"/>
<rect x="641.24" y="386.08" width="1.67" height="19.72" fill="#78aee0" stroke="none" stroke-width="0" />
<rect x="639.62" y="388.95" width="1.88" height="16.85" fill="#f4a29c" stroke="none" stroke-width="0" fill-opacity="0.9"/>
<rect x="644.28" y="359.05" width="1.67" height="46.75" fill="#78aee0" stroke="none" stroke-width="0" />
<rect x="642.66" y="366.37" width="1.88" height="39.43" fill="#f4a29c" stroke="none" stroke-width="0" fill-opacity="0.9"/>
<rect x="647.32" y="371.46" width="1.67" height="34.34" fill="#78aee0" stroke="none" stroke-width="0" />
<rect x="645.70" y="383.86" width="1.88" height="21.94" fill="#f4a29c" stroke="none" stroke-width="0" fill-opacity="0.9"/>
<rect x="650.36" y="397.21" width="1.67" height="8.59" fill="#78aee0" stroke="none" stroke-width="0" />
<rect x="648.74" y="374.64" width="1.88" height="31.16" fill="#f4a29c" stroke="none" stroke-width="0" fill-opacity="0.9"/>
<rect x="653.39" y="364.14" width="1.67" height="41.66" fill="#78aee0" stroke="none" stroke-width="0" />
<rect x="651.77" y="380.68" width="1.88" height="25.12" fill="#f4a29c" stroke="none" stroke-width="0" fill-opacity="0.9"/>
<rect x="656.43" y="380.68" width="1.67" height="25.12" fill="#78aee0" stroke="none" stroke-width="0" />
<rect x="654.81" y="381.95" width="1.88" height="23.85" fill="#f4a29c" stroke="none" stroke-width="0" fill-opacity="0.9"/>
<rect x="659.47" y="378.45" width="1.67" height="27.35" fill="#78aee0" stroke="none" stroke-width="0" />
<rect x="657.85" y="378.77" width="1.88" height="27.03" fill="#f4a29c" stroke="none" stroke-width="0" fill-opacity="0.9"/>
<rect x="662.51" y="369.55" width="1.67" height="36.25" fill="#78aee0" stroke="none" stroke-width="0" />
<rect x="660.89" y="372.73" width="1.88" height="33.07" fill="#f4a29c" stroke="none" stroke-width="0" fill-opacity="0.9"/>
<rect x="665.54" y="371.77" width="1.67" height="34.03" fill="#78aee0" stroke="none" stroke-width="0" />
<rect x="663.92" y="370.50" width="1.88" height="35.30" fill="#f4a29c" stroke="none" stroke-width="0" fill-opacity="0.9"/>
<rect x="668.58" y="364.14" width="1.67" height="41.66" fill="#78aee0" stroke="none" stroke-width="0" />
<rect x="666.96" y="378.77" width="1.88" height="27.03" fill="#f4a29c" stroke="none" stroke-width="0" fill-opacity="0.9"/>
<line x1="359.60" y1="346.00" x2="359.60" y2="407.20" stroke="#000" stroke-width="1.4" />
<line x1="356.00" y1="405.80" x2="359.60" y2="405.80" stroke="#000" stroke-width="1.3" />
<text x="355.4" y="410.1" font-size="13.8" text-anchor="end" font-weight="normal" fill="#231f20" >0</text>
<line x1="356.00" y1="389.90" x2="359.60" y2="389.90" stroke="#000" stroke-width="1.3" />
<text x="355.4" y="394.2" font-size="13.8" text-anchor="end" font-weight="normal" fill="#231f20" >0.5</text>
<line x1="356.00" y1="374.00" x2="359.60" y2="374.00" stroke="#000" stroke-width="1.3" />
<text x="355.4" y="378.3" font-size="13.8" text-anchor="end" font-weight="normal" fill="#231f20" >1.0</text>
<line x1="356.00" y1="358.10" x2="359.60" y2="358.10" stroke="#000" stroke-width="1.3" />
<text x="355.4" y="362.4" font-size="13.8" text-anchor="end" font-weight="normal" fill="#231f20" >1.5</text>
<rect x="359.70" y="405.60" width="49.20" height="1.80" fill="#111" stroke="none" stroke-width="0" />
<rect x="412.00" y="405.60" width="49.20" height="1.80" fill="#111" stroke="none" stroke-width="0" />
<rect x="464.30" y="405.60" width="49.20" height="1.80" fill="#111" stroke="none" stroke-width="0" />
<rect x="516.60" y="405.60" width="49.20" height="1.80" fill="#111" stroke="none" stroke-width="0" />
<rect x="568.90" y="405.60" width="49.20" height="1.80" fill="#111" stroke="none" stroke-width="0" />
<rect x="621.20" y="405.60" width="49.20" height="1.80" fill="#111" stroke="none" stroke-width="0" />
<line x1="361.00" y1="374.10" x2="671.00" y2="374.10" stroke="#444" stroke-width="0.8" stroke-dasharray="1.7,1.9"/>
<text x="365.3" y="428.3" font-size="13.8" text-anchor="start" font-weight="normal" fill="#231f20" >After filtering</text>
<text x="365.3" y="445.8" font-size="13.8" text-anchor="start" font-weight="normal" fill="#231f20" >(4,831)</text>
<rect x="361.73" y="475.01" width="1.68" height="0.69" fill="#78aee0" stroke="none" stroke-width="0" />
<rect x="360.10" y="474.04" width="1.90" height="1.66" fill="#f4a29c" stroke="none" stroke-width="0" fill-opacity="0.9"/>
<rect x="364.79" y="474.00" width="1.68" height="1.70" fill="#78aee0" stroke="none" stroke-width="0" />
<rect x="363.16" y="473.64" width="1.90" height="2.06" fill="#f4a29c" stroke="none" stroke-width="0" fill-opacity="0.9"/>
<rect x="367.86" y="475.01" width="1.68" height="0.69" fill="#78aee0" stroke="none" stroke-width="0" />
<rect x="366.22" y="475.52" width="1.90" height="0.18" fill="#f4a29c" stroke="none" stroke-width="0" fill-opacity="0.9"/>
<rect x="370.92" y="474.54" width="1.68" height="1.16" fill="#78aee0" stroke="none" stroke-width="0" />
<rect x="369.29" y="475.70" width="1.90" height="0.00" fill="#f4a29c" stroke="none" stroke-width="0" fill-opacity="0.9"/>
<rect x="373.98" y="475.18" width="1.68" height="0.52" fill="#78aee0" stroke="none" stroke-width="0" />
<rect x="372.35" y="475.70" width="1.90" height="0.00" fill="#f4a29c" stroke="none" stroke-width="0" fill-opacity="0.9"/>
<rect x="377.04" y="475.70" width="1.68" height="0.00" fill="#78aee0" stroke="none" stroke-width="0" />
<rect x="375.41" y="473.59" width="1.90" height="2.11" fill="#f4a29c" stroke="none" stroke-width="0" fill-opacity="0.9"/>
<rect x="380.11" y="473.14" width="1.68" height="2.55" fill="#78aee0" stroke="none" stroke-width="0" />
<rect x="378.47" y="474.40" width="1.90" height="1.30" fill="#f4a29c" stroke="none" stroke-width="0" fill-opacity="0.9"/>
<rect x="383.17" y="475.70" width="1.68" height="0.00" fill="#78aee0" stroke="none" stroke-width="0" />
<rect x="381.54" y="474.88" width="1.90" height="0.82" fill="#f4a29c" stroke="none" stroke-width="0" fill-opacity="0.9"/>
<rect x="386.23" y="474.95" width="1.68" height="0.75" fill="#78aee0" stroke="none" stroke-width="0" />
<rect x="384.60" y="471.32" width="1.90" height="4.38" fill="#f4a29c" stroke="none" stroke-width="0" fill-opacity="0.9"/>
<rect x="389.29" y="474.64" width="1.68" height="1.06" fill="#78aee0" stroke="none" stroke-width="0" />
<rect x="387.66" y="473.81" width="1.90" height="1.89" fill="#f4a29c" stroke="none" stroke-width="0" fill-opacity="0.9"/>
<rect x="392.36" y="468.40" width="1.68" height="7.30" fill="#78aee0" stroke="none" stroke-width="0" />
<rect x="390.72" y="475.50" width="1.90" height="0.20" fill="#f4a29c" stroke="none" stroke-width="0" fill-opacity="0.9"/>
<rect x="395.42" y="475.70" width="1.68" height="0.00" fill="#78aee0" stroke="none" stroke-width="0" />
<rect x="393.79" y="472.03" width="1.90" height="3.67" fill="#f4a29c" stroke="none" stroke-width="0" fill-opacity="0.9"/>
<rect x="398.48" y="475.70" width="1.68" height="0.00" fill="#78aee0" stroke="none" stroke-width="0" />
<rect x="396.85" y="474.65" width="1.90" height="1.05" fill="#f4a29c" stroke="none" stroke-width="0" fill-opacity="0.9"/>
<rect x="401.54" y="475.70" width="1.68" height="0.00" fill="#78aee0" stroke="none" stroke-width="0" />
<rect x="399.91" y="475.70" width="1.90" height="0.00" fill="#f4a29c" stroke="none" stroke-width="0" fill-opacity="0.9"/>
<rect x="404.61" y="475.61" width="1.68" height="0.09" fill="#78aee0" stroke="none" stroke-width="0" />
<rect x="402.97" y="473.86" width="1.90" height="1.84" fill="#f4a29c" stroke="none" stroke-width="0" fill-opacity="0.9"/>
<rect x="407.67" y="475.70" width="1.68" height="0.00" fill="#78aee0" stroke="none" stroke-width="0" />
<rect x="406.04" y="474.69" width="1.90" height="1.01" fill="#f4a29c" stroke="none" stroke-width="0" fill-opacity="0.9"/>
<rect x="414.48" y="473.73" width="1.68" height="1.97" fill="#78aee0" stroke="none" stroke-width="0" />
<rect x="412.85" y="475.70" width="1.90" height="0.00" fill="#f4a29c" stroke="none" stroke-width="0" fill-opacity="0.9"/>
<rect x="417.54" y="475.70" width="1.68" height="0.00" fill="#78aee0" stroke="none" stroke-width="0" />
<rect x="415.91" y="474.85" width="1.90" height="0.85" fill="#f4a29c" stroke="none" stroke-width="0" fill-opacity="0.9"/>
<rect x="420.61" y="475.25" width="1.68" height="0.45" fill="#78aee0" stroke="none" stroke-width="0" />
<rect x="418.97" y="475.70" width="1.90" height="0.00" fill="#f4a29c" stroke="none" stroke-width="0" fill-opacity="0.9"/>
<rect x="423.67" y="475.70" width="1.68" height="0.00" fill="#78aee0" stroke="none" stroke-width="0" />
<rect x="422.04" y="468.63" width="1.90" height="7.07" fill="#f4a29c" stroke="none" stroke-width="0" fill-opacity="0.9"/>
<rect x="426.73" y="475.26" width="1.68" height="0.44" fill="#78aee0" stroke="none" stroke-width="0" />
<rect x="425.10" y="474.26" width="1.90" height="1.44" fill="#f4a29c" stroke="none" stroke-width="0" fill-opacity="0.9"/>
<rect x="429.79" y="475.70" width="1.68" height="0.00" fill="#78aee0" stroke="none" stroke-width="0" />
<rect x="428.16" y="472.94" width="1.90" height="2.76" fill="#f4a29c" stroke="none" stroke-width="0" fill-opacity="0.9"/>
<rect x="432.86" y="475.70" width="1.68" height="0.00" fill="#78aee0" stroke="none" stroke-width="0" />
<rect x="431.22" y="472.15" width="1.90" height="3.55" fill="#f4a29c" stroke="none" stroke-width="0" fill-opacity="0.9"/>
<rect x="435.92" y="475.38" width="1.68" height="0.32" fill="#78aee0" stroke="none" stroke-width="0" />
<rect x="434.29" y="474.54" width="1.90" height="1.16" fill="#f4a29c" stroke="none" stroke-width="0" fill-opacity="0.9"/>
<rect x="438.98" y="475.40" width="1.68" height="0.30" fill="#78aee0" stroke="none" stroke-width="0" />
<rect x="437.35" y="473.92" width="1.90" height="1.78" fill="#f4a29c" stroke="none" stroke-width="0" fill-opacity="0.9"/>
<rect x="442.04" y="475.01" width="1.68" height="0.69" fill="#78aee0" stroke="none" stroke-width="0" />
<rect x="440.41" y="472.29" width="1.90" height="3.41" fill="#f4a29c" stroke="none" stroke-width="0" fill-opacity="0.9"/>
<rect x="445.11" y="475.70" width="1.68" height="0.00" fill="#78aee0" stroke="none" stroke-width="0" />
<rect x="443.47" y="472.84" width="1.90" height="2.86" fill="#f4a29c" stroke="none" stroke-width="0" fill-opacity="0.9"/>
<rect x="448.17" y="472.41" width="1.68" height="3.29" fill="#78aee0" stroke="none" stroke-width="0" />
<rect x="446.54" y="471.10" width="1.90" height="4.60" fill="#f4a29c" stroke="none" stroke-width="0" fill-opacity="0.9"/>
<rect x="451.23" y="475.18" width="1.68" height="0.52" fill="#78aee0" stroke="none" stroke-width="0" />
<rect x="449.60" y="473.38" width="1.90" height="2.32" fill="#f4a29c" stroke="none" stroke-width="0" fill-opacity="0.9"/>
<rect x="454.29" y="471.69" width="1.68" height="4.02" fill="#78aee0" stroke="none" stroke-width="0" />
<rect x="452.66" y="474.31" width="1.90" height="1.39" fill="#f4a29c" stroke="none" stroke-width="0" fill-opacity="0.9"/>
<rect x="457.36" y="475.35" width="1.68" height="0.35" fill="#78aee0" stroke="none" stroke-width="0" />
<rect x="455.72" y="475.70" width="1.90" height="0.00" fill="#f4a29c" stroke="none" stroke-width="0" fill-opacity="0.9"/>
<rect x="460.42" y="474.44" width="1.68" height="1.26" fill="#78aee0" stroke="none" stroke-width="0" />
<rect x="458.79" y="475.70" width="1.90" height="0.00" fill="#f4a29c" stroke="none" stroke-width="0" fill-opacity="0.9"/>
<rect x="467.23" y="470.84" width="1.68" height="4.86" fill="#78aee0" stroke="none" stroke-width="0" />
<rect x="465.60" y="434.09" width="1.90" height="41.61" fill="#f4a29c" stroke="none" stroke-width="0" fill-opacity="0.9"/>
<rect x="470.29" y="470.72" width="1.68" height="4.98" fill="#78aee0" stroke="none" stroke-width="0" />
<rect x="468.66" y="437.01" width="1.90" height="38.69" fill="#f4a29c" stroke="none" stroke-width="0" fill-opacity="0.9"/>
<rect x="473.36" y="472.27" width="1.68" height="3.43" fill="#78aee0" stroke="none" stroke-width="0" />
<rect x="471.72" y="436.28" width="1.90" height="39.42" fill="#f4a29c" stroke="none" stroke-width="0" fill-opacity="0.9"/>
<rect x="476.42" y="468.76" width="1.68" height="6.94" fill="#78aee0" stroke="none" stroke-width="0" />
<rect x="474.79" y="439.93" width="1.90" height="35.77" fill="#f4a29c" stroke="none" stroke-width="0" fill-opacity="0.9"/>
<rect x="479.48" y="475.70" width="1.68" height="0.00" fill="#78aee0" stroke="none" stroke-width="0" />
<rect x="477.85" y="424.60" width="1.90" height="51.10" fill="#f4a29c" stroke="none" stroke-width="0" fill-opacity="0.9"/>
<rect x="482.54" y="470.00" width="1.68" height="5.70" fill="#78aee0" stroke="none" stroke-width="0" />
<rect x="480.91" y="428.25" width="1.90" height="47.45" fill="#f4a29c" stroke="none" stroke-width="0" fill-opacity="0.9"/>
<rect x="485.61" y="473.94" width="1.68" height="1.76" fill="#78aee0" stroke="none" stroke-width="0" />
<rect x="483.97" y="418.76" width="1.90" height="56.94" fill="#f4a29c" stroke="none" stroke-width="0" fill-opacity="0.9"/>
<rect x="488.67" y="472.13" width="1.68" height="3.57" fill="#78aee0" stroke="none" stroke-width="0" />
<rect x="487.04" y="423.87" width="1.90" height="51.83" fill="#f4a29c" stroke="none" stroke-width="0" fill-opacity="0.9"/>
<rect x="491.73" y="471.89" width="1.68" height="3.81" fill="#78aee0" stroke="none" stroke-width="0" />
<rect x="490.10" y="426.06" width="1.90" height="49.64" fill="#f4a29c" stroke="none" stroke-width="0" fill-opacity="0.9"/>
<rect x="494.79" y="473.03" width="1.68" height="2.67" fill="#78aee0" stroke="none" stroke-width="0" />
<rect x="493.16" y="420.95" width="1.90" height="54.75" fill="#f4a29c" stroke="none" stroke-width="0" fill-opacity="0.9"/>
<rect x="497.86" y="472.00" width="1.68" height="3.70" fill="#78aee0" stroke="none" stroke-width="0" />
<rect x="496.22" y="420.22" width="1.90" height="55.48" fill="#f4a29c" stroke="none" stroke-width="0" fill-opacity="0.9"/>
<rect x="500.92" y="470.79" width="1.68" height="4.91" fill="#78aee0" stroke="none" stroke-width="0" />
<rect x="499.29" y="423.14" width="1.90" height="52.56" fill="#f4a29c" stroke="none" stroke-width="0" fill-opacity="0.9"/>
<rect x="503.98" y="466.29" width="1.68" height="9.41" fill="#78aee0" stroke="none" stroke-width="0" />
<rect x="502.35" y="433.36" width="1.90" height="42.34" fill="#f4a29c" stroke="none" stroke-width="0" fill-opacity="0.9"/>
<rect x="507.04" y="471.40" width="1.68" height="4.30" fill="#78aee0" stroke="none" stroke-width="0" />
<rect x="505.41" y="428.25" width="1.90" height="47.45" fill="#f4a29c" stroke="none" stroke-width="0" fill-opacity="0.9"/>
<rect x="510.11" y="469.87" width="1.68" height="5.83" fill="#78aee0" stroke="none" stroke-width="0" />
<rect x="508.47" y="420.95" width="1.90" height="54.75" fill="#f4a29c" stroke="none" stroke-width="0" fill-opacity="0.9"/>
<rect x="513.17" y="469.61" width="1.68" height="6.09" fill="#78aee0" stroke="none" stroke-width="0" />
<rect x="511.54" y="438.47" width="1.90" height="37.23" fill="#f4a29c" stroke="none" stroke-width="0" fill-opacity="0.9"/>
<rect x="519.98" y="475.70" width="1.68" height="0.00" fill="#78aee0" stroke="none" stroke-width="0" />
<rect x="518.35" y="474.36" width="1.90" height="1.34" fill="#f4a29c" stroke="none" stroke-width="0" fill-opacity="0.9"/>
<rect x="523.04" y="473.97" width="1.68" height="1.73" fill="#78aee0" stroke="none" stroke-width="0" />
<rect x="521.41" y="474.61" width="1.90" height="1.09" fill="#f4a29c" stroke="none" stroke-width="0" fill-opacity="0.9"/>
<rect x="526.11" y="475.70" width="1.68" height="0.00" fill="#78aee0" stroke="none" stroke-width="0" />
<rect x="524.48" y="475.02" width="1.90" height="0.68" fill="#f4a29c" stroke="none" stroke-width="0" fill-opacity="0.9"/>
<rect x="529.17" y="475.70" width="1.68" height="0.00" fill="#78aee0" stroke="none" stroke-width="0" />
<rect x="527.54" y="475.70" width="1.90" height="0.00" fill="#f4a29c" stroke="none" stroke-width="0" fill-opacity="0.9"/>
<rect x="532.23" y="475.70" width="1.68" height="0.00" fill="#78aee0" stroke="none" stroke-width="0" />
<rect x="530.60" y="474.25" width="1.90" height="1.45" fill="#f4a29c" stroke="none" stroke-width="0" fill-opacity="0.9"/>
<rect x="535.29" y="475.44" width="1.68" height="0.26" fill="#78aee0" stroke="none" stroke-width="0" />
<rect x="533.66" y="475.07" width="1.90" height="0.63" fill="#f4a29c" stroke="none" stroke-width="0" fill-opacity="0.9"/>
<rect x="538.36" y="475.49" width="1.68" height="0.21" fill="#78aee0" stroke="none" stroke-width="0" />
<rect x="536.73" y="475.27" width="1.90" height="0.43" fill="#f4a29c" stroke="none" stroke-width="0" fill-opacity="0.9"/>
<rect x="541.42" y="474.55" width="1.68" height="1.15" fill="#78aee0" stroke="none" stroke-width="0" />
<rect x="539.79" y="475.10" width="1.90" height="0.60" fill="#f4a29c" stroke="none" stroke-width="0" fill-opacity="0.9"/>
<rect x="544.48" y="475.70" width="1.68" height="0.00" fill="#78aee0" stroke="none" stroke-width="0" />
<rect x="542.85" y="475.25" width="1.90" height="0.45" fill="#f4a29c" stroke="none" stroke-width="0" fill-opacity="0.9"/>
<rect x="547.54" y="475.07" width="1.68" height="0.63" fill="#78aee0" stroke="none" stroke-width="0" />
<rect x="545.91" y="474.65" width="1.90" height="1.05" fill="#f4a29c" stroke="none" stroke-width="0" fill-opacity="0.9"/>
<rect x="550.61" y="474.55" width="1.68" height="1.15" fill="#78aee0" stroke="none" stroke-width="0" />
<rect x="548.98" y="473.83" width="1.90" height="1.87" fill="#f4a29c" stroke="none" stroke-width="0" fill-opacity="0.9"/>
<rect x="553.67" y="475.61" width="1.68" height="0.09" fill="#78aee0" stroke="none" stroke-width="0" />
<rect x="552.04" y="474.90" width="1.90" height="0.80" fill="#f4a29c" stroke="none" stroke-width="0" fill-opacity="0.9"/>
<rect x="556.73" y="475.70" width="1.68" height="0.00" fill="#78aee0" stroke="none" stroke-width="0" />
<rect x="555.10" y="475.68" width="1.90" height="0.02" fill="#f4a29c" stroke="none" stroke-width="0" fill-opacity="0.9"/>
<rect x="559.79" y="475.15" width="1.68" height="0.55" fill="#78aee0" stroke="none" stroke-width="0" />
<rect x="558.16" y="475.11" width="1.90" height="0.59" fill="#f4a29c" stroke="none" stroke-width="0" fill-opacity="0.9"/>
<rect x="562.86" y="474.49" width="1.68" height="1.21" fill="#78aee0" stroke="none" stroke-width="0" />
<rect x="561.23" y="475.17" width="1.90" height="0.53" fill="#f4a29c" stroke="none" stroke-width="0" fill-opacity="0.9"/>
<rect x="565.92" y="475.02" width="1.68" height="0.68" fill="#78aee0" stroke="none" stroke-width="0" />
<rect x="564.29" y="474.45" width="1.90" height="1.25" fill="#f4a29c" stroke="none" stroke-width="0" fill-opacity="0.9"/>
<rect x="572.73" y="442.85" width="1.68" height="32.85" fill="#78aee0" stroke="none" stroke-width="0" />
<rect x="571.10" y="464.02" width="1.90" height="11.68" fill="#f4a29c" stroke="none" stroke-width="0" fill-opacity="0.9"/>
<rect x="575.79" y="434.09" width="1.68" height="41.61" fill="#78aee0" stroke="none" stroke-width="0" />
<rect x="574.16" y="458.18" width="1.90" height="17.52" fill="#f4a29c" stroke="none" stroke-width="0" fill-opacity="0.9"/>
<rect x="578.86" y="454.53" width="1.68" height="21.17" fill="#78aee0" stroke="none" stroke-width="0" />
<rect x="577.23" y="455.26" width="1.90" height="20.44" fill="#f4a29c" stroke="none" stroke-width="0" fill-opacity="0.9"/>
<rect x="581.92" y="439.93" width="1.68" height="35.77" fill="#78aee0" stroke="none" stroke-width="0" />
<rect x="580.29" y="462.56" width="1.90" height="13.14" fill="#f4a29c" stroke="none" stroke-width="0" fill-opacity="0.9"/>
<rect x="584.98" y="443.58" width="1.68" height="32.12" fill="#78aee0" stroke="none" stroke-width="0" />
<rect x="583.35" y="453.80" width="1.90" height="21.90" fill="#f4a29c" stroke="none" stroke-width="0" fill-opacity="0.9"/>
<rect x="588.04" y="434.82" width="1.68" height="40.88" fill="#78aee0" stroke="none" stroke-width="0" />
<rect x="586.41" y="459.64" width="1.90" height="16.06" fill="#f4a29c" stroke="none" stroke-width="0" fill-opacity="0.9"/>
<rect x="591.11" y="447.23" width="1.68" height="28.47" fill="#78aee0" stroke="none" stroke-width="0" />
<rect x="589.48" y="451.61" width="1.90" height="24.09" fill="#f4a29c" stroke="none" stroke-width="0" fill-opacity="0.9"/>
<rect x="594.17" y="437.74" width="1.68" height="37.96" fill="#78aee0" stroke="none" stroke-width="0" />
<rect x="592.54" y="449.42" width="1.90" height="26.28" fill="#f4a29c" stroke="none" stroke-width="0" fill-opacity="0.9"/>
<rect x="597.23" y="428.98" width="1.68" height="46.72" fill="#78aee0" stroke="none" stroke-width="0" />
<rect x="595.60" y="457.45" width="1.90" height="18.25" fill="#f4a29c" stroke="none" stroke-width="0" fill-opacity="0.9"/>
<rect x="600.29" y="443.58" width="1.68" height="32.12" fill="#78aee0" stroke="none" stroke-width="0" />
<rect x="598.66" y="454.53" width="1.90" height="21.17" fill="#f4a29c" stroke="none" stroke-width="0" fill-opacity="0.9"/>
<rect x="603.36" y="452.34" width="1.68" height="23.36" fill="#78aee0" stroke="none" stroke-width="0" />
<rect x="601.73" y="450.15" width="1.90" height="25.55" fill="#f4a29c" stroke="none" stroke-width="0" fill-opacity="0.9"/>
<rect x="606.42" y="432.63" width="1.68" height="43.07" fill="#78aee0" stroke="none" stroke-width="0" />
<rect x="604.79" y="460.37" width="1.90" height="15.33" fill="#f4a29c" stroke="none" stroke-width="0" fill-opacity="0.9"/>
<rect x="609.48" y="455.26" width="1.68" height="20.44" fill="#78aee0" stroke="none" stroke-width="0" />
<rect x="607.85" y="458.18" width="1.90" height="17.52" fill="#f4a29c" stroke="none" stroke-width="0" fill-opacity="0.9"/>
<rect x="612.54" y="450.15" width="1.68" height="25.55" fill="#78aee0" stroke="none" stroke-width="0" />
<rect x="610.91" y="450.88" width="1.90" height="24.82" fill="#f4a29c" stroke="none" stroke-width="0" fill-opacity="0.9"/>
<rect x="615.61" y="453.80" width="1.68" height="21.90" fill="#78aee0" stroke="none" stroke-width="0" />
<rect x="613.98" y="455.26" width="1.90" height="20.44" fill="#f4a29c" stroke="none" stroke-width="0" fill-opacity="0.9"/>
<rect x="618.67" y="457.45" width="1.68" height="18.25" fill="#78aee0" stroke="none" stroke-width="0" />
<rect x="617.04" y="464.75" width="1.90" height="10.95" fill="#f4a29c" stroke="none" stroke-width="0" fill-opacity="0.9"/>
<rect x="625.48" y="474.45" width="1.68" height="1.25" fill="#78aee0" stroke="none" stroke-width="0" />
<rect x="623.85" y="475.63" width="1.90" height="0.07" fill="#f4a29c" stroke="none" stroke-width="0" fill-opacity="0.9"/>
<rect x="628.54" y="475.29" width="1.68" height="0.41" fill="#78aee0" stroke="none" stroke-width="0" />
<rect x="626.91" y="473.07" width="1.90" height="2.63" fill="#f4a29c" stroke="none" stroke-width="0" fill-opacity="0.9"/>
<rect x="631.61" y="469.86" width="1.68" height="5.84" fill="#78aee0" stroke="none" stroke-width="0" />
<rect x="629.98" y="474.66" width="1.90" height="1.04" fill="#f4a29c" stroke="none" stroke-width="0" fill-opacity="0.9"/>
<rect x="634.67" y="475.70" width="1.68" height="0.00" fill="#78aee0" stroke="none" stroke-width="0" />
<rect x="633.04" y="472.32" width="1.90" height="3.38" fill="#f4a29c" stroke="none" stroke-width="0" fill-opacity="0.9"/>
<rect x="637.73" y="474.23" width="1.68" height="1.47" fill="#78aee0" stroke="none" stroke-width="0" />
<rect x="636.10" y="474.97" width="1.90" height="0.73" fill="#f4a29c" stroke="none" stroke-width="0" fill-opacity="0.9"/>
<rect x="640.79" y="474.96" width="1.68" height="0.74" fill="#78aee0" stroke="none" stroke-width="0" />
<rect x="639.16" y="472.00" width="1.90" height="3.70" fill="#f4a29c" stroke="none" stroke-width="0" fill-opacity="0.9"/>
<rect x="643.86" y="475.70" width="1.68" height="0.00" fill="#78aee0" stroke="none" stroke-width="0" />
<rect x="642.23" y="475.53" width="1.90" height="0.17" fill="#f4a29c" stroke="none" stroke-width="0" fill-opacity="0.9"/>
<rect x="646.92" y="474.60" width="1.68" height="1.10" fill="#78aee0" stroke="none" stroke-width="0" />
<rect x="645.29" y="474.79" width="1.90" height="0.91" fill="#f4a29c" stroke="none" stroke-width="0" fill-opacity="0.9"/>
<rect x="649.98" y="475.70" width="1.68" height="0.00" fill="#78aee0" stroke="none" stroke-width="0" />
<rect x="648.35" y="472.43" width="1.90" height="3.27" fill="#f4a29c" stroke="none" stroke-width="0" fill-opacity="0.9"/>
<rect x="653.04" y="471.32" width="1.68" height="4.38" fill="#78aee0" stroke="none" stroke-width="0" />
<rect x="651.41" y="472.09" width="1.90" height="3.61" fill="#f4a29c" stroke="none" stroke-width="0" fill-opacity="0.9"/>
<rect x="656.11" y="474.92" width="1.68" height="0.78" fill="#78aee0" stroke="none" stroke-width="0" />
<rect x="654.48" y="472.39" width="1.90" height="3.31" fill="#f4a29c" stroke="none" stroke-width="0" fill-opacity="0.9"/>
<rect x="659.17" y="475.23" width="1.68" height="0.47" fill="#78aee0" stroke="none" stroke-width="0" />
<rect x="657.54" y="470.33" width="1.90" height="5.37" fill="#f4a29c" stroke="none" stroke-width="0" fill-opacity="0.9"/>
<rect x="662.23" y="475.12" width="1.68" height="0.58" fill="#78aee0" stroke="none" stroke-width="0" />
<rect x="660.60" y="472.12" width="1.90" height="3.58" fill="#f4a29c" stroke="none" stroke-width="0" fill-opacity="0.9"/>
<rect x="665.29" y="475.18" width="1.68" height="0.52" fill="#78aee0" stroke="none" stroke-width="0" />
<rect x="663.66" y="473.95" width="1.90" height="1.75" fill="#f4a29c" stroke="none" stroke-width="0" fill-opacity="0.9"/>
<rect x="668.36" y="472.41" width="1.68" height="3.29" fill="#78aee0" stroke="none" stroke-width="0" />
<rect x="666.73" y="472.28" width="1.90" height="3.42" fill="#f4a29c" stroke="none" stroke-width="0" fill-opacity="0.9"/>
<rect x="671.42" y="475.70" width="1.68" height="0.00" fill="#78aee0" stroke="none" stroke-width="0" />
<rect x="669.79" y="475.44" width="1.90" height="0.26" fill="#f4a29c" stroke="none" stroke-width="0" fill-opacity="0.9"/>
<line x1="359.70" y1="419.20" x2="359.70" y2="477.00" stroke="#000" stroke-width="1.4" />
<line x1="356.20" y1="461.10" x2="359.70" y2="461.10" stroke="#000" stroke-width="1.3" />
<text x="355.4" y="466.0" font-size="13.8" text-anchor="end" font-weight="normal" fill="#231f20" >2</text>
<line x1="356.20" y1="446.50" x2="359.70" y2="446.50" stroke="#000" stroke-width="1.3" />
<text x="355.4" y="451.4" font-size="13.8" text-anchor="end" font-weight="normal" fill="#231f20" >4</text>
<line x1="356.20" y1="431.90" x2="359.70" y2="431.90" stroke="#000" stroke-width="1.3" />
<text x="355.4" y="436.8" font-size="13.8" text-anchor="end" font-weight="normal" fill="#231f20" >6</text>
<rect x="359.90" y="475.70" width="49.60" height="1.80" fill="#111" stroke="none" stroke-width="0" />
<rect x="412.65" y="475.70" width="49.60" height="1.80" fill="#111" stroke="none" stroke-width="0" />
<rect x="465.40" y="475.70" width="49.60" height="1.80" fill="#111" stroke="none" stroke-width="0" />
<rect x="518.15" y="475.70" width="49.60" height="1.80" fill="#111" stroke="none" stroke-width="0" />
<rect x="570.90" y="475.70" width="49.60" height="1.80" fill="#111" stroke="none" stroke-width="0" />
<rect x="623.65" y="475.70" width="49.60" height="1.80" fill="#111" stroke="none" stroke-width="0" />
<line x1="361.00" y1="468.40" x2="674.00" y2="468.40" stroke="#111" stroke-width="1.3" stroke-dasharray="3.4,3.5"/>
<text x="363.5" y="492.2" font-size="13.8" text-anchor="start" font-weight="normal" fill="#231f20" >Mitochondrial mutation signature (ref. 35)</text>
<rect x="362.63" y="554.82" width="1.79" height="0.48" fill="#78aee0" stroke="none" stroke-width="0" />
<rect x="360.90" y="551.00" width="2.02" height="4.30" fill="#f4a29c" stroke="none" stroke-width="0" fill-opacity="0.9"/>
<rect x="365.88" y="554.49" width="1.79" height="0.81" fill="#78aee0" stroke="none" stroke-width="0" />
<rect x="364.15" y="554.93" width="2.02" height="0.37" fill="#f4a29c" stroke="none" stroke-width="0" fill-opacity="0.9"/>
<rect x="369.13" y="555.30" width="1.79" height="0.00" fill="#78aee0" stroke="none" stroke-width="0" />
<rect x="367.41" y="555.16" width="2.02" height="0.14" fill="#f4a29c" stroke="none" stroke-width="0" fill-opacity="0.9"/>
<rect x="372.39" y="552.72" width="1.79" height="2.58" fill="#78aee0" stroke="none" stroke-width="0" />
<rect x="370.66" y="555.30" width="2.02" height="0.00" fill="#f4a29c" stroke="none" stroke-width="0" fill-opacity="0.9"/>
<rect x="375.64" y="552.29" width="1.79" height="3.01" fill="#78aee0" stroke="none" stroke-width="0" />
<rect x="373.91" y="554.66" width="2.02" height="0.64" fill="#f4a29c" stroke="none" stroke-width="0" fill-opacity="0.9"/>
<rect x="378.89" y="554.98" width="1.79" height="0.32" fill="#78aee0" stroke="none" stroke-width="0" />
<rect x="377.17" y="555.30" width="2.02" height="0.00" fill="#f4a29c" stroke="none" stroke-width="0" fill-opacity="0.9"/>
<rect x="382.15" y="548.85" width="1.79" height="6.45" fill="#78aee0" stroke="none" stroke-width="0" />
<rect x="380.42" y="551.00" width="2.02" height="4.30" fill="#f4a29c" stroke="none" stroke-width="0" fill-opacity="0.9"/>
<rect x="385.40" y="554.88" width="1.79" height="0.42" fill="#78aee0" stroke="none" stroke-width="0" />
<rect x="383.67" y="555.30" width="2.02" height="0.00" fill="#f4a29c" stroke="none" stroke-width="0" fill-opacity="0.9"/>
<rect x="388.65" y="555.12" width="1.79" height="0.18" fill="#78aee0" stroke="none" stroke-width="0" />
<rect x="386.92" y="555.25" width="2.02" height="0.05" fill="#f4a29c" stroke="none" stroke-width="0" fill-opacity="0.9"/>
<rect x="391.90" y="555.10" width="1.79" height="0.20" fill="#78aee0" stroke="none" stroke-width="0" />
<rect x="390.18" y="555.29" width="2.02" height="0.01" fill="#f4a29c" stroke="none" stroke-width="0" fill-opacity="0.9"/>
<rect x="395.16" y="553.15" width="1.79" height="2.15" fill="#78aee0" stroke="none" stroke-width="0" />
<rect x="393.43" y="555.30" width="2.02" height="0.00" fill="#f4a29c" stroke="none" stroke-width="0" fill-opacity="0.9"/>
<rect x="398.41" y="554.26" width="1.79" height="1.04" fill="#78aee0" stroke="none" stroke-width="0" />
<rect x="396.68" y="555.30" width="2.02" height="0.00" fill="#f4a29c" stroke="none" stroke-width="0" fill-opacity="0.9"/>
<rect x="401.66" y="554.44" width="1.79" height="0.86" fill="#78aee0" stroke="none" stroke-width="0" />
<rect x="399.94" y="554.98" width="2.02" height="0.32" fill="#f4a29c" stroke="none" stroke-width="0" fill-opacity="0.9"/>
<rect x="404.92" y="551.86" width="1.79" height="3.44" fill="#78aee0" stroke="none" stroke-width="0" />
<rect x="403.19" y="554.26" width="2.02" height="1.04" fill="#f4a29c" stroke="none" stroke-width="0" fill-opacity="0.9"/>
<rect x="408.17" y="555.30" width="1.79" height="0.00" fill="#78aee0" stroke="none" stroke-width="0" />
<rect x="406.44" y="554.37" width="2.02" height="0.93" fill="#f4a29c" stroke="none" stroke-width="0" fill-opacity="0.9"/>
<rect x="411.42" y="554.91" width="1.79" height="0.39" fill="#78aee0" stroke="none" stroke-width="0" />
<rect x="409.70" y="555.18" width="2.02" height="0.12" fill="#f4a29c" stroke="none" stroke-width="0" fill-opacity="0.9"/>
<rect x="414.68" y="554.42" width="1.79" height="0.88" fill="#78aee0" stroke="none" stroke-width="0" />
<rect x="412.95" y="555.28" width="2.02" height="0.02" fill="#f4a29c" stroke="none" stroke-width="0" fill-opacity="0.9"/>
<rect x="417.93" y="555.08" width="1.79" height="0.22" fill="#78aee0" stroke="none" stroke-width="0" />
<rect x="416.20" y="554.84" width="2.02" height="0.46" fill="#f4a29c" stroke="none" stroke-width="0" fill-opacity="0.9"/>
<rect x="421.18" y="555.30" width="1.79" height="0.00" fill="#78aee0" stroke="none" stroke-width="0" />
<rect x="419.46" y="555.30" width="2.02" height="0.00" fill="#f4a29c" stroke="none" stroke-width="0" fill-opacity="0.9"/>
<rect x="424.44" y="554.70" width="1.79" height="0.60" fill="#78aee0" stroke="none" stroke-width="0" />
<rect x="422.71" y="555.30" width="2.02" height="0.00" fill="#f4a29c" stroke="none" stroke-width="0" fill-opacity="0.9"/>
<rect x="427.69" y="554.99" width="1.79" height="0.31" fill="#78aee0" stroke="none" stroke-width="0" />
<rect x="425.96" y="554.69" width="2.02" height="0.61" fill="#f4a29c" stroke="none" stroke-width="0" fill-opacity="0.9"/>
<rect x="430.94" y="555.30" width="1.79" height="0.00" fill="#78aee0" stroke="none" stroke-width="0" />
<rect x="429.22" y="555.27" width="2.02" height="0.03" fill="#f4a29c" stroke="none" stroke-width="0" fill-opacity="0.9"/>
<rect x="434.20" y="555.19" width="1.79" height="0.11" fill="#78aee0" stroke="none" stroke-width="0" />
<rect x="432.47" y="554.46" width="2.02" height="0.84" fill="#f4a29c" stroke="none" stroke-width="0" fill-opacity="0.9"/>
<rect x="437.45" y="555.03" width="1.79" height="0.27" fill="#78aee0" stroke="none" stroke-width="0" />
<rect x="435.72" y="554.96" width="2.02" height="0.34" fill="#f4a29c" stroke="none" stroke-width="0" fill-opacity="0.9"/>
<rect x="440.70" y="555.30" width="1.79" height="0.00" fill="#78aee0" stroke="none" stroke-width="0" />
<rect x="438.97" y="555.30" width="2.02" height="0.00" fill="#f4a29c" stroke="none" stroke-width="0" fill-opacity="0.9"/>
<rect x="443.95" y="548.42" width="1.79" height="6.88" fill="#78aee0" stroke="none" stroke-width="0" />
<rect x="442.23" y="554.98" width="2.02" height="0.32" fill="#f4a29c" stroke="none" stroke-width="0" fill-opacity="0.9"/>
<rect x="447.21" y="554.56" width="1.79" height="0.74" fill="#78aee0" stroke="none" stroke-width="0" />
<rect x="445.48" y="554.90" width="2.02" height="0.40" fill="#f4a29c" stroke="none" stroke-width="0" fill-opacity="0.9"/>
<rect x="450.46" y="554.65" width="1.79" height="0.65" fill="#78aee0" stroke="none" stroke-width="0" />
<rect x="448.73" y="555.07" width="2.02" height="0.23" fill="#f4a29c" stroke="none" stroke-width="0" fill-opacity="0.9"/>
<rect x="453.71" y="554.57" width="1.79" height="0.73" fill="#78aee0" stroke="none" stroke-width="0" />
<rect x="451.99" y="555.30" width="2.02" height="0.00" fill="#f4a29c" stroke="none" stroke-width="0" fill-opacity="0.9"/>
<rect x="456.97" y="554.78" width="1.79" height="0.52" fill="#78aee0" stroke="none" stroke-width="0" />
<rect x="455.24" y="555.30" width="2.02" height="0.00" fill="#f4a29c" stroke="none" stroke-width="0" fill-opacity="0.9"/>
<rect x="460.22" y="555.13" width="1.79" height="0.17" fill="#78aee0" stroke="none" stroke-width="0" />
<rect x="458.49" y="554.32" width="2.02" height="0.98" fill="#f4a29c" stroke="none" stroke-width="0" fill-opacity="0.9"/>
<rect x="463.47" y="554.83" width="1.79" height="0.47" fill="#78aee0" stroke="none" stroke-width="0" />
<rect x="461.75" y="555.30" width="2.02" height="0.00" fill="#f4a29c" stroke="none" stroke-width="0" fill-opacity="0.9"/>
<rect x="466.73" y="551.70" width="1.79" height="3.60" fill="#78aee0" stroke="none" stroke-width="0" />
<rect x="465.00" y="532.08" width="2.02" height="23.22" fill="#f4a29c" stroke="none" stroke-width="0" fill-opacity="0.9"/>
<rect x="469.98" y="549.81" width="1.79" height="5.49" fill="#78aee0" stroke="none" stroke-width="0" />
<rect x="468.25" y="525.63" width="2.02" height="29.67" fill="#f4a29c" stroke="none" stroke-width="0" fill-opacity="0.9"/>
<rect x="473.23" y="555.30" width="1.79" height="0.00" fill="#78aee0" stroke="none" stroke-width="0" />
<rect x="471.51" y="508.43" width="2.02" height="46.87" fill="#f4a29c" stroke="none" stroke-width="0" fill-opacity="0.9"/>
<rect x="476.49" y="549.22" width="1.79" height="6.08" fill="#78aee0" stroke="none" stroke-width="0" />
<rect x="474.76" y="530.36" width="2.02" height="24.94" fill="#f4a29c" stroke="none" stroke-width="0" fill-opacity="0.9"/>
<rect x="479.74" y="548.59" width="1.79" height="6.71" fill="#78aee0" stroke="none" stroke-width="0" />
<rect x="478.01" y="535.09" width="2.02" height="20.21" fill="#f4a29c" stroke="none" stroke-width="0" fill-opacity="0.9"/>
<rect x="482.99" y="552.65" width="1.79" height="2.65" fill="#78aee0" stroke="none" stroke-width="0" />
<rect x="481.27" y="529.07" width="2.02" height="26.23" fill="#f4a29c" stroke="none" stroke-width="0" fill-opacity="0.9"/>
<rect x="486.25" y="547.85" width="1.79" height="7.45" fill="#78aee0" stroke="none" stroke-width="0" />
<rect x="484.52" y="517.89" width="2.02" height="37.41" fill="#f4a29c" stroke="none" stroke-width="0" fill-opacity="0.9"/>
<rect x="489.50" y="554.19" width="1.79" height="1.11" fill="#78aee0" stroke="none" stroke-width="0" />
<rect x="487.77" y="521.76" width="2.02" height="33.54" fill="#f4a29c" stroke="none" stroke-width="0" fill-opacity="0.9"/>
<rect x="492.75" y="550.48" width="1.79" height="4.82" fill="#78aee0" stroke="none" stroke-width="0" />
<rect x="491.02" y="533.37" width="2.02" height="21.93" fill="#f4a29c" stroke="none" stroke-width="0" fill-opacity="0.9"/>
<rect x="496.00" y="553.81" width="1.79" height="1.49" fill="#78aee0" stroke="none" stroke-width="0" />
<rect x="494.28" y="511.01" width="2.02" height="44.29" fill="#f4a29c" stroke="none" stroke-width="0" fill-opacity="0.9"/>
<rect x="499.26" y="552.78" width="1.79" height="2.52" fill="#78aee0" stroke="none" stroke-width="0" />
<rect x="497.53" y="493.38" width="2.02" height="61.92" fill="#f4a29c" stroke="none" stroke-width="0" fill-opacity="0.9"/>
<rect x="502.51" y="551.12" width="1.79" height="4.18" fill="#78aee0" stroke="none" stroke-width="0" />
<rect x="500.78" y="517.46" width="2.02" height="37.84" fill="#f4a29c" stroke="none" stroke-width="0" fill-opacity="0.9"/>
<rect x="505.76" y="551.53" width="1.79" height="3.77" fill="#78aee0" stroke="none" stroke-width="0" />
<rect x="504.04" y="528.21" width="2.02" height="27.09" fill="#f4a29c" stroke="none" stroke-width="0" fill-opacity="0.9"/>
<rect x="509.02" y="551.43" width="1.79" height="3.87" fill="#78aee0" stroke="none" stroke-width="0" />
<rect x="507.29" y="525.20" width="2.02" height="30.10" fill="#f4a29c" stroke="none" stroke-width="0" fill-opacity="0.9"/>
<rect x="512.27" y="552.15" width="1.79" height="3.15" fill="#78aee0" stroke="none" stroke-width="0" />
<rect x="510.54" y="515.74" width="2.02" height="39.56" fill="#f4a29c" stroke="none" stroke-width="0" fill-opacity="0.9"/>
<rect x="515.52" y="554.63" width="1.79" height="0.67" fill="#78aee0" stroke="none" stroke-width="0" />
<rect x="513.80" y="529.50" width="2.02" height="25.80" fill="#f4a29c" stroke="none" stroke-width="0" fill-opacity="0.9"/>
<rect x="518.78" y="555.14" width="1.79" height="0.16" fill="#78aee0" stroke="none" stroke-width="0" />
<rect x="517.05" y="555.21" width="2.02" height="0.09" fill="#f4a29c" stroke="none" stroke-width="0" fill-opacity="0.9"/>
<rect x="522.03" y="554.84" width="1.79" height="0.46" fill="#78aee0" stroke="none" stroke-width="0" />
<rect x="520.30" y="555.30" width="2.02" height="0.00" fill="#f4a29c" stroke="none" stroke-width="0" fill-opacity="0.9"/>
<rect x="525.28" y="554.85" width="1.79" height="0.45" fill="#78aee0" stroke="none" stroke-width="0" />
<rect x="523.56" y="555.30" width="2.02" height="0.00" fill="#f4a29c" stroke="none" stroke-width="0" fill-opacity="0.9"/>
<rect x="528.54" y="554.32" width="1.79" height="0.98" fill="#78aee0" stroke="none" stroke-width="0" />
<rect x="526.81" y="554.86" width="2.02" height="0.44" fill="#f4a29c" stroke="none" stroke-width="0" fill-opacity="0.9"/>
<rect x="531.79" y="555.01" width="1.79" height="0.29" fill="#78aee0" stroke="none" stroke-width="0" />
<rect x="530.06" y="555.14" width="2.02" height="0.16" fill="#f4a29c" stroke="none" stroke-width="0" fill-opacity="0.9"/>
<rect x="535.04" y="554.56" width="1.79" height="0.74" fill="#78aee0" stroke="none" stroke-width="0" />
<rect x="533.32" y="555.14" width="2.02" height="0.16" fill="#f4a29c" stroke="none" stroke-width="0" fill-opacity="0.9"/>
<rect x="538.30" y="555.30" width="1.79" height="0.00" fill="#78aee0" stroke="none" stroke-width="0" />
<rect x="536.57" y="555.26" width="2.02" height="0.04" fill="#f4a29c" stroke="none" stroke-width="0" fill-opacity="0.9"/>
<rect x="541.55" y="555.30" width="1.79" height="0.00" fill="#78aee0" stroke="none" stroke-width="0" />
<rect x="539.82" y="554.84" width="2.02" height="0.46" fill="#f4a29c" stroke="none" stroke-width="0" fill-opacity="0.9"/>
<rect x="544.80" y="555.30" width="1.79" height="0.00" fill="#78aee0" stroke="none" stroke-width="0" />
<rect x="543.07" y="555.30" width="2.02" height="0.00" fill="#f4a29c" stroke="none" stroke-width="0" fill-opacity="0.9"/>
<rect x="548.05" y="555.28" width="1.79" height="0.02" fill="#78aee0" stroke="none" stroke-width="0" />
<rect x="546.33" y="555.30" width="2.02" height="0.00" fill="#f4a29c" stroke="none" stroke-width="0" fill-opacity="0.9"/>
<rect x="551.31" y="554.72" width="1.79" height="0.58" fill="#78aee0" stroke="none" stroke-width="0" />
<rect x="549.58" y="555.30" width="2.02" height="0.00" fill="#f4a29c" stroke="none" stroke-width="0" fill-opacity="0.9"/>
<rect x="554.56" y="554.77" width="1.79" height="0.53" fill="#78aee0" stroke="none" stroke-width="0" />
<rect x="552.83" y="555.30" width="2.02" height="0.00" fill="#f4a29c" stroke="none" stroke-width="0" fill-opacity="0.9"/>
<rect x="557.81" y="555.08" width="1.79" height="0.22" fill="#78aee0" stroke="none" stroke-width="0" />
<rect x="556.09" y="554.97" width="2.02" height="0.33" fill="#f4a29c" stroke="none" stroke-width="0" fill-opacity="0.9"/>
<rect x="561.07" y="555.30" width="1.79" height="0.00" fill="#78aee0" stroke="none" stroke-width="0" />
<rect x="559.34" y="554.49" width="2.02" height="0.81" fill="#f4a29c" stroke="none" stroke-width="0" fill-opacity="0.9"/>
<rect x="564.32" y="555.03" width="1.79" height="0.27" fill="#78aee0" stroke="none" stroke-width="0" />
<rect x="562.59" y="554.86" width="2.02" height="0.44" fill="#f4a29c" stroke="none" stroke-width="0" fill-opacity="0.9"/>
<rect x="567.57" y="555.27" width="1.79" height="0.03" fill="#78aee0" stroke="none" stroke-width="0" />
<rect x="565.85" y="555.30" width="2.02" height="0.00" fill="#f4a29c" stroke="none" stroke-width="0" fill-opacity="0.9"/>
<rect x="570.83" y="537.24" width="1.79" height="18.06" fill="#78aee0" stroke="none" stroke-width="0" />
<rect x="569.10" y="555.30" width="2.02" height="0.00" fill="#f4a29c" stroke="none" stroke-width="0" fill-opacity="0.9"/>
<rect x="574.08" y="520.04" width="1.79" height="35.26" fill="#78aee0" stroke="none" stroke-width="0" />
<rect x="572.35" y="554.61" width="2.02" height="0.69" fill="#f4a29c" stroke="none" stroke-width="0" fill-opacity="0.9"/>
<rect x="577.33" y="546.70" width="1.79" height="8.60" fill="#78aee0" stroke="none" stroke-width="0" />
<rect x="575.61" y="554.86" width="2.02" height="0.44" fill="#f4a29c" stroke="none" stroke-width="0" fill-opacity="0.9"/>
<rect x="580.59" y="535.09" width="1.79" height="20.21" fill="#78aee0" stroke="none" stroke-width="0" />
<rect x="578.86" y="553.96" width="2.02" height="1.34" fill="#f4a29c" stroke="none" stroke-width="0" fill-opacity="0.9"/>
<rect x="583.84" y="538.10" width="1.79" height="17.20" fill="#78aee0" stroke="none" stroke-width="0" />
<rect x="582.11" y="555.30" width="2.02" height="0.00" fill="#f4a29c" stroke="none" stroke-width="0" fill-opacity="0.9"/>
<rect x="587.09" y="520.04" width="1.79" height="35.26" fill="#78aee0" stroke="none" stroke-width="0" />
<rect x="585.37" y="553.37" width="2.02" height="1.93" fill="#f4a29c" stroke="none" stroke-width="0" fill-opacity="0.9"/>
<rect x="590.35" y="535.52" width="1.79" height="19.78" fill="#78aee0" stroke="none" stroke-width="0" />
<rect x="588.62" y="552.33" width="2.02" height="2.97" fill="#f4a29c" stroke="none" stroke-width="0" fill-opacity="0.9"/>
<rect x="593.60" y="536.81" width="1.79" height="18.49" fill="#78aee0" stroke="none" stroke-width="0" />
<rect x="591.87" y="554.01" width="2.02" height="1.29" fill="#f4a29c" stroke="none" stroke-width="0" fill-opacity="0.9"/>
<rect x="596.85" y="538.96" width="1.79" height="16.34" fill="#78aee0" stroke="none" stroke-width="0" />
<rect x="595.12" y="550.89" width="2.02" height="4.41" fill="#f4a29c" stroke="none" stroke-width="0" fill-opacity="0.9"/>
<rect x="600.10" y="519.18" width="1.79" height="36.12" fill="#78aee0" stroke="none" stroke-width="0" />
<rect x="598.38" y="546.70" width="2.02" height="8.60" fill="#f4a29c" stroke="none" stroke-width="0" fill-opacity="0.9"/>
<rect x="603.36" y="541.11" width="1.79" height="14.19" fill="#78aee0" stroke="none" stroke-width="0" />
<rect x="601.63" y="551.58" width="2.02" height="3.72" fill="#f4a29c" stroke="none" stroke-width="0" fill-opacity="0.9"/>
<rect x="606.61" y="532.94" width="1.79" height="22.36" fill="#78aee0" stroke="none" stroke-width="0" />
<rect x="604.88" y="554.69" width="2.02" height="0.61" fill="#f4a29c" stroke="none" stroke-width="0" fill-opacity="0.9"/>
<rect x="609.86" y="544.55" width="1.79" height="10.75" fill="#78aee0" stroke="none" stroke-width="0" />
<rect x="608.14" y="552.81" width="2.02" height="2.49" fill="#f4a29c" stroke="none" stroke-width="0" fill-opacity="0.9"/>
<rect x="613.12" y="535.95" width="1.79" height="19.35" fill="#78aee0" stroke="none" stroke-width="0" />
<rect x="611.39" y="555.30" width="2.02" height="0.00" fill="#f4a29c" stroke="none" stroke-width="0" fill-opacity="0.9"/>
<rect x="616.37" y="543.69" width="1.79" height="11.61" fill="#78aee0" stroke="none" stroke-width="0" />
<rect x="614.64" y="555.30" width="2.02" height="0.00" fill="#f4a29c" stroke="none" stroke-width="0" fill-opacity="0.9"/>
<rect x="619.62" y="546.70" width="1.79" height="8.60" fill="#78aee0" stroke="none" stroke-width="0" />
<rect x="617.90" y="555.30" width="2.02" height="0.00" fill="#f4a29c" stroke="none" stroke-width="0" fill-opacity="0.9"/>
<rect x="622.88" y="554.34" width="1.79" height="0.96" fill="#78aee0" stroke="none" stroke-width="0" />
<rect x="621.15" y="555.20" width="2.02" height="0.10" fill="#f4a29c" stroke="none" stroke-width="0" fill-opacity="0.9"/>
<rect x="626.13" y="555.01" width="1.79" height="0.29" fill="#78aee0" stroke="none" stroke-width="0" />
<rect x="624.40" y="554.74" width="2.02" height="0.56" fill="#f4a29c" stroke="none" stroke-width="0" fill-opacity="0.9"/>
<rect x="629.38" y="555.30" width="1.79" height="0.00" fill="#78aee0" stroke="none" stroke-width="0" />
<rect x="627.66" y="555.19" width="2.02" height="0.11" fill="#f4a29c" stroke="none" stroke-width="0" fill-opacity="0.9"/>
<rect x="632.64" y="555.02" width="1.79" height="0.28" fill="#78aee0" stroke="none" stroke-width="0" />
<rect x="630.91" y="554.78" width="2.02" height="0.52" fill="#f4a29c" stroke="none" stroke-width="0" fill-opacity="0.9"/>
<rect x="635.89" y="555.30" width="1.79" height="0.00" fill="#78aee0" stroke="none" stroke-width="0" />
<rect x="634.16" y="554.86" width="2.02" height="0.44" fill="#f4a29c" stroke="none" stroke-width="0" fill-opacity="0.9"/>
<rect x="639.14" y="554.73" width="1.79" height="0.57" fill="#78aee0" stroke="none" stroke-width="0" />
<rect x="637.42" y="554.54" width="2.02" height="0.76" fill="#f4a29c" stroke="none" stroke-width="0" fill-opacity="0.9"/>
<rect x="642.40" y="555.30" width="1.79" height="0.00" fill="#78aee0" stroke="none" stroke-width="0" />
<rect x="640.67" y="555.30" width="2.02" height="0.00" fill="#f4a29c" stroke="none" stroke-width="0" fill-opacity="0.9"/>
<rect x="645.65" y="555.30" width="1.79" height="0.00" fill="#78aee0" stroke="none" stroke-width="0" />
<rect x="643.92" y="555.30" width="2.02" height="0.00" fill="#f4a29c" stroke="none" stroke-width="0" fill-opacity="0.9"/>
<rect x="648.90" y="555.30" width="1.79" height="0.00" fill="#78aee0" stroke="none" stroke-width="0" />
<rect x="647.17" y="555.30" width="2.02" height="0.00" fill="#f4a29c" stroke="none" stroke-width="0" fill-opacity="0.9"/>
<rect x="652.15" y="555.04" width="1.79" height="0.26" fill="#78aee0" stroke="none" stroke-width="0" />
<rect x="650.43" y="555.30" width="2.02" height="0.00" fill="#f4a29c" stroke="none" stroke-width="0" fill-opacity="0.9"/>
<rect x="655.41" y="554.65" width="1.79" height="0.65" fill="#78aee0" stroke="none" stroke-width="0" />
<rect x="653.68" y="554.94" width="2.02" height="0.36" fill="#f4a29c" stroke="none" stroke-width="0" fill-opacity="0.9"/>
<rect x="658.66" y="555.22" width="1.79" height="0.08" fill="#78aee0" stroke="none" stroke-width="0" />
<rect x="656.93" y="554.69" width="2.02" height="0.61" fill="#f4a29c" stroke="none" stroke-width="0" fill-opacity="0.9"/>
<rect x="661.91" y="555.30" width="1.79" height="0.00" fill="#78aee0" stroke="none" stroke-width="0" />
<rect x="660.19" y="552.29" width="2.02" height="3.01" fill="#f4a29c" stroke="none" stroke-width="0" fill-opacity="0.9"/>
<rect x="665.17" y="555.30" width="1.79" height="0.00" fill="#78aee0" stroke="none" stroke-width="0" />
<rect x="663.44" y="554.64" width="2.02" height="0.66" fill="#f4a29c" stroke="none" stroke-width="0" fill-opacity="0.9"/>
<rect x="668.42" y="555.15" width="1.79" height="0.15" fill="#78aee0" stroke="none" stroke-width="0" />
<rect x="666.69" y="554.73" width="2.02" height="0.57" fill="#f4a29c" stroke="none" stroke-width="0" fill-opacity="0.9"/>
<rect x="671.67" y="554.59" width="1.79" height="0.71" fill="#78aee0" stroke="none" stroke-width="0" />
<rect x="669.95" y="555.30" width="2.02" height="0.00" fill="#f4a29c" stroke="none" stroke-width="0" fill-opacity="0.9"/>
<line x1="359.60" y1="486.80" x2="359.60" y2="556.00" stroke="#000" stroke-width="1.4" />
<line x1="358.90" y1="555.30" x2="674.70" y2="555.30" stroke="#000" stroke-width="1.4" />
<line x1="360.00" y1="556.90" x2="674.50" y2="556.90" stroke="#aaa" stroke-width="0.8" stroke-dasharray="1,2.25"/>
<line x1="355.80" y1="555.30" x2="359.60" y2="555.30" stroke="#000" stroke-width="1.3" />
<text x="355.0" y="560.2" font-size="13.8" text-anchor="end" font-weight="normal" fill="#231f20" >0</text>
<line x1="355.80" y1="533.80" x2="359.60" y2="533.80" stroke="#000" stroke-width="1.3" />
<text x="355.0" y="538.7" font-size="13.8" text-anchor="end" font-weight="normal" fill="#231f20" >5</text>
<line x1="355.80" y1="512.30" x2="359.60" y2="512.30" stroke="#000" stroke-width="1.3" />
<text x="355.0" y="517.2" font-size="13.8" text-anchor="end" font-weight="normal" fill="#231f20" >10</text>
<line x1="355.80" y1="490.80" x2="359.60" y2="490.80" stroke="#000" stroke-width="1.3" />
<text x="355.0" y="495.7" font-size="13.8" text-anchor="end" font-weight="normal" fill="#231f20" >15</text>
<text x="387.0" y="570.4" font-size="13.8" text-anchor="middle" font-weight="normal" fill="#231f20" >C&gt;A</text>
<text x="439.1" y="570.4" font-size="13.8" text-anchor="middle" font-weight="normal" fill="#231f20" >C&gt;G</text>
<text x="494.1" y="570.4" font-size="13.8" text-anchor="middle" font-weight="normal" fill="#231f20" >C&gt;T</text>
<text x="543.1" y="570.4" font-size="13.8" text-anchor="middle" font-weight="normal" fill="#231f20" >T&gt;A</text>
<text x="595.2" y="570.4" font-size="13.8" text-anchor="middle" font-weight="normal" fill="#231f20" >T&gt;C</text>
<text x="647.2" y="570.4" font-size="13.8" text-anchor="middle" font-weight="normal" fill="#231f20" >T&gt;G</text>
<text x="515.5" y="588.6" font-size="13.8" text-anchor="middle" font-weight="normal" fill="#231f20" >96 classes of substitution</text>
<text x="0.0" y="548.6" font-size="22.5" text-anchor="start" font-weight="bold" fill="#000" style="stroke:#000;stroke-width:0.55px">e</text>
<rect x="72.94" y="560.16" width="7.13" height="154.84" fill="#b3e2dd" stroke="#333" stroke-width="0.9" />
<rect x="72.94" y="711.08" width="7.13" height="3.92" fill="#d2a893" stroke="#333" stroke-width="0.9" />
<rect x="80.07" y="617.00" width="7.14" height="98.00" fill="#b3e2dd" stroke="#333" stroke-width="0.9" />
<rect x="80.07" y="705.20" width="7.14" height="9.80" fill="#d2a893" stroke="#333" stroke-width="0.9" />
<rect x="87.21" y="665.41" width="7.13" height="49.59" fill="#b3e2dd" stroke="#333" stroke-width="0.9" />
<rect x="87.21" y="695.40" width="7.13" height="19.60" fill="#d2a893" stroke="#333" stroke-width="0.9" />
<rect x="94.34" y="692.46" width="7.14" height="22.54" fill="#b3e2dd" stroke="#333" stroke-width="0.9" />
<rect x="94.34" y="688.05" width="7.14" height="26.95" fill="#f5b4a0" stroke="#222" stroke-width="0.9" />
<rect x="94.79" y="692.46" width="6.24" height="22.09" fill="#d2a893" stroke="none" stroke-width="0" />
<line x1="94.79" y1="692.46" x2="101.03" y2="692.46" stroke="#a05a48" stroke-width="0.7" />
<rect x="101.48" y="706.47" width="7.14" height="8.53" fill="#b3e2dd" stroke="#333" stroke-width="0.9" />
<rect x="101.48" y="680.70" width="7.14" height="34.30" fill="#f5b4a0" stroke="#222" stroke-width="0.9" />
<rect x="101.93" y="706.47" width="6.24" height="8.08" fill="#d2a893" stroke="none" stroke-width="0" />
<line x1="101.93" y1="706.47" x2="108.16" y2="706.47" stroke="#a05a48" stroke-width="0.7" />
<rect x="108.61" y="712.35" width="7.13" height="2.65" fill="#b3e2dd" stroke="#333" stroke-width="0.9" />
<rect x="108.61" y="680.70" width="7.13" height="34.30" fill="#f5b4a0" stroke="#222" stroke-width="0.9" />
<rect x="109.06" y="712.35" width="6.23" height="2.20" fill="#d2a893" stroke="none" stroke-width="0" />
<line x1="109.06" y1="712.35" x2="115.30" y2="712.35" stroke="#a05a48" stroke-width="0.7" />
<rect x="115.75" y="713.43" width="7.14" height="1.57" fill="#b3e2dd" stroke="#333" stroke-width="0.9" />
<rect x="115.75" y="675.80" width="7.14" height="39.20" fill="#f5b4a0" stroke="#222" stroke-width="0.9" />
<rect x="116.20" y="713.43" width="6.24" height="1.12" fill="#d2a893" stroke="none" stroke-width="0" />
<line x1="116.20" y1="713.43" x2="122.43" y2="713.43" stroke="#a05a48" stroke-width="0.7" />
<rect x="122.88" y="714.41" width="7.14" height="0.59" fill="#b3e2dd" stroke="#333" stroke-width="0.9" />
<rect x="122.88" y="679.72" width="7.14" height="35.28" fill="#f5b4a0" stroke="#222" stroke-width="0.9" />
<rect x="123.33" y="714.41" width="6.24" height="0.14" fill="#d2a893" stroke="none" stroke-width="0" />
<line x1="123.33" y1="714.41" x2="129.57" y2="714.41" stroke="#a05a48" stroke-width="0.7" />
<rect x="130.02" y="680.99" width="7.13" height="34.01" fill="#f5b4a0" stroke="#222" stroke-width="0.9" />
<rect x="137.15" y="684.23" width="7.13" height="30.77" fill="#f5b4a0" stroke="#222" stroke-width="0.9" />
<rect x="144.28" y="686.68" width="7.14" height="28.32" fill="#f5b4a0" stroke="#222" stroke-width="0.9" />
<rect x="151.42" y="690.21" width="7.13" height="24.79" fill="#f5b4a0" stroke="#222" stroke-width="0.9" />
<rect x="158.56" y="694.13" width="7.14" height="20.87" fill="#f5b4a0" stroke="#222" stroke-width="0.9" />
<rect x="165.69" y="695.11" width="7.13" height="19.89" fill="#f5b4a0" stroke="#222" stroke-width="0.9" />
<rect x="172.83" y="697.65" width="7.13" height="17.35" fill="#f5b4a0" stroke="#222" stroke-width="0.9" />
<rect x="179.96" y="700.89" width="7.13" height="14.11" fill="#f5b4a0" stroke="#222" stroke-width="0.9" />
<rect x="187.09" y="701.57" width="7.14" height="13.43" fill="#f5b4a0" stroke="#222" stroke-width="0.9" />
<rect x="194.23" y="703.34" width="7.13" height="11.66" fill="#f5b4a0" stroke="#222" stroke-width="0.9" />
<rect x="201.37" y="704.61" width="7.13" height="10.39" fill="#f5b4a0" stroke="#222" stroke-width="0.9" />
<rect x="208.50" y="708.34" width="7.14" height="6.66" fill="#f5b4a0" stroke="#222" stroke-width="0.9" />
<rect x="215.64" y="709.51" width="7.13" height="5.49" fill="#f5b4a0" stroke="#222" stroke-width="0.9" />
<rect x="222.77" y="709.51" width="7.13" height="5.49" fill="#f5b4a0" stroke="#222" stroke-width="0.9" />
<rect x="229.91" y="711.57" width="7.14" height="3.43" fill="#f5b4a0" stroke="#222" stroke-width="0.9" />
<rect x="237.04" y="712.06" width="7.13" height="2.94" fill="#f5b4a0" stroke="#222" stroke-width="0.9" />
<rect x="244.18" y="712.55" width="7.13" height="2.45" fill="#f5b4a0" stroke="#222" stroke-width="0.9" />
<rect x="251.31" y="713.24" width="7.13" height="1.76" fill="#f5b4a0" stroke="#222" stroke-width="0.9" />
<rect x="258.44" y="713.73" width="7.14" height="1.27" fill="#f5b4a0" stroke="#222" stroke-width="0.9" />
<rect x="265.58" y="714.02" width="7.13" height="0.98" fill="#f5b4a0" stroke="#222" stroke-width="0.9" />
<rect x="272.71" y="714.02" width="7.13" height="0.98" fill="#f5b4a0" stroke="#222" stroke-width="0.9" />
<line x1="83.90" y1="553.00" x2="83.90" y2="722.00" stroke="#999" stroke-width="1.3" stroke-dasharray="3.2,3.4"/>
<line x1="129.90" y1="571.00" x2="129.90" y2="722.00" stroke="#999" stroke-width="1.3" stroke-dasharray="3.2,3.4"/>
<rect x="78.40" y="538.40" width="11.40" height="11.00" fill="#b3e2dd" stroke="none" stroke-width="0" />
<text x="93.0" y="548.3" font-size="13.8" text-anchor="start" font-weight="normal" fill="#231f20" >Before: median = 1</text>
<rect x="124.40" y="556.40" width="11.80" height="11.00" fill="#f5b4a0" stroke="none" stroke-width="0" />
<text x="139.5" y="566.6" font-size="13.8" text-anchor="start" font-weight="normal" fill="#231f20" >After: median = 9</text>
<line x1="52.60" y1="553.00" x2="52.60" y2="722.90" stroke="#000" stroke-width="1.4" />
<line x1="51.90" y1="722.20" x2="286.40" y2="722.20" stroke="#000" stroke-width="1.4" />
<line x1="48.00" y1="715.00" x2="52.70" y2="715.00" stroke="#000" stroke-width="1.3" />
<text x="46.6" y="719.9" font-size="13.8" text-anchor="end" font-weight="normal" fill="#231f20" >0</text>
<line x1="48.00" y1="666.00" x2="52.70" y2="666.00" stroke="#000" stroke-width="1.3" />
<text x="46.6" y="670.9" font-size="13.8" text-anchor="end" font-weight="normal" fill="#231f20" >0.5</text>
<line x1="48.00" y1="617.00" x2="52.70" y2="617.00" stroke="#000" stroke-width="1.3" />
<text x="46.6" y="621.9" font-size="13.8" text-anchor="end" font-weight="normal" fill="#231f20" >1.0</text>
<line x1="48.00" y1="568.00" x2="52.70" y2="568.00" stroke="#000" stroke-width="1.3" />
<text x="46.6" y="572.9" font-size="13.8" text-anchor="end" font-weight="normal" fill="#231f20" >1.5</text>
<line x1="64.90" y1="722.20" x2="64.90" y2="726.40" stroke="#000" stroke-width="1.3" />
<text x="64.9" y="739.0" font-size="13.8" text-anchor="middle" font-weight="normal" fill="#231f20" >0</text>
<line x1="136.25" y1="722.20" x2="136.25" y2="726.40" stroke="#000" stroke-width="1.3" />
<text x="136.2" y="739.0" font-size="13.8" text-anchor="middle" font-weight="normal" fill="#231f20" >10</text>
<line x1="207.60" y1="722.20" x2="207.60" y2="726.40" stroke="#000" stroke-width="1.3" />
<text x="207.6" y="739.0" font-size="13.8" text-anchor="middle" font-weight="normal" fill="#231f20" >20</text>
<line x1="278.95" y1="722.20" x2="278.95" y2="726.40" stroke="#000" stroke-width="1.3" />
<text x="278.9" y="739.0" font-size="13.8" text-anchor="middle" font-weight="normal" fill="#231f20" >30</text>
<text transform="translate(13.2,634) rotate(-90)" font-size="13.8" text-anchor="middle" fill="#231f20">No. of cells (× 1,000)</text>
<text x="170.5" y="758.8" font-size="13.8" text-anchor="middle" font-weight="normal" fill="#231f20" >No. of mtDNA mutations per cell</text>
<text x="315.5" y="611.8" font-size="22.5" text-anchor="start" font-weight="bold" fill="#000" style="stroke:#000;stroke-width:0.55px">f</text>
<text x="504.2" y="619.2" font-size="13.8" text-anchor="middle" font-weight="normal" fill="#231f20" >mtDNA mutation-based cell–cell network</text>
<path d="M0 0m3962 6465h6m240 263h6m98-119h6m-472 87h6m524 220h6m-58-273h6m-215 315h6m-198-419h6m373 139h6m-613-48h6m275 264h6m-234 104h6m530-88h6m240-128h6m-58-99h6m-230-153h6m-195 596h6m293-462h6m-169 43h6m-179 215h6m-2-503h6m-59 754h6m526-394h6m-621-390h6m44 57h6m309 378h6m-459 186h6m56 32h6m425-212h6m-449-198h6m513 127h6m-236 37h6m95 209h6m-580-192h6m784-117h6m-345 152h6m-254-442h6m-231 299h6m439-357h6m169 649h6m-567-276h6m627-186h6m-248 239h6m-38-50h6m234 70h6m-258 51h6m-376 6h6m117-157h6m168-346h6m-423 249h6m570-234h6m85 207h6m-159 83h6m59-266h6m-76 157h6m-263 120h6m-73-93h6m435 111h6m242 230h6m-620-153h6m518 109h6m-233 65h6m-402-365h6m247 465h6m-387-293h6m726-119h6m1 283h6m-679-212h6m733 143h6m-596-196h6m531 182h6m-129 324h6m-252-35h6m-252-672h6m388 446h6m-26-27h6m203-111h6m-606-108h6m161 264h6m358-216h6m-212-133h6m-231 394h6m229-72h6m308-12h6m-490-427h6m176 412h6m423-253h6m-318 328h6m-112-360h6m-475 117h6m254 266h6m181-487h6m-28-145h6m370 312h6m-467 351h6m131-661h6m-131 612h6m239-112h6m-31-320h6m-297 159h6m-86 224h6m2-240h6m402 247h6m-290 51h6m110-81h6m-34-184h6m137-43h6m167-99h6m-78 121h6m-84 501h6m-360-549h6m-187 165h6m-5 132h6m324-13h6m349-208h6m-499-59h6m465 495h6m116-396h6m-364-197h6m27 478h6m301-430h6m-817 326h6m657-76h6m-184 88h6m-44 47h6m-21-325h6m-17-61h6m379 326h6m-603-390h6m-229 83h6m868 88h6m-349 156h6m93-158h6m-204 439h6m-372-479h6m191-61h6m505 299h6m-209 34h6m-371-100h6m-110-168h6m301 3h6m-138-26h6m267-33h6m165 263h6m-453-270h6m442-14h6m-431 517h6m99-190h6m59 239h6m-78-36h6m-280-425h6m447 392h6m-386-489h6m207 47h6m170 198h6m-365-484h6m445 529h6m-79-331h6m-118 375h6m61-220h6m-394 349h6m98-57h6m208-346h6m219 217h6m-218-543h6m-115-1h6m182 668h6m106-279h6m0-348h6m-494 419h6m-23 235h6m-92-301h6m96 53h6m247-223h6m66 611h6m-38-667h6m194 206h6m-342-138h6m339-58h6m-275 374h6m348 35h6m-268-94h6m-84 366h6m-260-394h6m457-73h6m-1 32h6m-546 99h6m464 242h6m-51-609h6m34 419h6m-85 342h6m-24-556h6m-509-13h6m419-17h6m92-35h6m-58 107h6m61-14h6m425-15h6m-285 147h6m145-248h6m8 150h6m-237 118h6m52-226h6m-163 141h6m-28-228h6m-109 20h6m131 126h6m-45-123h6m164-93h6m-167 219h6m90-265h6m-135 145h6m-229 43h6m577 264h6m-395 94h6m199-297h6m-173-163h6m109-153h6m-305 227h6m441 22h6m-188 81h6m-139-61h6m506 295h6m-330 57h6m-171-455h6m-313 214h6m71 361h6m469-347h6m-226 249h6m-112-346h6m9 318h6m212-48h6m-177 91h6m-335-90h6m81-311h6m303-24h6m-156-142h6m275 359h6m-88 59h6m104 39h6m-362-10h6m37 191h6m-219-438h6m341 270h6m-360-321h6m565 320h6m-541-287h6m355 404h6m-427-153h6m131-507h6m341 115h6m141 101h6m-253 298h6m-310 209h6m198-51h6m-80-396h6m178-321h6m-371 477h6m395 33h6m162 212h6m-349-535h6m194-158h6m107 231h6m-19 263h6m-185-97h6m-282 83h6m228 263h6m-248-365h6m682-272h6m-430 152h6m-497-53h6m220 122h6m351-178h6m116 214h6m-487 226h6m120 109h6m510-252h6m-36-56h6m-523-242h6m-100 236h6m442-282h6m-394-34h6m-80 104h6m654 354h6m-234-19h6m-462 197h6m69-542h6m150-167h6m135 264h6m-270-212h6m-122 474h6m338-166h6m-105 244h6m-56-345h6m383 187h6m-66 90h6m-141-362h6m72-175h6m16 237h6m-103 109h6m37 163h6m-69 85h6m28-96h6m-75-161h6m-174-49h6m-146-52h6m381-97h6m-330 201h6m278-228h6m60 504h6m-223 50h6m-95-470h6m194 32h6m23-12h6m-311 108h6m516 66h6m-184-149h6m61 359h6m-104-123h6m-101 352h6m59-244h6m-191-319h6m255 99h6m-196-69h6m40-49h6m241 184h6m192-123h6m-332 132h6m-26-240h6m48 168h6m-299-107h6m159 66h6m-126-90h6m76-30h6m142 369h6m55-232h6m-25 125h6m132-116h6m120-59h6m-282 426h6m-233-441h6m184 105h6m-381 107h6m368-196h6m47 89h6m-36 114h6m-84-134h6m-423 16h6m613-29h6m-399-41h6m361 85h6m14-91h6m-117 290h6m-385-22h6m339 48h6m-298-18h6m323-84h6m-111-331h6m177 168h6m-58 102h6m-369-317h6m524 8h6m-453 465h6m185-241h6m69-128h6m227-147h6m-406 497h6m66-376h6m84-241h6m-358 485h6m48-509h6m-369 545h6m906 140h6m-228-233h6m-270 262h6m125-186h6m-403-54h6m367-95h6m263 250h6m-479-281h6m527 123h6m-230 1h6m83-238h6m-130 83h6m358 23h6m-177 391h6m-485-162h6m186 76h6m-224-145h6m-228-117h6m483 248h6m-34 17h6m-212-343h6m459 35h6m-529 75h6m406-18h6m128 227h6m-119-153h6m-249 132h6m-117-318h6m155-8h6m106 300h6m14-69h6m-106 303h6m211-404h6m207-89h6m-408 210h6m-313-189h6m-30-10h6m316 10h6m-451 361h6m628-382h6m-173-293h6m-387 542h6m212 164h6m-341-300h6m392 247h6m-316-297h6m467 500h6m146-803h6m-337 48h6m102 152h6m185-201h6m-469 703h6m291-284h6m-36-56h6m-140 160h6m19 59h6m351-140h6m-511-203h6m309 149h6m-488-277h6m207 538h6m26-95h6m-192-139h6m86 23h6m116-421h6m211 517h6m41-170h6m252-7h6m-385-181h6m203 70h6m-148 200h6m-333-108h6m350 174h6m9-171h6m-384-254h6m555 257h6m-176 235h6m-446-147h6m140 219h6m-148-257h6m498 144h6m-448-20h6m246-120h6m194-10h6m-86-26h6m-236-112h6m68-284h6m-103 186h6m85 397h6m-277 174h6m575-739h6m66 63h6m-771 392h6m621 168h6m63-579h6m-568-5h6m738 360h6m-765-94h6m350 176h6m-47-66h6m327-104h6m-74 33h6m-257 58h6m-118 135h6m64-203h6m345 224h6m-234 72h6m13-399h6m-217 447h6m-5-526h6m115-7h6m-137 144h6m169-125h6m-89 11h6m46 144h6m112-238h6m-81 74h6m-74 245h6m-282 38h6m252 274h6m-6-126h6m-36-88h6m-252-67h6m328 116h6m-260-448h6m482 201h6m-180-177h6m-176 57h6m58 12h6m-178-88h6m21-94h6m100 291h6m-21-126h6m233 334h6m-593-282h6m480 463h6m-121-560h6m-319 291h6m30-217h6m292 253h6m-36-177h6m-47 251h6m220-27h6m49-229h6m42-14h6m-336 44h6m-223-74h6m460 238h6m-102-464h6m-251 294h6m253-211h6m-298 97h6m-140 314h6m513-305h6m73 238h6m-416-344h6m107 225h6m-161 270h6m122-264h6m121-156h6m-238-138h6m139 508h6m100-4h6m-120 82h6m-49 186h6m397-591h6m-541-176h6m-126 403h6m196 148h6m116-22h6m-26 208h6m22-517h6m128 366h6m-704-124h6m609-124h6m-172 287h6m-329-169h6m327 126h6m10-414h6m189 126h6m-565-74h6m599 175h6m-399-358h6m-48 404h6m258-284h6m-19 311h6m-237 24h6m433-371h6m-242 425h6m-1 56h6m-20-17h6m306-169h6m-205-318h6m-263 28h6m389 299h6m-554 199h6m331-311h6m2-232h6m240 286h6m-113-68h6m-11 140h6m-312-406h6m92 180h6m21-7h6m-299 402h6m605-150h6m-543-88h6m171 259h6m239-563h6m-361 221h6m200 93h6m350-95h6m-29 185h6m-82-105h6m-579 242h6m209-103h6m37-397h6m204 174h6m50-44h6m-201 493h6m116-443h6m-288-179h6m-186 582h6m195-496h6m156-74h6m173 28h6m-129 375h6m-269 35h6m170-30h6m-46-388h6m313 153h6m-234 15h6m-141 385h6m171-219h6m-55-3h6m-47-232h6m-363 118h6m691 0h6m-354-198h6m-355 47h6m666-31h6m-761 343h6m379-481h6m-337 437h6m396 170h6m-426-415h6m631-28h6m-38 107h6m-214-303h6m128 477h6m83 72h6m-445-312h6m443 382h6m-249-411h6m-222 255h6m178-160h6m206 114h6m-404-183h6m543-92h6m-261-99h6m-83-22h6m76 355h6m-36 65h6m99-191h6m-563 184h6m618-180h6m-494 277h6m389-177h6m-51 18h6m-401 259h6m455-704h6m-139 134h6m29 595h6m97-262h6m-112 155h6m94-256h6m-227 412h6m133-478h6m-85 96h6m-265-132h6m698 107h6m-410 50h6m-49-299h6m-39 527h6m-215-119h6m-83-153h6m658-203h6m-692 352h6m327-291h6m-321 536h6m418-133h6m-206-367h6m159 1h6m53 96h6m-408-122h6m159-234h6m166 397h6m-517 13h6m805-36h6m-370-73h6m-169-165h6m494 5h6m-620 385h6m504-323h6m-163 525h6m-550-324h6m244 286h6m249-308h6m-16-163h6m-322 340h6m480-169h6m-412 336h6m357-606h6m-481 118h6m572-15h6m-168 493h6m185-234h6m-548-120h6m351-192h6m-567 233h6m647 38h6m-6 121h6m134-175h6m94 30h6m-722-208h6m132 113h6m457-148h6m-552 88h6m19 540h6m178-521h6m-2 21h6m-317 45h6m365-277h6m158 399h6m-676-163h6m815-77h6m-196 310h6m57-278h6m-66-94h6m-503 92h6m508 355h6m267-253h6m-458-248h6m317 565h6m-595-367h6m-4-215h6m274 483h6m-416-182h6m33-35h6m582 146h6m-307 81h6m20 63h6m37-152h6m-31 171h6m-149 177h6m-26-127h6m461-316h6m-746-143h6m588-48h6m-24-90h6m-266 488h6m338 111h6m-112-201h6m-277-435h6m-99 13h6m284 136h6m50 209h6m320-67h6m-369 126h6m-6 68h6m-311-91h6m266-229h6m-411 8h6m443 298h6m-24-385h6m-359 84h6m624 277h6m-180-350h6m-284 450h6m-259-69h6m534-379h6m-408 527h6m164-619h6m-189 421h6m353 358h6m122-651h6m-472 87h6m-51 19h6m9 237h6m498-465h6m-135 184h6m-41-242h6m128 502h6m-496-21h6m41 59h6m262-296h6m-191 467h6m154-271h6m311-218h6m57-64h6m58 329h6m-694-419h6m578 283h6m-598 20h6m252-289h6m-350 389h6m602 51h6m-298 161h6m275-593h6m-522 25h6m287 565h6m148-427h6m-526 143h6m263-255h6m-275 374h6m523-441h6m-599 240h6m470-41h6m375 173h6m-782-182h6m-72 209h6m514-360h6m-427 113h6m534 132h6m-88-98h6m-159 208h6m-79-589h6m169 311h6m-491-37h6m219 396h6m268-88h6m-135 49h6m137-318h6m-156-57h6m-447 70h6m36 283h6m170-378h6m27 107h6m83-40h6m-279 143h6m215-238h6m-93 656h6m508-124h6m-109 85h6m-419-530h6m147 373h6m-203 86h6m194-466h6m-197 418h6m269-228h6m47 91h6m-231-296h6m430-1h6m-290 372h6m166-113h6m-159-135h6m195 281h6m-139-167h6m-214 180h6m225-503h6m-95 448h6m-273-449h6m-60 515h6m351-133h6m131 122h6m-137-478h6m141 226h6m145 291h6m-128-214h6m-98 84h6m-585 53h6m621-179h6m-80-180h6m-561 268h6m514-163h6m144 368h6m-593-199h6m479-189h6m230 144h6m-153 50h6m-157-44h6m280-25h6m-265 289h6m-273 13h6m-112-603h6m-39 313h6m515-148h6m-434 366h6m652-96h6m-393-187h6m-222-129h6m10 544h6m36-196h6m236-66h6m-19 31h6m209-406h6m-201-103h6m-246 268h6m351 151h6m-270 315h6m235-213h6m-157-69h6m-274-348h6m206 541h6m163-397h6m-276-99h6m501 104h6m-323-15h6m-184 22h6m293 103h6m-227 287h6m-138-413h6m157 130h6m253-189h6m-64 514h6m-287-59h6m158-85h6m-113-410h6m129 186h6m-106-328h6m112 195h6m-503 180h6m139-122h6m-196-18h6m437-206h6m291 365h6m-618-112h6m378 383h6m-45-195h6m-303-363h6m87 651h6m164-444h6m201-1h6m-61 0h6m-188 92h6m62-337h6m-66 245h6m-509 122h6m457-399h6m-466 204h6m378-40h6m101 49h6m-34 141h6m-245 159h6m-102-22h6m197-500h6m569 164h6m-661 84h6m171 227h6m352-276h6m-343-102h6m144 201h6m-380 201h6m222-240h6m150 150h6m-100 38h6m-283 15h6m138 178h6m-90-36h6m-103-491h6m395 271h6m-146-49h6m-39-247h6m-49 460h6m18-416h6m-154 60h6m-47 118h6m290-210h6m-40 23h6m36 409h6m89 69h6m-123-330h6m14 38h6m254-132h6m-509 81h6m251 286h6m-146-292h6m-94-202h6m-5 497h6m268-505h6m-121 630h6m275-266h6m-804-90h6m575-260h6m-71 180h6m30 209h6m-114-489h6m-24 618h6m-22-19h6m267-115h6m-153 261h6m-81-550h6m-40-81h6m-140 133h6m-96 168h6m-122 3h6m136-164h6m439 359h6m128-642h6m-88 134h6m-6 266h6m-172-13h6m-449-113h6m278 392h6m-63-585h6m412 419h6m-240 408h6m-194-763h6m-77 322h6m264 133h6m-256 139h6m510-639h6m-163 110h6m-144 325h6m9 140h6m36-320h6m29 145h6m284-80h6m-78-139h6m-231-199h6m-356 118h6m356 169h6m-8 20h6m-50-188h6m-31 386h6m-191 9h6m113 93h6m-57 118h6m476-353h6m-393 267h6m140-620h6m66 348h6m-235-41h6m-130 265h6m201-381h6m-70 355h6m-14-247h6m-213 303h6m628-194h6m-110-278h6m-226-167h6m9 321h6m38 5h6m-136-202h6m-65 530h6m-362-242h6m438-356h6m233 429h6m-637-16h6m309-432h6m265 379h6m-245-127h6m-206-152h6m-130 123h6m142-58h6m314 165h6m-93 330h6m-41-365h6m176-176h6m-168 135h6m201 222h6m-463-355h6m112-92h6m-55 83h6m-36 610h6m132-35h6m255-299h6m-249-356h6m151 216h6m-496 75h6m607 62h6m-92-231h6m-45-208h6m-169 429h6m96-51h6m70-168h6m-432 37h6m226 56h6m-9 234h6m-21-414h6m277 49h6m-678 69h6m265 31h6m243-110h6m68-97h6m-169 192h6m75 276h6m40-348h6m-393 339h6m222-429h6m-128 456h6m340-167h6m-43-33h6m-235-231h6m49 648h6m-122-620h6m195 140h6m183 85h6m-278-59h6m284 96h6m-171 105h6m-485-32h6m591-432h6m-26 24h6m-467 49h6m644 204h6m-479-191h6m-144 43h6m369 86h6m-120-120h6m-288-137h6m-62 73h6m595 322h6m-441-150h6m-160 48h6m153 264h6m273-134h6m-351 94h6m89 45h6m224 140h6m-37-279h6m-8-163h6m-289-120h6m578 331h6m-350-145h6m291 89h6m-285-538h6m-171 838h6m99-454h6m292-268h6m-319 469h6m-361-117h6m72 269h6m-23-393h6m113-40h6m259 24h6m-571 329h6m175-160h6m207-150h6m314-228h6m-587 194h6m380-26h6m283 266h6m-344-37h6m20 165h6m-190-45h6m434-303h6m-341 476h6m-184-531h6m29-154h6m49 73h6m235 535h6m-207-362h6m-275 211h6m313 110h6m-323-217h6m283 453h6m-60-614h6m369-57h6m-558 113h6m302 39h6m421-11h6m-167 99h6m-243 171h6m4 80h6m39-138h6m24-130h6m-333 189h6m15-574h6m234 137h6m-48 286h6m-304-42h6m413-321h6m-199 210h6m50-194h6m91 317h6m4-184h6m91 613h6m-176-355h6m-511-64h6m334 325h6m94-480h6m54 236h6m-314-363h6m338 240h6m128 54h6m-365-229h6m333 319h6m-108 147h6m-3-278h6m-27-474h6m45 697h6m82-59h6m-643-156h6m378-91h6m119 32h6m-69 466h6m64-654h6m208 373h6m-6-198h6m-277 71h6m-17-302h6m-173 96h6m-216 294h6m585-9h6m-46-324h6m-247 59h6m121-34h6m-189 133h6m158 454h6m289-285h6m-79-93h6m-487-308h6m-49 412h6m301-136h6m48-66h6m-407 18h6m630-30h6m-219-26h6m160 59h6m-205 495h6m33-169h6m109-427h6m-262-201h6m-156 595h6m343 128h6m-266-555h6m222 423h6m113 32h6m-428-360h6m-185 197h6m413-126h6m34 353h6m-155-186h6m-126-218h6m354 308h6m-606-338h6m573-179h6m4 3h6m17 505h6m38-207h6m-439-129h6m376-183h6m-113 386h6m92 92h6m-113-327h6m-170 94h6m80 442h6m48-145h6m125-162h6m-248-110h6m-339 30h6m453-312h6m-464 230h6m427 411h6m-248-425h6m197 148h6m-10-203h6m-65 41h6m234 20h6m-47 14h6m-452-47h6m307 168h6m-386-90h6m206-264h6m166 535h6m-134 40h6m252-104h6m-444-12h6m692-157h6m-335 242h6m-429 53h6m419-58h6m179-281h6m-584-106h6m310-125h6m272 443h6m-280-343h6m-198-98h6m28 116h6m29 64h6m-420 6h6m291-115h6m93 659h6m141-585h6m-127 385h6m-217-72h6m787-209h6m-433 440h6m251-580h6m-211 167h6m-93 50h6m306-116h6m-295 41h6m158 138h6m60-157h6m-84 381h6m-637-131h6m511-292h6m-58 175h6m-353 85h6m159 289h6m383-468h6m-675 211h6m405-129h6m-105-248h6m353-101h6m-399 153h6m128-162h6m-368 130h6m562-76h6m-252-178h6m-140 242h6m214 528h6m71-471h6m-85 208h6m-191-419h6m-235 311h6m116 96h6m367-183h6m-47-109h6m2 385h6m-637-61h6m583-133h6m-198-288h6m234 805h6m15-151h6m-115-258h6m128-363h6m-102 476h6m100-298h6m-403 220h6m283-244h6m-255 26h6m196 503h6m129-545h6m-334-15h6m199 108h6m342-170h6m-210 172h6m-130 175h6m-266-203h6m164-188h6m-108-67h6m248 822h6m-20-446h6m-437-171h6m617 35h6m-108 121h6m251-108h6m-206 28h6m-377-83h6m446 105h6m-128 6h6m-555 98h6m89-84h6m-103 303h6m733-248h6m12-20h6m-315-45h6m-531 51h6m489 98h6m210-247h6m-143 435h6m-413-582h6m470 617h6m-312-477h6m85 128h6m106-203h6m-22 44h6m276 128h6m-702 259h6m369-117h6m-291-429h6m211 134h6m-158 4h6m288 320h6m61-225h6m231 275h6m-315 48h6m-46-137h6m-211-264h6m118 17h6m-398 41h6m-2 263h6m314-591h6m294 23h6m-413 297h6m-176 28h6m289 334h6m112-546h6m-53 560h6m-358-560h6m173-2h6m132 37h6m7 471h6m-150-271h6m78-102h6m-79 376h6m207-287h6m-238-31h6m-114 42h6m385-377h6m-463 268h6m58 402h6m300 34h6m-56-282h6m35-327h6m-266 269h6m258 400h6m-127-486h6m246-21h6m-568 326h6m235 137h6m254-405h6m29 388h6m-181-515h6m-58 650h6m45-659h6m469 386h6m-646 108h6m17-1h6m30 62h6m119 16h6m-124-125h6m131 34h6m275-64h6m-238-368h6m-301 143h6m-88-18h6m85 198h6m74-319h6m253-186h6m87 715h6m-301-15h6m165-343h6m192 289h6m-205-231h6m-28 344h6m-98-685h6m147 653h6m238-379h6m-289-146h6m-235-23h6m208 438h6m-27 128h6m17-68h6m18-86h6m140-27h6m-302-277h6m247 443h6m143-349h6m-201-179h6m76 530h6m-271-534h6m293 333h6m-471-303h6m-14 64h6m-88-71h6m159 47h6m343-43h6m-368 91h6m294 209h6m-138-176h6m424-5h6m-274 294h6m155-68h6m-628-227h6m418-235h6m29-62h6m-7 348h6m-599-31h6m623 20h6m-559 109h6m476-39h6m-92 156h6m172-206h6m-208-55h6m215-134h6m-189-97h6m-223 197h6m83-40h6m-71 358h6m393-392h6m-264 165h6m58 218h6m-304-268h6m230 320h6m79-507h6m-280 6h6m-103-17h6m694 426h6m-369-370h6m116 231h6m-59-121h6m-242-240h6m76 555h6m177 82h6m30-594h6m-35-81h6m-586 161h6m550 271h6m-365-280h6m366 536h6m-229-590h6m-199 175h6m341 62h6m126 194h6m-101-103h6m-148-229h6m160 33h6m-286 398h6m132-228h6m104 161h6m171-431h6m-631 407h6m309-72h6m140 57h6m-66 51h6m-477-329h6m581-151h6m-572 84h6m568 344h6m-252-236h6m220-211h6m-383-93h6m607 316h6m-61 179h6m-597-411h6m-76 618h6m-74-511h6m21 391h6m617-142h6m-154-146h6m-300 339h6m222-242h6m132-76h6m-118-122h6m28 174h6m-639 41h6m653 323h6m-402-199h6m77 19h6m-124-242h6m-129 56h6m219 264h6m84-37h6m-175-52h6m462-306h6m-582 174h6m150-219h6m387-96h6m-536 449h6m155 115h6m430-509h6m-443 503h6m158-680h6m-91 734h6m-36-149h6m-217-40h6m456-128h6m15-373h6m-16 462h6m-328 223h6m267-407h6m198 167h6m-472 191h6m557-33h6m-164-254h6m-1 441h6m130-460h6m-733 189h6m159-332h6m349-33h6m-80 241h6m142-214h6m-41 193h6m-46-86h6m-413-32h6m243 303h6m268-134h6m-307 294h6m-225-469h6m484 192h6m-730-286h6m428 133h6m196 212h6m139-318h6m-271 42h6m176 35h6m-54 268h6m-81-229h6m-565 60h6m857-50h6m59-43h6m-493 568h6m92-887h6m56 442h6m-164-60h6m294 271h6m-166-420h6m12 160h6m-124 209h6m-151-350h6m305-152h6m-94 249h6m360 190h6m-530 97h6m-280-65h6m241-334h6m-163 386h6m340-120h6m-133 68h6m367-341h6m-709-52h6m324 51h6m-331-84h6m264 614h6m-174-251h6m483-262h6m-18 169h6m-102-180h6m-464 289h6m413-37h6m156 20h6m138-125h6m-204-83h6m-287 37h6m59-12h6m-147-169h6m-50 518h6m468-312h6m-569 218h6m452-356h6m-107 170h6m103 45h6m-358-361h6m81 675h6m-187 36h6m48-159h6m507-110h6m-160 52h6m-473-51h6m307 144h6m-197 148h6m188-290h6m-81 179h6m138 110h6m-150-532h6m180-49h6m-175 72h6m178 356h6m124-67h6m-112-247h6m-139-38h6m251 82h6m-86 122h6m-29-263h6m-429 26h6m384 101h6m-379 151h6m360-17h6m-136 72h6m163 223h6m-63-150h6m-16-183h6m20-173h6m-279 33h6m-317 197h6m444 103h6m-316-294h6m395-137h6m-426 130h6m406 160h6m-2-188h6m-251 18h6m208-165h6m256 136h6m-137-181h6m97 98h6m-407 382h6m35 14h6m187-278h6m-121 199h6m21-195h6m73 193h6m-232 147h6m244-404h6m-150-87h6m0 506h6m62-529h6m160-131h6m-493 98h6m221-114h6m-189 288h6m264 36h6m233 198h6m-136-146h6m98 116h6m-45 192h6m-138-488h6m-321 197h6m-53 47h6m586 171h6m-609-186h6m333-121h6m59-269h6m-350 559h6m-88 93h6m84-94h6m701-239h6m-450-124h6m-103 617h6m-301-273h6m159 90h6m25-394h6m-113-123h6m324 217h6m-548-128h6m240-87h6m-55-62h6m279 241h6m186 136h6m-374-213h6m7 513h6m206-369h6m-446-73h6m152 297h6m455-296h6m-500 11h6m478-5h6m-646 91h6m82 232h6m229-397h6m8 44h6m184 184h6m12-134h6m-282 275h6m392-4h6m-57-254h6m-672 225h6m84-180h6m279-201h6m-216 350h6m355 23h6m-391-42h6m320-50h6m-34-411h6m-255 436h6m283 87h6m-148-486h6m-56-31h6m-29 115h6m-60 212h6m247-404h6m223 537h6m-605 13h6m475-269h6m44-46h6m-300 569h6m260-363h6m-259-337h6m-177 425h6m166 229h6m2-46h6m-75-143h6m-51 55h6m237-497h6m295 327h6m-731 62h6m457-34h6m42 123h6m34-236h6m-241 368h6m88-324h6m-5-343h6m-366 442h6m658 15h6m-636-512h6m-2 170h6m481-1h6m133 63h6m-614-140h6m47 514h6m638-13h6m-321-273h6m78 232h6m3-378h6m-490 321h6m101-177h6m-81 96h6m265 340h6m141-252h6m60-268h6m-623-58h6m105 185h6m105 356h6m310-298h6m-422-55h6m406 221h6m-156 13h6m10-82h6m-44 74h6m-262-149h6m-71-47h6m378 203h6m-225 79h6m-141-177h6m441 21h6m-426-227h6m596-52h6m-306-205h6m-20 136h6m-154 133h6m387 118h6m-552-48h6m396 349h6m246-545h6m-434 127h6m306 355h6m-467-250h6m-112-84h6m534 277h6m-532 157h6m485-473h6m-519 28h6m348-138h6m-80 383h6m238-353h6m-159-217h6m-276 247h6m309-134h6m-80 231h6m-118-228h6m51 548h6m172-187h6m19-324h6m-111 229h6m41 397h6m-6-42h6m92-258h6m-409-179h6m-94-100h6m354 183h6m342-24h6m-768-224h6m369 156h6m-8 510h6m224-184h6m146-329h6m-270-255h6m-594 384h6m175 182h6m418-511h6m-470 223h6m24 49h6m339 82h6m4 96h6m-58-182h6m-482-153h6m191 270h6m-93-264h6m72 91h6m-87-116h6m102 18h6m203-1h6m263 243h6m-266 236h6m236-257h6m-356-384h6m-36 570h6m229-262h6m192 270h6m-315-321h6m-34 272h6m120-282h6m-314-85h6m440 9h6m99-96h6m-235 552h6m259-179h6m-592-254h6m440 228h6m-437-72h6m341 60h6m-109-153h6m216-157h6m-311 131h6m-5 286h6m-321-504h6m438 157h6m-245 100h6m361 202h6m-458-257h6m322 192h6m26-121h6m-220-120h6m251 457h6m-42-468h6m-16-17h6m-72 63h6m-348 456h6m478-445h6m-1 115h6m-148 117h6m-235-450h6m-159 324h6m355 302h6m-140-19h6m270-225h6m-96 241h6m38-446h6m-291 533h6m72-458h6m-133-174h6m329 260h6m164 36h6m-56-257h6m-581 221h6m182 323h6m-33-130h6m557 130h6m-477-412h6m-56 2h6m188 86h6m-138-172h6m216 169h6m147 118h6m-257 213h6m56-196h6m180-329h6m-189 69h6m3-10h6m-323 357h6m442-364h6m-658 260h6m519-132h6m61 106h6m-180 290h6m-358-125h6m300-545h6m156 630h6m80-119h6m-427-265h6m569 174h6m-211-267h6m-132 352h6m-142-335h6m-13-125h6m150 672h6m-20-506h6m-319 108h6m329 162h6m-316-462h6m150 86h6m159-84h6m167 454h6m-166-168h6m242 80h6m-471 119h6m-112-234h6m356 121h6m-351 18h6m472 249h6m33-318h6m-540 225h6m459-147h6m-87-59h6m-135-108h6m-249 103h6m71-206h6m-112 192h6m211-411h6m73 52h6m-4 458h6m-383-222h6m368 30h6m-126 257h6m-339-332h6m429 112h6m-405 179h6m183-386h6m385 275h6m12 143h6m-172-181h6m-177-274h6m-9 99h6m-244 252h6m606-143h6m6-177h6m-68 350h6m-85-163h6m-365 68h6m433 45h6m-61 260h6m137-366h6m-60-85h6m-127 293h6m54-316h6m-6-16h6m-321 90h6m354 239h6m-190-211h6m-327 93h6m30-81h6m679 259h6m-498-382h6m260 241h6m-73 8h6m46-286h6m-60 539h6m62-651h6m-544 255h6m274 300h6m-81 114h6m187-615h6m-7 552h6m67-259h6m-16-195h6m118 293h6m-511-71h6m360 14h6m-259-249h6m-132 258h6m71-188h6m393-28h6m-91-68h6m-32 327h6m226-207h6m-225-174h6m-52-6h6m14 50h6m-176 36h6m114-159h6m40 250h6m108-34h6m-63-197h6m-19 784h6m-46-501h6m87 286h6m-317-74h6m-83 282h6m189-596h6m-95 527h6m277-323h6m-524-294h6m609 268h6m-143-49h6m-151 378h6m153-183h6m-86-431h6m-149 497h6m-33 50h6m-227-495h6m-19 34h6m70 227h6m431 169h6m-96-102h6m100-195h6m73-165h6m-217 116h6m-29 157h6m86 275h6m-109-590h6m223 350h6m-251-309h6m-226 426h6m460-457h6m-41 41h6m-98-168h6m-242 238h6m121 224h6m-335-94h6m543 240h6m-205-219h6m-299 28h6m354-277h6m-179 2h6m-269 193h6m67 130h6m-14-204h6m263-219h6m38 435h6m136 154h6m-283 72h6m356-364h6m-222 143h6m31 82h6m-120 14h6m-346-276h6m409-165h6m61 300h6m-261-159h6m138 43h6m-411-162h6m380-15h6m176 243h6m-207-285h6m-4 140h6m-115-48h6m160 326h6m71-271h6m-41 3h6m93-51h6m-415-129h6m212 41h6m-247 245h6m-53-89h6m629 226h6m-688-158h6m437 227h6m-97-461h6m-232 158h6m383-186h6m13 154h6m69 283h6m-596-289h6m367 214h6m-22-22h6m-68 131h6m257-233h6m-358-266h6m-77 667h6m-112-299h6m494 97h6m-254 117h6m-92-468h6m-117 275h6m336 293h6m-39-661h6m346 402h6m-178 153h6m-32-504h6m-237 512h6m151-544h6m-305 746h6m292-112h6m-350-741h6m-238 425h6m437-244h6m342 329h6m88-134h6m-273-154h6m72 298h6m6-313h6m-375 369h6m147-320h6m18 453h6m-348-509h6m189 138h6m-93 242h6m378-98h6m-556 141h6m762-51h6m-464-409h6m-237-14h6m318 306h6m324-93h6m-346-42h6m3-125h6m114 87h6m-277-9h6m533 66h6m-645 432h6m107-137h6m-286-192h6m415-337h6m-461 192h6m369 394h6m-354-252h6m409-252h6m145 225h6m-139 84h6m-125 109h6m70-311h6m384-82h6m-387 666h6m-124-616h6m173-275h6m-34 215h6m118 479h6m-275-78h6m-51-327h6m-341 278h6m688 185h6m-118-17h6m-542-469h6m124-101h6m399 222h6m-15-59h6m-153 257h6m144 97h6m-38-337h6m65 322h6m-126-525h6m-118 473h6m60-628h6m-51 105h6m187 409h6m52-455h6m-144 437h6m-404 131h6m408-320h6m-314-151h6m684 301h6m-527 125h6m-169 119h6m451 1h6m-177-187h6m97-212h6m-259 622h6m-236-395h6m545-322h6m-95 387h6m-413-71h6m408-380h6m-487 102h6m362 342h6m-229 59h6m40-41h6m-312-212h6m566-115h6m-487 321h6m665-242h6m-442-133h6m248 335h6m-477-61h6m304 74h6m-294-282h6m293 412h6m-23-580h6m-11 150h6m-168 527h6m-146-148h6m623-445h6m-379-106h6m33 224h6m-222-280h6m53 92h6m389 412h6m-202-88h6m145-48h6m5 145h6m-290-365h6m-176-7h6m-109 471h6m669-92h6m-242-200h6m390 46h6m-591 338h6m175-469h6m-368 180h6m-124 134h6m451-261h6m-371 139h6m541 300h6m-746-300h6m534-377h6m-241 588h6m309-520h6m-467-3h6m-26 413h6m515-52h6m137-196h6m-219-73h6m107-92h6m-183 617h6m-100-175h6m-317-143h6m604-158h6m-234 14h6m23 243h6m-367 47h6m419-54h6m-387-246h6m264-76h6m-39 572h6m74-409h6m42-256h6m204 359h6m-395-415h6m-261 142h6m327-168h6m50 404h6m-9 135h6m1-132h6m193 170h6m-682-186h6m369-90h6m-45-162h6m-273 276h6m270-386h6m98 95h6m-175 454h6m280 169h6m199-393h6m-268-235h6m-451-64h6m429 230h6m37-176h6m148 384h6m-480 0h6m-50-144h6m247-30h6m-111-112h6m-246 263h6m168 186h6m257-533h6m-429 277h6m323-473h6m45 336h6m44-92h6m-60 480h6m-54-466h6m113 381h6m196 134h6m-475-123h6m-286-4h6m562-589h6m-208 99h6m550 408h6m-272 30h6m187 59h6m-258-16h6m-340 198h6m198-76h6m67-196h6m-322 117h6m30-68h6m-88-166h6m-51 102h6m444-5h6m-240-356h6m190 150h6m-92 264h6m224-181h6m145-142h6m-298 541h6m-32-524h6m21-158h6m-325 57h6m177-88h6m-233 121h6m552 275h6m-553-94h6m275-96h6m-6-102h6m-227 98h6m233 211h6m-199-324h6m181 319h6m299-88h6m-553-168h6m119 362h6m101 115h6m-383-219h6m533-133h6m-110 92h6m-42 51h6m56 8h6m-314 134h6m298-40h6m-20-433h6m-303 61h6m475 175h6m-683-120h6m163 404h6m710-229h6m-442-340h6m92 78h6m-388 621h6m541-501h6m-711 27h6m584 76h6m-25-139h6m-380 319h6m429-539h6m131 352h6m-215 246h6m-75-424h6m-331 459h6m189 28h6m-290-427h6m285 343h6m185-380h6m0 460h6m-187-127h6m95-138h6m63-62h6m-628 156h6m685-348h6m-498-176h6m345 596h6m-116-309h6m12-232h6m-25 252h6m-145-31h6m-80 261h6m243-279h6m-31 500h6m248-701h6m-5 165h6m230 203h6m-388-28h6m100 301h6m-173-9h6m95-155h6m145 7h6m-489-258h6m409 249h6m69-296h6m-424 379h6m244-232h6m94 289h6m-387-440h6m233 180h6m59-48h6m-232-165h6m339 147h6m-25-51h6m43-36h6m-619 227h6m319-291h6m11-49h6m115 371h6m-318-379h6m317 619h6m51-258h6m-556 113h6m386-48h6m72 229h6m-195-80h6m-159-391h6m-4-70h6m530-39h6m-97 484h6m-228-421h6m54 436h6m-174-76h6m18-510h6m85 167h6m-226-9h6m546-48h6m-525 456h6m518-83h6m-371-76h6m40-29h6m38-325h6m56 36h6m-295-20h6m204 96h6m-61 152h6m-25 135h6m10-29h6m212 109h6m-136-476h6m-429-22h6m96-21h6m-255 293h6m666 194h6m64-187h6m-278 349h6m-47-520h6m471 64h6m-524 342h6m182-444h6m20-206h6m-76 548h6m-34-53h6m-268-109h6m282 219h6m140-66h6m-276 178h6m-174-312h6m255 223h6m122-372h6m-344 493h6m505-261h6m-178-283h6m-368-186h6m198 7h6m112 697h6m89-466h6m-445 273h6m57-499h6m164 572h6m188-224h6m-169 11h6m-225 265h6m-179-443h6m203 322h6m410 70h6m-138 81h6m-317-476h6m340 148h6m-451 303h6m144-17h6m408-472h6m-307 158h6m9 43h6m109-169h6m-14 245h6m-434-255h6m-30 225h6m-71 100h6m437 139h6m-246-384h6m488 21h6m-231-290h6m-459 410h6m609 131h6m-115-550h6m-88 419h6m-445-23h6m690-225h6m-36 235h6m-477 240h6m201-86h6m101-361h6m65 148h6m18 1h6m-611 172h6m718-222h6m-121-51h6m7 196h6m-649 88h6m40-142h6m439-478h6m-297 767h6m416 9h6m-62-604h6m5 427h6m-298-280h6m377 100h6m-108 92h6m-65-83h6m-90 211h6m288-74h6m-293-375h6m-83-102h6m72 506h6m-281 10h6m123-211h6m220 52h6m-9-315h6m-271 77h6m577 242h6m-280-169h6m119 298h6m-147 53h6m303-195h6m-827-157h6m653 330h6m-472 28h6m246 101h6m-205-482h6m443 388h6m-403 11h6m212 54h6m-287-518h6m-273 149h6m641 363h6m-411-312h6m314 59h6m166 233h6m-224-283h6m-313 302h6m506-507h6m-255 297h6m-404 104h6m102 178h6m281-431h6m-14 522h6m-343-336h6m60-69h6m267 47h6m-225-220h6m72 33h6m224-96h6m-503 72h6m101 335h6m391-25h6m-381 202h6m73-443h6m243-8h6m-32 257h6m-115 95h6m277-446h6m-135 364h6m-104-224h6m346-115h6m-519 436h6m129-327h6m438-3h6m-137 65h6m-480 184h6m220-290h6m-92-209h6m135 156h6m-284 552h6m497-530h6m-672 187h6m464-190h6m89 521h6m94-420h6m-156 98h6m262-104h6m-376 91h6m-516-156h6m715-99h6m-310-71h6m255 430h6m-78-200h6m46 160h6m-121-161h6m188 303h6m-251-85h6m11 254h6m-309-140h6m-82-367h6m130 369h6m363-89h6m-505-405h6m336 403h6m-87 137h6m470-427h6m-429-181h6m122 9h6m245 178h6m-382-211h6m-239 167h6m-126-49h6m754 390h6m-771-306h6m424-202h6m246 123h6m-541 335h6m277-165h6m-171-336h6m242 216h6m-176 437h6m291-299h6m-434-75h6m-74 254h6m436-108h6m-46 30h6m74 237h6m-389-33h6m41 64h6m-28-502h6m155 184h6m-240-412h6m163 105h6m41 288h6m-329-44h6m584 85h6m-560-326h6m-76 13h6m491 414h6m-336-476h6m-85-27h6m403 36h6m-307 161h6m426 89h6m-390 279h6m-127-443h6m259 223h6m-152-318h6m-246 293h6m558-120h6m-192-202h6m-357 430h6m578 10h6m-263-281h6m38 547h6m195-481h6m-201 72h6m-120-117h6m-24 289h6m55 61h6m-181-483h6m-90 194h6m-61 191h6m210 51h6m-167-282h6m152 409h6m292-281h6m-37 27h6m-233 304h6m129-665h6m-83 410h6m-85-128h6m-23 453h6m25-461h6m-177-225h6m206 1h6m134 329h6m-309-154h6m-3-93h6m298 80h6m-23 456h6m50-589h6m-56 199h6m-81 362h6m-27-128h6m-275-423h6m-16-3h6m75 109h6m148 348h6m172-184h6m143 269h6m-712-148h6m291-350h6m196 277h6m-664-1h6m527-236h6m188 7h6m207 140h6m-374 122h6m-325 82h6m5-312h6m308 335h6m19-317h6m66 72h6m-318 191h6m-81-203h6m353-152h6m-368 232h6m241-333h6m298 126h6m-597-17h6m376-74h6m112 226h6m-226 278h6m-385-14h6m586 77h6m-346-457h6m275 465h6m-300-459h6m40-90h6m427 275h6m-363-216h6m60 472h6m89-157h6m158-153h6m-346 188h6m17-7h6m-39-548h6m-232 382h6m348 240h6m-377 63h6m275-408h6m-190-4h6m512-66h6m-288 67h6m-48 259h6m-270-313h6m606 144h6m-659 76h6m243 151h6m-207-22h6m483 180h6m-214-302h6m-34-384h6m260 32h6m-94 372h6m-160-55h6m-234-374h6m73 211h6m-49 359h6m340-82h6m152-203h6m-156 164h6m-115 191h6m-35-511h6m298 217h6m-214-201h6m196 92h6m-275 175h6m-89-97h6m-8-76h6m298 203h6m-665 34h6m568-280h6m-133-69h6m-333 235h6m371 102h6m-40-308h6m-433 287h6m333-258h6m-53 108h6m-39-96h6m113-68h6m-95 40h6m127 194h6m-385 92h6m439 8h6m0 4h6m-283-255h6m359 313h6m-507-404h6m346-107h6m-153 492h6m200-363h6m0-152h6m-229 553h6m-130 133h6m51-548h6m427 194h6m-137-323h6m210 422h6m-156-118h6m-49-9h6m-139-82h6m-300-21h6m48 342h6m-344-138h6m682-63h6m120 125h6m-448-361h6m-271 363h6m115-233h6m394 264h6m-20-281h6m-64-209h6m0 337h6m-355-339h6m205 661h6m384-231h6m-243 174h6m92-554h6m-32 321h6m8 230h6m-566-300h6m25-64h6m114 516h6m260-278h6m23 114h6m212-440h6m-529 84h6m243-275h6m-183 190h6m260-59h6m65-52h6m310 398h6m-161-102h6m-457-109h6m128 92h6m187 333h6m-31 89h6m-468-187h6m62-517h6m6 72h6m319 309h6m-44-95h6m-36-359h6m-166 611h6m182-118h6m-249-315h6m-125 22h6m424 155h6m188 178h6m94-121h6m-2-36h6m-132-198h6m-542 71h6m-221 138h6m511-130h6m15 120h6m206 113h6m-164-17h6m-378-53h6m194-92h6m-26-70h6m42 104h6m-210 302h6m253-278h6m191 291h6m-73-192h6m77 210h6m-377 26h6m-108-369h6m224 85h6m-148-241h6m105 502h6m30-373h6m19-45h6m-133 377h6m443-414h6m-591-168h6m-54 28h6m413 207h6m-162 256h6m-257-178h6m137 356h6m372-341h6m-191-150h6m-102 27h6m87 37h6m-197 306h6m299-157h6m-137-80h6m221-184h6m-630 437h6m316-437h6m-377 96h6m223 304h6m343-186h6m-400-113h6m253 26h6m77 60h6m240-216h6m-206 118h6m44-170h6m-274 573h6m224-521h6m-67 113h6m44 73h6m-112-252h6m123 55h6m-68 274h6m-324 124h6m533-396h6m-502-175h6m208 401h6m-572-120h6m446 407h6m94-323h6m-72 59h6m102 70h6m-40 282h6m-102-580h6m113-89h6m-222 689h6m240-410h6m201-259h6m-176 350h6m-237-210h6m-296 189h6m392 137h6m-98-26h6m67-105h6m144-47h6m77-118h6m-208 268h6m-37-160h6m148-144h6m-95 228h6m120-132h6m-612-66h6m427 414h6m160-535h6m-209 188h6m109 286h6m-212-360h6m126-226h6m100 375h6m25-259h6m-534-120h6m325 14h6m-477 274h6m234 178h6m394 138h6m-190-375h6m-221 216h6m420-287h6m-118-200h6m186 778h6m-245-407h6m279 104h6m-556-374h6m137 517h6m134-504h6m-133 164h6m383 327h6m-248-433h6m-49 125h6m18 325h6m-186 21h6m419-314h6m-417 359h6m317-229h6m-136-355h6m-45 432h6m-200 76h6m-144-153h6m428-43h6m-287 397h6m313-490h6m99 94h6m-496 188h6m274 99h6m-10-130h6m-462 91h6m517-446h6m-115 459h6m-161-529h6m135 271h6m-12-325h6m47 454h6m-182-443h6m282 167h6m-145 145h6m-297-28h6m269-311h6m-184 86h6m-101 325h6m447-13h6m-538-58h6m144-111h6m337 342h6m165 40h6m-541-416h6m363 366h6m-413-421h6m415 465h6m-426-453h6m-84 103h6m576-203h6m-168 278h6m-201-206h6m-282-7h6m0-35h6m483-33h6m-126 36h6m-39 662h6m148-738h6m-42 155h6m240 78h6m-559-296h6m-192 453h6m440 81h6m-372-316h6m334 107h6m-109 227h6m46-410h6m218 237h6m-262-210h6m59 356h6m13 41h6m-335-499h6m360 511h6m6-389h6m-100 407h6m269-293h6m-341 258h6m594-174h6m-913 163h6m304-283h6m164 438h6m-103-466h6m-43 448h6m-3-483h6m207 84h6m-145-18h6m-293 85h6m140-85h6m-94 280h6m282-546h6m189 253h6m3-70h6m-326 69h6m338-75h6m-95-99h6m123 468h6m-349-190h6m10 128h6m-500-61h6m125-27h6m223-156h6m200 273h6m-174 231h6m-129-725h6m346 384h6m-464-180h6m57 227h6m226-369h6m129 100h6m-145 140h6m-177-304h6m145-84h6m-261 316h6m343 294h6m27-413h6m-320 117h6m442 151h6m-650 252h6m60-326h6m401 82h6m154-101h6m-302-34h6m-46 322h6m-160-173h6m452-299h6m-11-63h6m-394 231h6m444 90h6m145-127h6m-640 458h6m61-524h6m139-195h6m-281 410h6m290 82h6m257-14h6m-159-208h6m-309-87h6m305 477h6m-425-500h6m674 489h6m-429-598h6m169 331h6m-126 24h6m154-18h6m-324-296h6m-129 431h6m515-308h6m-497 256h6m274-411h6m-324 338h6m708 135h6m-294-172h6m-324 177h6m577-77h6m-879-185h6m518 78h6m285-71h6m-404 320h6m182-330h6m219 107h6m-409-91h6m184 303h6m-382-82h6m254-177h6m-271-22h6m-173-75h6m491-345h6m-127 322h6m44 318h6m-21-158h6m251-176h6m-45 394h6m-324 63h6m-159-311h6m-117 270h6m607-492h6m-221 109h6m-207 45h6m-243 74h6m387 0h6m-116-308h6m429 424h6m-267-295h6m-138 130h6m131 336h6m65-403h6m169 93h6m-29 363h6m-343 148h6m-71-649h6m347 296h6m-368-300h6m-296 411h6m90-89h6m37-270h6m39 372h6m220-68h6m30-625h6m-408 208h6m526 582h6m-28-170h6m70-139h6m161 13h6m-698-239h6m65-126h6m542 510h6m-293-247h6m291 226h6m-647-256h6m359 131h6m127-272h6m-280 80h6m226 47h6m255 105h6m-107 23h6m-596-187h6m-67 316h6m316-513h6m269 422h6m-418-335h6m273 575h6m-344-185h6m380-107h6m-428 25h6m459-287h6m-394 482h6m28-434h6m-250-31h6m47 443h6m312-484h6m15 489h6m66-103h6m-499-190h6m147 250h6m326-295h6m-376 204h6m-2-316h6m270-127h6m-66 258h6m151 2h6m-253-157h6m341 197h6m-244 0h6m-125-233h6m1 40h6m219 134h6m29 232h6m-281-456h6m230 748h6m-182-125h6m153-470h6m14-60h6m-63 585h6m128-63h6m-249-423h6m112 504h6m38-395h6m298 55h6m-481-234h6m101 343h6m-262 116h6m191 10h6m239-46h6m-150-29h6m-139-381h6m191 103h6m269 157h6m-275-342h6m274 458h6m-362-157h6m-356-364h6m545 205h6m-565-106h6m362 334h6m-402 41h6m733 40h6m-83 99h6m-79-107h6m94-164h6m-291-2h6m-161 345h6m297-32h6m-96-519h6m-217 415h6m-352-90h6m449 59h6m126-103h6m77 67h6m-400 144h6m-16-532h6m386 403h6m-246 57h6m162-205h6m191-133h6m-654 112h6m71-240h6m-62 148h6m490 149h6m-262-145h6m26 485h6m-293-201h6m58-94h6m367-283h6m-134 359h6m-32-201h6m-429-20h6m99-111h6m299 359h6m415 148h6m-369-310h6m325 32h6m-398 262h6m-221-281h6m-3-179h6m437 464h6m-377-131h6m380-354h6m-412-230h6m269 778h6m208-541h6m-609 237h6m-122-220h6m684 287h6m64-221h6m-697 308h6m464-189h6m-412-106h6m739 25h6m-636-81h6m-114-62h6m106 120h6m502 296h6m-402-416h6m-94 549h6m-160-406h6m43 4h6m431 187h6m-428-214h6m-51 305h6m268-381h6m-204 391h6m178-410h6m189 79h6m80-62h6m-169 62h6m88-224h6m-460 323h6m30 350h6m238-514h6m-414-30h6m499 487h6m-421-463h6m64 303h6m574-6h6m32-81h6m-523-246h6m177 188h6m92-73h6m-561 93h6m766 91h6m-660 16h6m468-165h6m-414 152h6m302-72h6m-34-217h6m-204-127h6m139 155h6m503 232h6m-588-406h6m105 175h6m91 259h6m224-140h6m-413 194h6m-258-243h6m210-137h6m-191 17h6m76 337h6m165-357h6m220 287h6m-202 261h6m271-714h6m-6 621h6m-23-216h6m-27-156h6m-85 138h6m-384-158h6m384 139h6m34-154h6m115 388h6m-278 76h6m-285-101h6m309-462h6m-143 575h6m-35-83h6m239-47h6m-718-254h6m28-35h6m751 268h6m75-277h6m-557 409h6m-71-265h6m271-123h6m66 111h6m-310-220h6m-71 257h6m65 69h6m228 11h6m12-213h6m-291-46h6m414 550h6m-164-172h6m-169-432h6m194 272h6m118-145h6m244 37h6m-582-108h6m-9 60h6m332 54h6m-110 235h6m99 31h6m-365-92h6m352-90h6m-60-236h6m94 296h6m7-285h6m-388-48h6m157 221h6m93-15h6m-371-87h6m296 208h6m33 220h6m-68-633h6m-332 606h6m460-156h6m149-29h6m-355-187h6m276 4h6m-124-13h6m-119-87h6m-120 56h6m111 471h6m-36-707h6m-106 220h6m441 161h6m-361-250h6m114 466h6m-86-727h6m-482 673h6m384 36h6m244-506h6m-613 299h6m532-70h6m-157 167h6m453 78h6m-192-276h6m-6-161h6m-642 182h6m321 260h6m-140-379h6m132 395h6m-203-415h6m320-10h6m19 307h6m-473 183h6m430-533h6m-132 551h6m314-201h6m-556-265h6m344-24h6m-159-107h6m-29 467h6m184-326h6m-111 518h6m122-122h6m212-587h6m-178 582h6m-165-286h6m-111 227h6m99-376h6m126 257h6m-33 31h6m-377-13h6m320-189h6m-190-38h6m304 212h6m-412-87h6m121-180h6m409 491h6m-160-306h6m46 230h6m-18-545h6m-344-42h6m258 51h6m-333-88h6m242 454h6m-263-169h6m359 132h6m-424-155h6m119-249h6m400 436h6m-524 33h6m674 22h6m-356-406h6m49 459h6m-448-180h6m471-167h6m-36 233h6m-182-416h6m90 407h6m175 142h6m-33-129h6m-483-354h6m-212 307h6m145 239h6m490-83h6m-461-328h6m232 348h6m177-60h6m-3-181h6m11-57h6m-389-291h6m255 286h6m104 187h6m-507-227h6m501 404h6m-5-228h6m-86 41h6m127-128h6m-62 76h6m-135-179h6m-117 395h6m-97-434h6m180 14h6m398 83h6m-696 64h6m-11 195h6m597-9h6m-688-490h6m639 353h6m-251-139h6m-224-211h6m553 266h6m-329 467h6m119-125h6m-79-218h6m-376-429h6m262 608h6m-37 100h6m283-199h6m-452 88h6m346 135h6m-477-96h6m476-327h6m192-12h6m-258 265h6m-86-211h6m-168 453h6m-118-670h6m253 711h6m-228-521h6m-142-75h6m597-39h6m-571 90h6m3 218h6m30-49h6m-21 267h6m262-681h6m152 70h6m219 600h6m-170-333h6m-118-194h6m-546 282h6m485-388h6m-324 323h6m69-351h6m117 188h6m213-58h6m-215 120h6m-136 255h6m-16 52h6m47-639h6m246 273h6m-100 154h6m281 134h6m34-231h6m-631 38h6m339 253h6m-238-327h6m197 285h6m14-173h6m-54 275h6m166-146h6m-70-176h6m-138-40h6m262-72h6m6-82h6m-488 7h6m52 16h6m-79 403h6m274-134h6m350 84h6m-361-111h6m-197-226h6m9 70h6m297 22h6m-698 198h6m867-335h6m-510 672h6m254-511h6m-409 11h6m518-233h6m-51 597h6m-424-161h6m-8-344h6m406 439h6m-523-146h6m365 18h6m189-456h6m-426 692h6m370-266h6m-535-246h6m596 165h6m-8-158h6m82 220h6m-555 88h6m415 10h6m-521-84h6m12-110h6m629 281h6m-333-346h6m-337 427h6m351-446h6m-231 44h6m175-160h6m132 162h6m10-25h6m-116 319h6m-105-15h6m61-398h6m78 207h6m-23 126h6m196 56h6m-240-376h6m-201 649h6m-36-170h6m196-102h6m-66-45h6m296 100h6m-391-66h6m102 304h6m-42-523h6m-122-373h6m532 544h6m-437 150h6m99-294h6m150-199h6m-146 101h6m-57-44h6m118 128h6m-199-118h6m334 261h6m-249 273h6m19-386h6m64-91h6m144 137h6m-16-357h6m-484 227h6m204 303h6m-266-465h6m449-46h6m-153 57h6m102 627h6m-527-620h6m129-115h6m313 572h6m-45-370h6m340 284h6m-559-413h6m488 577h6m-167-170h6m-493-425h6m369 219h6m-431 38h6m289 401h6m-245-419h6m450 271h6m-25 65h6m-656-388h6m451-67h6m216-134h6m-166-53h6m47 254h6m296-156h6m-239 142h6m-193-41h6m20-205h6m-251 638h6m331-380h6m-332 211h6m104-320h6m281 351h6m149-64h6m-144-88h6m-579-196h6m394-2h6m-224 151h6m-151 218h6m192-348h6m263 27h6m-369 291h6m508-343h6m-615 384h6m761-118h6m-365-383h6m-363 348h6m210-274h6m-253-39h6m382 260h6m-84-74h6m-42-223h6m-317 442h6m314-227h6m392-97h6m-275 271h6m-135 334h6m114-301h6m28-22h6m183 20h6m-42 265h6m-712-394h6m308-184h6m270 506h6m212-443h6m-618 14h6m-90 141h6m502 221h6m-115-415h6m175-110h6m-89 57h6m-316-38h6m425 486h6m33-40h6m-676-200h6m279-88h6m119 193h6m-22-267h6m-291 7h6m315 167h6m-95-12h6m-230-230h6m42 623h6m-208-270h6m387-110h6m23 36h6m-89-199h6m288 315h6m49 94h6m70-134h6m-361 69h6m70 48h6m-152 21h6m370-241h6m64-146h6m-427 111h6m-94-158h6m-7 96h6m334-145h6m-242 50h6m58 306h6m-6-35h6m96 98h6m-27-336h6m-52-92h6m-274 551h6m102-394h6m80 104h6m-358-27h6m90-330h6m476 530h6m-599-184h6m358 32h6m-139 237h6m389-44h6m-150-393h6m-158-110h6m238 137h6m-63 302h6m-153-160h6m-307-332h6m280 248h6m-174 447h6m-14-69h6m320-150h6m106 19h6m-241 142h6m-223-608h6m-127 137h6m654-85h6m-249 655h6m-26-468h6m313-119h6m-677 3h6m91 500h6m541-292h6m-96 124h6m-433-416h6m144-1h6m47 720h6m-20-703h6m-217 113h6m132 60h6m-356 420h6m131-468h6m-110 358h6m31-134h6m340 358h6m60-731h6m-388 644h6m320-322h6m-429-195h6m729 156h6m78 155h6m-222-139h6m-367-216h6m62 103h6m78 405h6m129-661h6m-520 306h6m606-166h6m-331 409h6m200-160h6m-474 243h6m333-322h6m209-222h6m-402 149h6m187 587h6m-22-627h6m49 391h6m-227 49h6m111-661h6m90 660h6m96-353h6m-170-14h6m37-334h6m-126 227h6m-38 459h6m135-76h6m-87-573h6m86 211h6m87-48h6m160 580h6m-397 24h6m103-309h6m-104 282h6m159-349h6m-430 311h6m524-138h6m-228-322h6m-31 552h6m-22-27h6m18-131h6m191-181h6m-73 218h6m106-500h6m-577 330h6m612-139h6m-556-177h6m55 202h6m601 206h6m-107 2h6m-314-475h6m-264 338h6m307 143h6m-437-286h6m435 235h6m119 0h6m71 25h6m-628-11h6m409 58h6m-227-394h6m243-98h6m3 374h6m95 177h6m-99-531h6m157 242h6m-474-78h6m-157 319h6m189-67h6m510-121h6m-374 288h6m111-499h6m27-33h6m-154 421h6m-310-224h6m376-105h6m-414 345h6m655-113h6m-465-585h6m296 406h6m-253-345h6m251 513h6m-12 61h6m11-291h6m-29 456h6m-281-716h6m246 267h6m321 269h6m-235-203h6m-61 194h6m-54-206h6m-42-254h6m109 660h6m-244-719h6m46 269h6m135 223h6m-98 45h6m-255-296h6m450 458h6m-282-638h6m142 631h6m-85-108h6m122-68h6m151-95h6m-455-341h6m199 368h6m-244-175h6m442-169h6m121 262h6m-346-128h6m-233 322h6m131-433h6m-395 267h6m625-78h6m-159-37h6m-317 125h6m562-361h6m-380 557h6m165-303h6m-97 26h6m-8-18h6m395-20h6m-548 299h6m104-16h6m51-158h6m-232-154h6m167 250h6m-239 111h6m382-92h6m-46-175h6m-99-197h6m157 357h6m-497-232h6m222 329h6m595-194h6m-391-433h6m-275 304h6m101-236h6m-368 256h6m159 9h6m151 474h6m-81-544h6m419 401h6m123-485h6m-823 88h6m799 247h6m-241-178h6m-324-94h6m-260 375h6m565 104h6m-6 49h6m-482-591h6m429-79h6m-90 492h6m-122-382h6m-33 67h6m549 75h6m-854-74h6m312-171h6m148 646h6m-305-352h6m124 306h6m342-129h6m-537 88h6m330-435h6m134 127h6m39 206h6m-83-133h6m-290-227h6m-369-21h6m753 60h6m-161 177h6m-66-64h6m-103 184h6m154-551h6m-104 107h6m44 473h6m-171-523h6m206 493h6m-83 184h6m1-351h6m-204-165h6m-139 254h6m351 267h6m15-19h6m254-460h6m-553-91h6m-76 422h6m229-683h6m122 639h6m119-159h6m-171-86h6m-217-207h6m214-63h6m128 677h6m-409-507h6m-1 439h6m431-207h6m165-45h6m-207 238h6m-42-246h6m-572-89h6m464 218h6m-326-284h6m289 615h6m-162-256h6m-258-275h6m456-156h6m244 286h6m-251-195h6m-415 54h6m87 8h6m78-227h6m262 467h6m33-451h6m-412 14h6m-113 5h6m332 197h6m79-119h6m-236-216h6m-127 781h6m268-353h6m154 31h6m-13 126h6m33-306h6m-549 240h6m583 123h6m-340-348h6m55-127h6m-260-44h6m589 196h6m47 223h6m-128-64h6m-299 307h6m229-264h6m68-183h6m-551 231h6m330-10h6m-441-457h6m713-9h6m-436 98h6m-284 157h6m94 251h6m246-223h6m236-137h6m-472-49h6m96-49h6m88-192h6m100 274h6m-143-54h6m95 422h6m-76 157h6m270-485h6m-208 411h6m-209-404h6m241 579h6m-51-332h6m-87-167h6m80 97h6m77 146h6m-123-41h6m358-81h6m-157-415h6m97 445h6m-722-152h6m97-155h6m432 366h6m-113-319h6m-220 67h6m-108-230h6m305 153h6m43 169h6m-493-158h6m267-146h6m326 198h6m-461-27h6m452 208h6m-78 0h6m-93-86h6m84 359h6m-543-290h6m457 144h6m-157-294h6m366-93h6m-169-17h6m-438 211h6m410 167h6m-336-333h6m-158 296h6m555-507h6m-176 389h6m-70-75h6m23 259h6m334-395h6m-103 243h6m183-231h6m-805 191h6m260-116h6m221-155h6m-215 559h6m275-523h6m-280 2h6m158 392h6m10-244h6m-25 278h6m153 52h6m-569-192h6m290-407h6m66 192h6m-300 250h6m-146 22h6m32-229h6m656 293h6m-239-83h6m-137 135h6m-38-7h6m-127-525h6m480 248h6m-255-65h6m-131 477h6m-96-524h6m238 148h6m370 240h6m-163-399h6m-90 337h6m-154-83h6m-185 136h6m141-307h6m254-255h6m-683 431h6m-5 74h6m340-443h6m-216 297h6m290-107h6m212 288h6m-606-269h6m506-210h6m68 325h6m-49 70h6m87-141h6m-98-47h6m-342-297h6m570 549h6m-390-496h6m-127 66h6m312 153h6m-274-226h6m115 451h6m241-146h6m-237-37h6m-35 120h6m-164-220h6m-162 52h6m513 300h6m126-196h6m-190 273h6m-32-561h6m-411 693h6m200-678h6m365 435h6m-336-253h6m59 154h6m-21 346h6m-227-640h6m-338 32h6m614 446h6m-72 27h6m-231-580h6m149 583h6m-231 39h6m-51-240h6m361-66h6m-105 172h6m-427-109h6m-37 89h6m411-251h6m-338-73h6m197-25h6m120 359h6m49 169h6m-358-102h6m651-277h6m-320 48h6m141-366h6m55 346h6m-76 149h6m-219 77h6m139-70h6m-240 104h6m-292-48h6m534 105h6m-60 115h6m-149-472h6m98 292h6m148-446h6m-135-121h6m-34 448h6m-73-160h6m-331 9h6m591 192h6m-182-67h6m41 226h6m131-313h6m-127 17h6m173-40h6m-628 254h6m87-70h6m352-164h6m-51 178h6m-12-439h6m38 105h6m60 73h6m-496 62h6m521 280h6m-151-137h6m293-242h6m-349 78h6m-283-198h6m541 161h6m-351-41h6m-157 16h6m270-178h6m-206 125h6m-254 9h6m50-77h6m417 71h6m209 441h6m-179 4h6m-236-483h6m244 458h6m-590-158h6m390 169h6m-26 8h6m156-397h6m-444 119h6m38-154h6m459 433h6m-530-26h6m533-481h6m-244 121h6m-170 279h6m48-466h6m181 185h6m96 66h6m-209 252h6m85-513h6m-90 186h6m182 117h6m-1-3h6m-403-44h6m273-150h6m-186-43h6m315 691h6m-179-14h6m132-360h6m-42 42h6m194-44h6m-245-385h6m-3 199h6m-317-203h6m670 270h6m-240 40h6m-610 104h6m351 125h6m203-404h6m-540 209h6m669-317h6m-263 32h6m-307 417h6m-3-293h6m225-70h6m6 500h6m-178-629h6m180 681h6m-235-490h6m-131-47h6m380 275h6m-214-360h6m265 380h6m50 95h6m-479-421h6m109 468h6m249-110h6m336 162h6m-179-50h6m34-429h6m131 85h6m-152 377h6m-51-487h6m-540 336h6m210-279h6m168 474h6m123-558h6m-417 342h6m95 349h6m463-435h6m-248 170h6m101 152h6m-8-330h6m-75 10h6m-32-305h6m-69-38h6m73 354h6m-133-69h6m503 43h6m-484-330h6m63 275h6m92 311h6m-214-417h6m208 329h6m-261-367h6m435-47h6m-621-168h6m280 447h6m71 77h6m-133 157h6m97-610h6m241 388h6m-397 74h6m-74-441h6m270 254h6m0-235h6m-186 392h6m-173-353h6m314 505h6m-401-319h6m87-60h6m264 259h6m-99-285h6m86 97h6m-64-39h6m102-43h6m84 437h6m1-339h6m-51 320h6m-368-43h6m424-162h6m-720-143h6m566 278h6m-244-414h6m119 251h6m-328 286h6m457-722h6m-451 565h6m386-75h6m-655 60h6m794-562h6m-177 11h6m278 448h6m-440-133h6m-303 18h6m105-104h6m393-146h6m-460 171h6m103 516h6m297-3h6m47-289h6m-113-91h6m-56-234h6m-174 493h6m133-544h6m66 272h6m13 296h6m10-114h6m-302 13h6m-228-282h6m526-22h6m-53-106h6m-90 105h6m-69-24h6m110 120h6m-95 301h6m-70-435h6m219 294h6m138 113h6m-263 5h6m-178-320h6m130-246h6m5 478h6m-403-319h6m430-84h6m66 181h6m-111 372h6m461-323h6m-55-279h6m-733 110h6m147-143h6m388 602h6m-540-75h6m397-585h6m-104 698h6m18-329h6m-291 137h6m544 187h6m-126-241h6m-104-430h6m165-13h6m-187 427h6m-5-188h6m264-13h6m-351 519h6m-100-195h6m161-598h6m21 261h6m-403-139h6m534 440h6m-555-57h6m52-144h6m57-17h6m-107-22h6m151-289h6m-243 588h6m542-138h6m60-19h6m-508-16h6m-25-38h6m231-65h6m-322 252h6m257 158h6m338-380h6m-519 434h6m424-273h6m-144 11h6m177 39h6m-189-212h6m-295 130h6m171-387h6m189 341h6m-325-63h6m220-339h6m-27 499h6m-332-341h6m349-9h6m83-17h6m322 162h6m-79-44h6m-148 30h6m-148-149h6m-340 287h6m330-212h6m67 3h6m168-45h6m-258 335h6m-275-450h6m529 297h6m-64-207h6m-553-19h6m348 336h6m-327 244h6m398-298h6m-222-169h6m106 143h6m-148-118h6m12-105h6m336 31h6m-604-12h6m-77 257h6m33-158h6m399-133h6m175 410h6m-396 26h6m-124-433h6m395 655h6m-419-785h6m392 178h6m-58-101h6m-450 228h6m374 163h6m210-66h6m-520 67h6m330-308h6m-116 13h6m378 33h6m-166 367h6m-151-194h6m278-25h6m-438 246h6m355-232h6m-581-115h6m562-79h6m-55 40h6m-145 384h6m67-198h6m288-191h6m-651-68h6m349 174h6m-34 387h6m-45-184h6m114-162h6m-401 28h6m318 8h6m-166-416h6m86 598h6m93-62h6m-448-190h6m310-226h6m41 122h6m-527 10h6m220 169h6m615 180h6m-386-475h6m307 562h6m-653-434h6m207 409h6m363 129h6m-539-455h6m47 58h6m-105 151h6m321-223h6m16-275h6m43 77h6m139 382h6m-209-480h6m-392 307h6m119 7h6m661 49h6m-86 46h6m-518 138h6m326-8h6m-387 79h6m-45-277h6m214-114h6m-156 94h6m337 251h6m234-416h6m-435 373h6m305-1h6m-85-327h6m-104 410h6m-278-87h6m326-51h6m10-240h6m-97 515h6m-428-314h6m317-225h6m187 86h6m-255-150h6m303 134h6m-590 419h6m621-299h6m-65-14h6m-529-193h6m438 589h6m-19-723h6m41 147h6m59-117h6m-363 51h6m298 240h6m43 35h6m-186 315h6m395-246h6m-672 226h6m195-560h6m11 70h6m379-75h6m-483 444h6m-110 89h6m383-243h6m-44-196h6m-108-238h6m49 469h6m-548 165h6m701 71h6m-523-434h6m330 356h6m-509-237h6m474 103h6m-234-346h6m-85 367h6m224 66h6m-265-339h6m505 192h6m-658 191h6m711-407h6m-272 377h6m177-75h6m-614-167h6m140 4h6m474-8h6m-289-132h6m-353-93h6m9 334h6m731-369h6m-228 284h6m20-149h6m-601 54h6m557 67h6m106 17h6m-395-164h6m342 215h6m-496-321h6m-66 515h6m105-426h6m-44-61h6m332 5h6m164-50h6m-25 146h6m-158 305h6m-79-204h6m-306-62h6m275 276h6m48-352h6m393 342h6m-245-214h6m5-208h6m-466 382h6m277 180h6m-306-7h6m119-93h6m484 120h6m-684-529h6m171 57h6m311 114h6m-496 187h6m415 125h6m-83-312h6m54 124h6m136-333h6m-160 215h6m-324 395h6m430 93h6m-86-746h6m-40 346h6m-19-253h6m122 212h6m-560-94h6m683-86h6m-402 39h6m275-234h6m-177 556h6m-46-351h6m-203 454h6m438-419h6m-241 555h6m-431-563h6m193 306h6m408-198h6m-493 118h6m111 135h6m375-128h6m-191-146h6m-313 224h6m363-154h6m134-80h6m-263-139h6m120 40h6m-366 159h6m173 243h6m34-87h6m19-382h6m-403 223h6m128-153h6m71 87h6m-44 436h6m306-321h6m-114 145h6m-9-602h6m220 130h6m58 407h6m-508 100h6m508-88h6m-105-294h6m-352-275h6m332 407h6m113 193h6m-269-396h6m-286 253h6m-11-213h6m183 458h6m213-595h6m-29 677h6m100-392h6m-92-37h6m68-281h6m82 387h6m-469 261h6m365-248h6m38 17h6m-586-114h6m660 294h6m-384-66h6m184 140h6m-417-446h6m611 45h6m-341 294h6m-235-221h6m-20 177h6m374 94h6m-399-361h6m262 360h6m-438-107h6m476 126h6m98 168h6m-278-568h6m-83 3h6m66-23h6m170-89h6m82 83h6m13 253h6m120-362h6m-421 497h6m200-232h6m-110 442h6m-273-461h6m305 72h6m-240-221h6m18-98h6m252 92h6m-292 331h6m13 81h6m-145-79h6m748-102h6m-50-278h6m-383 118h6m-35 21h6m-42 283h6m81-193h6m-283-343h6m337 391h6m-65 19h6m218-356h6m-558 70h6m398 581h6m-374-367h6m335 101h6m-377-177h6m105-140h6m311 201h6m25-116h6m-98 305h6m-357-130h6m312-25h6m-41-214h6m-358 198h6m401 198h6m-348-483h6m164 139h6m-173 498h6m654-705h6m-682-72h6m-110 505h6m592-259h6m-585 23h6m630 107h6m55-41h6m-272 138h6m-297-506h6m546 238h6m-394-89h6m316 382h6m86 14h6m-141 86h6m-348-614h6m-300 407h6m655-384h6m70 170h6m-397 46h6m235 40h6m-216-176h6m-167 424h6m252 32h6m-271-97h6m362 151h6m-46-287h6m-44 156h6m-199-376h6m-89 97h6m406 465h6m-69 54h6m-138-378h6m246 318h6m-428-71h6m72-430h6m-259 104h6m283 8h6m270 82h6m-65 19h6m-43 268h6m-375-425h6m105 424h6m83-557h6m-305 519h6m537 93h6m47-598h6m-270 155h6m-139 34h6m361 142h6m51-290h6m-204 33h6m-163 664h6m283-88h6m-370-713h6m281 156h6m-421 549h6m48-218h6m-49 55h6m416-148h6m-418 37h6m380 218h6m-425-417h6m310 75h6m-363 245h6m387-218h6m-150-59h6m-364 75h6m428-257h6m446 288h6m-131 54h6m-67 278h6m-276-123h6m-301-183h6m365-273h6m-103 158h6m-247-274h6m269 269h6m-155 266h6m-105-206h6m578 19h6m-288 99h6m75-127h6m236-203h6m-293 195h6m-178-253h6m100 162h6m-298 520h6m334-460h6m-215-92h6m-108 57h6m522-191h6m-25 193h6m80 136h6m-525 342h6m181-70h6m-154-71h6m-112 17h6m585-84h6m-778-94h6m585 30h6m-250-278h6m110 594h6m-319-608h6m96-51h6m247 46h6m-424 259h6m232 307h6m-205-407h6m222 272h6m-239-635h6m122 153h6m39-45h6m102 549h6m-97-415h6m-127-181h6m455 334h6m-466-81h6m-221-50h6m640 77h6m-529-38h6m523 37h6m-102 485h6m-72-361h6m280 307h6m-500-43h6m377-534h6m-183 228h6m-278-42h6m-27 36h6m438 352h6m-297-127h6m23-542h6m-193 206h6m-228 270h6m287-602h6m484 466h6m-199-99h6m-157 427h6m273-35h6m-147-71h6m53-48h6m-393-22h6m30 183h6m359-333h6m-433 190h6m269-162h6m30 133h6m52 18h6m-138-306h6m-297 21h6m386 309h6m-73-186h6m-23-9h6m-277-80h6m349 98h6m-380 231h6m437-364h6m-144-149h6m-289 282h6m304-355h6m64 426h6m-59-127h6m251 360h6m-166-210h6m-280-373h6m-286 60h6m426 53h6m-95 408h6m-130-698h6m15 714h6m19-120h6m-164-473h6m585 235h6m-266-207h6m-56 97h6m356-66h6m-303 366h6m-123-408h6m117 311h6m-359 277h6m97-109h6m-3 49h6m269-524h6m240 402h6m-193-153h6m-146 87h6m128 209h6m-217-693h6m202 651h6m-3-532h6m-341 213h6m224 382h6m179-17h6m-327 7h6m232-110h6m-70-396h6m-446 251h6m118-87h6m577-145h6m-168 310h6m77-123h6m-175-358h6m-288 229h6m285 198h6m-117-349h6m209 476h6m-450-294h6m-104 271h6m311-247h6m94-139h6m-438 394h6m88-292h6m275 286h6m-356 35h6m62-166h6m415 190h6m-62-410h6m-17 612h6m-4-486h6m-78 66h6m-99 291h6m3-454h6m-123 400h6m518-329h6m-614-82h6m332 97h6m-402 270h6m504-504h6m-461 720h6m-39-267h6m404 6h6m47-313h6m-442-18h6m2 420h6m245-172h6m202-13h6m-472-308h6m238-72h6m89 548h6m194-360h6m-187 74h6m-86 334h6m-461-342h6m530 374h6m-171-460h6m184 353h6m174-32h6m-377 175h6m23-65h6m128-114h6m180 163h6m-584-465h6m-65 161h6m186 212h6m148 41h6m339 32h6m-636-127h6m217-457h6m-205 94h6m329-115h6m17 170h6m-162 20h6m178-51h6m1 363h6m-146-342h6m-442 216h6m589 164h6m85 2h6m179-377h6m-286 290h6m-321 87h6m299-209h6m-489-75h6m483 387h6m-84-606h6m224 301h6m-123 58h6m110-302h6m-69 1h6m-14 242h6m-537-131h6m-97 186h6m594-160h6m4-69h6m-1 31h6m2 166h6m-190-80h6m32-214h6m282 49h6m-240 231h6m-354-229h6m56 493h6m-3-133h6m287-419h6m290 21h6m-535 369h6m-159-310h6m-38 191h6m299 11h6m-29-210h6m247-82h6m-416-58h6" transform="scale(0.1)" stroke="#8a8a8a" stroke-width="6" fill="none" opacity="0.55"/>
<path d="M391.5,673.9Q390.7,673.3 392.4,671.6M391.7,675.6Q397.1,671.1 403.9,678.9M392.7,685.9Q392.3,682.7 393.0,674.7M399.3,674.7Q396.5,674.6 391.9,684.9M404.0,681.4Q397.1,686.2 389.0,680.9M398.8,679.5Q391.9,681.8 389.7,683.3M398.2,674.6Q396.8,682.0 396.7,685.3M388.6,683.3Q391.4,677.2 402.5,671.3M393.5,684.3Q396.6,680.4 401.7,679.4M394.8,672.9Q397.3,681.6 400.5,685.1M394.7,680.2Q397.3,680.6 402.6,676.5M392.7,679.6Q392.4,677.4 388.4,682.0M398.8,669.9Q400.5,674.8 395.0,677.0M394.0,684.0Q401.0,677.9 399.5,670.7M393.2,674.4Q393.0,672.6 394.6,677.7M393.8,683.3Q393.1,682.3 392.1,676.5M386.8,672.7Q394.7,674.8 393.7,684.8M394.1,674.7Q394.3,674.8 386.7,677.2M394.0,681.1Q388.7,681.8 393.5,685.3M397.9,675.3Q395.4,672.6 389.2,674.8M392.8,667.7Q397.1,671.7 393.5,676.7M389.4,676.0Q393.4,670.5 397.5,669.5M393.3,685.7Q400.9,681.8 402.0,678.7M389.6,675.1Q398.6,673.7 399.9,671.1M397.6,676.8Q402.6,681.9 403.1,677.4M402.7,683.5Q403.6,682.0 399.1,684.6M399.3,669.7Q395.8,675.6 401.1,684.8M404.6,678.9Q400.3,685.3 398.9,684.5M390.7,683.9Q389.3,682.5 389.3,682.4M394.5,674.7Q396.9,679.5 396.6,678.7M398.7,681.1Q402.7,679.1 396.9,678.2M392.9,679.0Q402.5,680.4 404.4,675.2M395.2,684.7Q402.5,682.3 402.7,670.7M389.2,672.5Q394.0,672.2 398.7,668.7" fill="none" stroke="#2a2a2a" stroke-width="0.4"/>
<path d="M0 0m3945 6740h8m-17 51h8m45-34h8m-1 8h8m-17-17h8m-18 53h8m-11 10h8m-49-70h8m-12 70h8m63-37h8m-57-23h8m24 13h8m-56 6h8m-30 6h8m58 33h8m-28-74h8m-51 38h8m68-8h8m-67 23h8m16 1h8m-2-57h8m-50 27h8m13 1h8m43 15h8m-25 9h8" transform="scale(0.1)" stroke="#222" stroke-width="8" fill="none" opacity="0.7"/>
<defs><radialGradient id="rg" gradientUnits="userSpaceOnUse" cx="594.5" cy="670.5" r="52" fx="594.5" fy="670.5" gradientTransform="translate(594.5 670.5) scale(1 0.8) translate(-594.5 -670.5)"><stop offset="0" stop-color="#4a4a4a"/><stop offset="0.16" stop-color="#565656"/><stop offset="0.3" stop-color="#858585"/><stop offset="0.45" stop-color="#909090"/><stop offset="0.8" stop-color="#969696"/><stop offset="0.93" stop-color="#adadad"/><stop offset="1" stop-color="#d8d8d8"/></radialGradient><linearGradient id="lg" x1="0" x2="1" y1="0" y2="0"><stop offset="0" stop-color="#fff" stop-opacity="0"/><stop offset="0.62" stop-color="#fff" stop-opacity="0"/><stop offset="1" stop-color="#fff" stop-opacity="0.6"/></linearGradient><filter id="bl" x="-20%" y="-20%" width="140%" height="140%"><feGaussianBlur stdDeviation="1.4"/></filter></defs>
<path d="M620.6,640.2L627.9,634.8M639.5,682.7L646.8,681.6M638.2,656.4L646.7,655.9M584.7,705.4L583.8,713.0M554.5,682.5L543.5,684.5M639.8,659.6L647.5,659.4M583.0,636.6L581.5,628.8M580.3,704.2L576.3,711.3M631.6,647.7L636.0,643.3M627.5,644.3L632.6,640.7M637.2,654.7L645.4,651.8M636.0,688.8L640.0,692.3M576.4,638.8L571.0,632.7M620.6,640.1L627.4,629.9M584.5,636.2L584.7,628.9M596.6,634.8L597.1,625.4M552.6,664.9L546.4,661.1M616.1,638.2L622.2,629.6M553.8,660.8L543.1,660.0M559.8,691.0L552.4,691.9M604.8,706.3L607.2,713.2M611.8,636.8L613.0,628.6M591.6,706.5L594.0,715.0M640.9,663.0L650.6,660.7M609.5,705.4L611.3,715.7M609.1,705.5L609.8,717.5M553.2,662.5L544.4,661.1M631.5,647.7L639.1,641.7M589.3,706.3L588.9,715.0M558.0,652.9L550.3,651.3M641.4,676.8L647.8,677.4M642.0,671.7L650.1,671.5M585.9,635.9L582.0,626.4M580.1,637.4L579.3,628.8M633.7,691.7L641.0,695.6M639.6,659.2L649.6,653.2M593.2,706.7L595.5,716.3M641.1,663.7L652.9,658.7M587.4,706.0L589.9,712.1M553.2,662.6L544.8,658.9M604.8,635.3L604.8,626.1M624.8,642.5L635.1,633.6M601.0,634.9L603.4,629.9M636.1,688.6L642.5,693.2M568.2,698.4L558.4,706.6M585.0,705.5L580.8,713.9M561.6,648.6L550.9,643.1M554.3,659.4L544.0,653.9M640.8,679.1L655.0,679.9M616.3,638.3L621.5,629.4M582.9,705.0L578.4,716.1M552.6,676.7L539.3,680.6M585.6,636.0L578.8,625.8M581.3,637.1L581.5,629.4M619.0,639.4L625.7,630.5M556.1,655.8L547.1,649.2M637.3,654.8L651.3,651.3M563.9,646.4L552.1,641.1M601.3,706.6L600.4,712.1M586.3,705.8L579.7,714.5M579.0,637.8L572.6,627.7M639.7,659.3L651.9,652.8M566.4,697.2L561.0,700.2M614.4,704.0L615.8,711.3M587.0,705.9L585.3,717.4M598.3,634.8L598.1,624.4M607.0,635.7L611.4,625.6M553.6,661.2L547.0,662.1M596.6,706.8L600.5,714.2M568.3,698.5L561.7,704.8M596.6,634.8L596.0,626.2M638.4,656.8L644.9,652.1M553.8,660.8L542.3,660.9M575.8,639.0L569.9,631.6M558.9,651.6L554.0,647.7M642.0,672.4L651.0,675.5M578.2,703.5L576.2,714.2M553.3,662.1L546.3,659.3M606.7,706.0L612.5,715.5M552.5,676.4L541.4,675.8M640.7,662.2L653.5,656.3M621.8,640.8L626.7,634.3M557.9,688.6L548.0,691.1M640.5,661.7L650.8,662.7M635.2,689.8L639.6,690.0M592.0,635.0L590.2,629.9M559.2,651.3L547.9,644.0M552.3,666.6L538.5,663.4M561.5,693.0L549.4,700.9M598.0,706.8L595.6,714.7M558.1,688.9L550.1,694.5M559.2,690.3L552.5,693.2M559.3,690.4L552.1,692.8M552.0,669.4L543.7,669.3M552.4,666.1L540.9,667.4M630.4,694.9L634.9,699.7M552.1,673.5L545.2,675.9M574.8,702.1L572.3,706.0M562.1,648.0L549.8,642.6M577.2,703.1L567.6,714.4M580.9,637.2L580.7,628.2M578.7,637.9L573.3,631.3M579.0,703.8L573.6,714.2M560.1,691.4L551.9,692.4M567.6,643.5L556.8,634.5M561.4,692.8L549.1,697.6M619.4,702.0L626.7,709.9M585.5,705.6L580.5,710.9M552.1,667.9L544.2,670.4M552.1,668.5L543.9,665.9" stroke="#b0b0b0" stroke-width="0.35" fill="none" opacity="0.7"/>
<ellipse cx="597" cy="670.8" rx="51" ry="40.5" fill="url(#rg)" filter="url(#bl)"/>
<ellipse cx="597" cy="670.8" rx="52" ry="41" fill="url(#lg)" filter="url(#bl)"/>
<path d="M0 0m6301 6902h7m-336-158h7m-355-275h7m208 401h7m411-431h7m6 1h7m-311 611h7m424-348h7m-507-8h7m349 124h7m-192-121h7m-267 331h7m102-615h7m411 456h7m-633 111h7m74-99h7m-148-321h7m179 122h7m385-108h7m-51-154h7m-226 309h7m8 114h7m-84 104h7m310-174h7m-187-205h7m-384 273h7m478-450h7m-174 670h7m226-134h7m-613-391h7m313 291h7m295-190h7m-98 177h7m-570 64h7m663-451h7m-82 365h7m77 122h7m8-494h7m-283 446h7m-354 117h7m289 32h7m243-631h7m-568 540h7m114-515h7m399 95h7m-349 177h7m145-31h7m-201-234h7m-77 25h7m448 598h7m-174-319h7m-94-189h7m-42 314h7m-202 66h7m572 30h7m-541-263h7m-126 19h7m289 13h7m216-34h7m-97-183h7m-112 421h7m47 115h7m20-498h7m301 60h7m-574 415h7m398-486h7m-119-115h7m-20 133h7m-475 253h7m524-336h7m130 346h7m120 6h7m-279 18h7m-288-243h7m-63 397h7m130-130h7m79-169h7m123-55h7m-350 244h7m290-487h7m82 230h7m-400 361h7m458-345h7m-204-1h7m128 45h7m-376 158h7m357 33h7m-639-149h7m279 301h7m583-211h7m-554-101h7m257-167h7m80 470h7m-8-119h7m-319-356h7m-215-20h7m-89 406h7m683-378h7m-224 349h7m-353-303h7m288 299h7m-362-256h7m473 356h7m-33-177h7m-125 138h7m-361-61h7m310 163h7m-15-458h7m-300 64h7m515 192h7m2-5h7m-163-215h7m-247 351h7m340 51h7m-326-590h7m397 103h7m-267-71h7m-74 109h7m105 282h7m2 202h7m121-313h7m28-18h7m-372-188h7m15 124h7m-284-1h7m276 5h7m-338-19h7m239 152h7m-24 58h7m563-222h7m-265 126h7m164 59h7m-43 186h7m-426-576h7m-90 363h7m-45 96h7m-43-320h7m295-29h7m342 377h7m-420-87h7m-72 166h7m-6-115h7m505-421h7m-148 165h7m-246-200h7m206-2h7m-622 346h7m497-9h7m-85 70h7m-83-89h7m435-204h7m-454 416h7m-243-71h7m-41-331h7m752 100h7m-446 191h7m111-224h7m228-173h7m-490-64h7m400 145h7m-576 324h7m513-127h7m-528-134h7m329 368h7m-190-475h7m299-81h7m-16 209h7m-271-253h7m-58 362h7m259-6h7m192-104h7m55 228h7m-19-423h7m-193 453h7m93-154h7m-67 305h7m-140-404h7m-28-44h7m-249 327h7m387-224h7m11-57h7m17 392h7m-254-561h7m28 504h7m260 57h7m-64-224h7m-275-57h7m-312 131h7m313-168h7m366-220h7m-749 102h7m318-36h7m-227 259h7m-80-137h7m728 282h7m-771-312h7m326-221h7m225 277h7m2 21h7m-136 158h7m118-190h7m-148 159h7m-41-434h7m313 194h7m-357 178h7m317-256h7m-490-72h7m80 351h7m-138-293h7m408 172h7m-527 229h7m449 86h7m-163-299h7m379 46h7m-577 65h7m-157-104h7m486 197h7m-62-303h7m-483 171h7m611 95h7m-133-506h7m362 317h7m-721-141h7m176-165h7m12 392h7m-20-412h7m113 373h7m-496-31h7m153 27h7m697 54h7m-430-382h7m23 289h7m-115-33h7m90 229h7m143-471h7m-147 514h7m221-121h7m-323 220h7m153-676h7m281 627h7m-586-329h7m212 178h7m-88-156h7m3 27h7m299 23h7m29 26h7m-46-168h7m-276-128h7m156 370h7m-199-214h7m270 59h7m46 339h7m-504-199h7m593-170h7m-187 223h7m-446-400h7m-91 462h7m541-490h7m-55 632h7m185-465h7m-449 183h7m21 55h7m-296-330h7m222-5h7m275 260h7m-419-358h7m117 91h7m-7-23h7m262 66h7m-327-151h7m122 365h7m-27 162h7m10-137h7m-243-158h7m602-39h7m-265-26h7m27 448h7m-14-355h7m-391 269h7m-10-403h7m170 252h7m338 39h7m-180 267h7m-191-149h7m331-218h7m-158-332h7m-188 333h7m293 333h7m-406-436h7m228 294h7m-84-169h7m348-116h7m-166-12h7m-340 102h7m506 146h7m-189 126h7m198 12h7m-536-388h7m402-194h7m-192 560h7m-447-68h7m635-108h7m64-320h7m-663 491h7m551-176h7m-509 8h7m400 200h7m-29-206h7m-408 121h7m11-403h7m220 23h7m-100 365h7m383 97h7m-271 5h7m-234-58h7m-174-229h7m702-99h7m-236 203h7m179-377h7m-493 137h7m324 7h7m-504 103h7m122 202h7m195-93h7m87-355h7m215 532h7m-312 78h7m-53-502h7m527 315h7m-493-151h7m343-163h7m-648 399h7m363-543h7m-147 104h7m515 234h7m-284 22h7m246-67h7m-154 64h7m-265 181h7m168 37h7m-232-415h7m131-88h7m365 420h7m-40 5h7m-768-267h7m65 66h7m105-31h7m-17 402h7m315-28h7m89-89h7m-502-513h7m239 469h7m145 168h7m-131-16h7m270-95h7m-389-292h7m-9-133h7m401 397h7m-558-259h7m453-81h7m251 67h7m-606-166h7m482 164h7m-204 37h7m-587 104h7m405 104h7m-57-314h7m-141 416h7m-63-174h7m-26-103h7m145 84h7m422-187h7m-242 435h7m-489-327h7m692 254h7m-524-137h7m193-165h7m-52 247h7m-39-135h7m163-317h7m-266 91h7m389 340h7m-391-198h7m490-73h7m-174 370h7m-275-485h7m9 284h7m-212-235h7m474 148h7m-268-112h7m-226 291h7m30-223h7m224 360h7m214-374h7m-41 166h7m-26 68h7m-549-209h7m572 30h7m-321-219h7m-162 266h7m314-312h7m-98 103h7m-91 326h7m-145 53h7m187 107h7m-36-637h7m-3 549h7m-221-318h7m284 309h7m81 15h7m-425-90h7m193-357h7m498 28h7m116 148h7m-744 198h7m340-162h7m-349-83h7m344 367h7m-265-531h7m279 179h7m-244-262h7m-234 204h7m-82 138h7m441 252h7m39-237h7m-416 74h7m642 172h7m-23-92h7m-706-148h7m350 140h7m515-288h7m-640 435h7m19-416h7m436 323h7m-270 31h7m214 0h7m-115-469h7m-113 284h7m252 137h7m-93-21h7m-223-85h7m-10-360h7m-161 246h7m420 193h7m-193 7h7m-202 116h7m279-216h7m-380-218h7m261 168h7m-17-180h7m65 408h7m-475-324h7m428 332h7m16-309h7m-186 85h7m197 275h7m179-456h7m-637 409h7m404-240h7m207-300h7m-736 132h7m193 197h7m415-78h7m-115-242h7m-188 35h7m115-44h7m-210 305h7m-71-69h7m175-93h7m62 150h7m-24 3h7m-150-258h7m261 117h7m159 181h7m-207 142h7m-441-357h7m206-157h7m506 505h7m-564 2h7m133-372h7m290 201h7m-413-391h7m305 681h7m-388-163h7m-56-58h7m-186-196h7m228 260h7m123-321h7m402 113h7m-675-65h7m2-92h7m594-92h7m-658 314h7m-48 3h7m422 187h7m-360-282h7m443 172h7m-323-126h7m-175-142h7m137 217h7m526-191h7m-598 51h7m561-13h7m-227 53h7m-383 113h7m-74 53h7m464-63h7m-235 64h7m-318-32h7m445-228h7m393 234h7m-587-368h7m-280 316h7m427-90h7m90 269h7m248-198h7m-274 15h7m-46 76h7m59 213h7m-140-702h7m287 202h7m-449 200h7m538-98h7m-424-190h7m367 0h7m-296-89h7m-156 385h7m-108 180h7m-207-245h7m401-5h7m-370-194h7m211 191h7m469 289h7m-413-25h7m179-311h7m-86 444h7m-8-500h7m278 82h7m-540-279h7m367 37h7m-56 500h7m-472-139h7m344 119h7m-289 5h7m185-86h7m84-264h7m90 166h7m-284 282h7m497-70h7m-745-168h7m161 132h7m450 4h7m-49 20h7m117 100h7m-558-91h7m-80-468h7m4 43h7m731 273h7m-437 143h7m-359-18h7m102-98h7m395-79h7m-223-335h7m-231 489h7m93-187h7m123-135h7m-181 126h7m-124 87h7m314-143h7m412 212h7m-706-96h7m247 133h7m-270-187h7m294 105h7m23-90h7m-80-114h7m417 73h7m-35-11h7m-504 30h7m506 87h7m57-140h7m-530 37h7m119 343h7m418-313h7m-588-262h7m478 109h7m-724 391h7m3-422h7m532 135h7m188 13h7m-207 328h7m-494-263h7m370 2h7m-47 304h7m94-213h7m-99 148h7m244-539h7m-340 106h7m135 483h7m-103-258h7m-362-265h7m530 533h7m-567-181h7m320-136h7m264-235h7m-669 214h7m232 29h7m-31-44h7m-199-22h7m221-137h7m7 245h7m366 98h7m-503-308h7m637 241h7m-425-374h7m-108 300h7m149-226h7m82 347h7m340-20h7m-523 178h7m292-433h7m-78 416h7m-418-62h7m230-292h7m-69-171h7m-219 306h7m757-43h7m-280-353h7m-35 617h7m-319-140h7m-80-70h7m403-110h7m166 51h7m-99-163h7m-582-1h7m191-123h7m-74 107h7m447 85h7m-481-98h7m515 155h7m-45-254h7m-432 484h7m41-271h7m253 268h7m-530-209h7m183-134h7m262-47h7m-22 236h7m-224-280h7m108 584h7m-342-359h7m297 326h7m-36-369h7m6 409h7m143-73h7m-66-45h7m324-195h7m-813-77h7m649 143h7m-198-4h7m-1-430h7m131 49h7m208 111h7m-525 277h7m289-382h7m137 184h7m-336-125h7m154 26h7m-332 23h7m-162 291h7m516-127h7m-206 181h7m-163-196h7m124-26h7m8 336h7m-194-258h7m502 236h7m-48-199h7m-347-408h7m-266 430h7m286 250h7m-370-357h7m69 99h7m-25-48h7m556 11h7m-468 2h7m61-27h7m601-31h7m-463 90h7m-206 171h7m518-438h7m-680 139h7m455-227h7m95 345h7m174 186h7m-73 14h7m-657-312h7m571-16h7m-94-215h7m-456 24h7m343-67h7m-272 452h7m179-335h7m-33-144h7m159 521h7m52-494h7m-396 549h7m-197-233h7m767-12h7m-347-16h7m-403 128h7m416-175h7m313 280h7m-219-257h7m-315 181h7m309-168h7m-61-160h7m35 373h7m-305 56h7m365 62h7m-282-282h7m77 71h7m45-422h7m-84 507h7m-25 183h7m219-164h7m-121-248h7m95-26h7m-545 62h7m19-118h7m347 393h7m-145-3h7m202-386h7m-92-228h7m-145 470h7m279-307h7m-86 552h7m-1-244h7m-44-168h7m392 161h7m-453-84h7m-24-31h7m84 133h7m-299-369h7m-73 465h7m176-175h7m284 193h7m-581-268h7m314-96h7m-265 221h7m645-12h7m-616-38h7m534-243h7m-352-13h7m353 179h7m-517 370h7m536-278h7m-271-107h7m310-98h7m-240 117h7m63-68h7m-11 134h7m-133 337h7m-159-311h7m-167-290h7m-133 295h7m30-44h7m207 162h7m369 33h7m34-251h7m-190-255h7m-455 60h7m53-47h7m215 234h7m113 371h7m-399-365h7m243-69h7m-309 175h7m380-92h7m-80 377h7m238-107h7m-77-326h7m-163 25h7m203-150h7m-90 106h7m224-154h7m-706 269h7m375 144h7m183 80h7m-121-367h7m146-129h7m-181 576h7m-289-534h7m-6 11h7m57 393h7m-117-350h7m248 298h7m51-4h7m-249-163h7m215 46h7m129-276h7m140 460h7m-392-365h7m-364 52h7m379 228h7m-41-219h7m-155-9h7m-98 15h7m539-99h7m-280 72h7m223-3h7m-289 249h7m566-85h7m-678-227h7m238 341h7m-348 110h7m504-389h7m-117 106h7m-534-117h7m156 346h7m333 178h7m-202-521h7m473 263h7m-599-315h7m57-18h7m191 68h7m37 0h7m317 179h7m-522-349h7m359 585h7m-497-54h7m411 125h7m-525-110h7m452-62h7m-223-161h7m66 324h7m126-326h7m-294 294h7m-152-517h7m266 20h7m-273 86h7m310 423h7m-245-90h7m-17-434h7m-166 139h7m241-147h7m-210 145h7m604 290h7m-352-547h7m249 348h7m-354-5h7m79 73h7m236-344h7m-22 487h7m271-386h7m-218 149h7m-619-142h7m494 283h7m33-257h7m-178 438h7m-363-480h7m490 332h7m-130-37h7m-384-280h7m456 427h7m-472-231h7m201-141h7m31 191h7m400-117h7m-414 45h7m255-70h7m309-124h7m-281 8h7m-450 142h7m362 18h7m168-54h7m-614 134h7m265-182h7m136 153h7m-438-23h7m465 57h7m-297-144h7m25 70h7m-191-48h7m821 37h7m-726 153h7m231-255h7m199 75h7m-637 66h7m109 47h7m334-171h7m102 278h7m7-505h7m-457 456h7m362-65h7m-12-226h7m-289 194h7m-46-112h7m431 1h7m-197-134h7m-387 368h7m75-198h7m489 116h7m44 192h7m-587-243h7m41 140h7m522-266h7m-203-148h7m398 345h7m-715-170h7m-27 121h7m619 127h7m91-291h7m-748 367h7m322-397h7m34 197h7m-334-334h7m66 215h7m413 22h7m-419 389h7m370-380h7m-25 239h7m-139-525h7m-250 261h7m364 54h7m-500-234h7m169-17h7m12 567h7m-166-255h7m297 298h7m-204-474h7m26-200h7m339 122h7m-522 437h7m344-21h7m-303-240h7m-57-101h7m-15-99h7m294 128h7m208-25h7m-670 67h7m787 66h7m-595 133h7m194-181h7m160 302h7m-87-385h7m-209-187h7m45-12h7m-297 347h7m590 211h7m-171-601h7m304 446h7m-186-90h7m-189 19h7m175 174h7m39 71h7m-294-517h7m-26 136h7m266-46h7m-387 366h7m388 151h7m-288-698h7m-5 295h7m-355-27h7m15 114h7m671-165h7m-419 202h7m100 271h7m334-535h7m-149-3h7m-21 474h7m-567-130h7m482 51h7m-256 73h7m23-589h7m149 676h7m41-422h7m-427 281h7m746-304h7m-360 117h7m-124-403h7m-34 97h7m199-59h7m-438 288h7m103 87h7m281 285h7m-342-336h7m538-181h7m-447 442h7m-70-236h7m-16-34h7m19 355h7m75-671h7m313 442h7m-74-147h7m-196 123h7m57 253h7m476-291h7m-162 195h7m-322 84h7m-250-638h7m196-24h7m21 275h7m208-253h7m-131 491h7m-319-475h7m112 327h7m49-304h7m129 168h7m-430-105h7m427 389h7m257-298h7m-445 180h7m-253 158h7m347-166h7m202 211h7m-278-615h7m-237 236h7m645-19h7m-307 24h7m-31 349h7m181-339h7m-40-100h7m-672 251h7m164-180h7m563-144h7m-459-71h7m198 72h7m38 480h7m-25-544h7m284 296h7m-41-92h7m-306-221h7m-441 306h7m369 125h7m7-296h7m340 196h7m-564 326h7m624-304h7m-275-236h7m-425 149h7m-75-135h7m337-72h7m-295 537h7m49-114h7m283-384h7m-42 228h7m-19-178h7m-386 158h7m246-77h7m201 307h7m-145-38h7m171-228h7m-420 146h7m148-6h7m175-22h7m-60-197h7m-328 57h7m-15 300h7m129 143h7m290-305h7m-163 249h7m243-130h7m-110 87h7m83-466h7m-321 512h7m-222-117h7m505-149h7m117 140h7m-143-285h7m-478 241h7m99-154h7m351 72h7m-250-180h7m35 519h7m-189-451h7m233-281h7m-285 568h7m344-71h7m-159-276h7m456-11h7m-426 133h7m280-224h7m-250 612h7m346-562h7m-122-103h7m-270 275h7m49-88h7m70-216h7m-505 192h7m5 11h7m608 83h7m-217-328h7m150 251h7m-374 180h7m-46-195h7m95 280h7m162-507h7m-312 244h7m296 382h7m-247 4h7m9-277h7m-13 102h7m1-351h7m-273 316h7m854 30h7m-304 157h7m-282-56h7m63-431h7m94 413h7m286-219h7m-767 29h7m341-304h7m191 70h7m-155 456h7m70-333h7m-50 505h7m-359-361h7m219 289h7m40 29h7m-243-382h7m441 2h7m-70-57h7m243-6h7m-213 380h7m-65 43h7m-316-7h7m393-28h7m44-424h7m182 9h7m-141-133h7m-496 83h7m141 333h7m525-51h7m-361-333h7m-191 112h7m152 86h7m38-47h7m122-34h7m-145 255h7m215-13h7m-179-75h7m128-119h7m-206 282h7m-468-18h7m485-219h7m-90-312h7m-179 198h7m313 255h7m-279 244h7m424-328h7m-313-158h7m-22-133h7m83 278h7m102-342h7m-252 633h7m108-94h7m-261-117h7m1-13h7m267 176h7m-213-19h7m193-604h7m-400 352h7m-53-111h7m466 422h7m191-440h7m-266-231h7m-411 536h7m164-9h7m338 188h7m20-270h7m-126-2h7m75-42h7m-256-116h7m-35 182h7m533-214h7m-446 69h7m-176-130h7m-91-127h7m193 326h7m-107-277h7m-182 414h7m679 15h7m-365-93h7m-3 27h7m-140-311h7m246 63h7m57 297h7m-552-1h7m372-244h7m287-40h7m-471 406h7m155-559h7m272 305h7m-530 314h7m83-46h7m430-374h7m-532-202h7m253 565h7m263-267h7m-489 83h7m418 70h7m-115-441h7m-518 67h7m614 155h7m-181-241h7m125 544h7m-510-151h7m381 160h7m-45-188h7m-392-325h7m118-2h7m457 286h7m-222 197h7m-11-66h7m-246-475h7m400 358h7m96-197h7m-584 248h7m366 75h7m-22-132h7m-73-403h7m75 692h7m0-44h7m88-440h7m-503 358h7m-85-348h7m576-128h7m-640 259h7m694-257h7m-107 74h7m-428 362h7m-148-86h7m286-134h7m241 305h7m-110-556h7m37 299h7m-504 226h7m540-290h7m-370 284h7m554 0h7m-258-407h7m93 391h7m-183-271h7m276 229h7m-772-77h7m10 76h7m294-84h7m85-254h7m101-27h7m100 148h7m-94 77h7m90 21h7m-485 28h7m610-325h7m-136 388h7m-43-318h7m100 371h7m-338-244h7m128-192h7m-380 262h7m107-46h7m499-38h7m-190-271h7m-260 697h7m-240-421h7m391-28h7m-290-215h7m-102 337h7m18 159h7m554-288h7m-332 46h7m89 21h7m4 179h7m47-490h7m-261 19h7m-76 431h7m127 202h7m290-66h7m-317-126h7m243-285h7m-83 397h7m-88-559h7m96 189h7m196 366h7m-203-163h7m-292-385h7m238 2h7m-216-15h7m-238 341h7m598-142h7m-536 317h7m427-193h7m-209 134h7m120 107h7m-327-482h7m18 322h7m-76-153h7m326 267h7m184-37h7m-42-39h7m-386-63h7m-61 20h7m490 162h7m-110 77h7m41-38h7m-496-534h7m116 282h7m-239 99h7m608 241h7m-46 13h7m146-186h7m-301 3h7m-26 126h7m-414-163h7m525-313h7m87 197h7m-74-218h7m85 316h7m-131 36h7m-282 119h7m-85-43h7m534-107h7m-478 4h7m-55-283h7m465 323h7m-31-284h7m20 188h7m-402-158h7m12 281h7m160-313h7m111 9h7m-262-212h7m-248 197h7m-109 126h7m402 100h7m-143-447h7m357 436h7m-273 128h7m436-305h7m-753 196h7m645-242h7m-194 107h7m-82 208h7m-273-106h7m27 58h7m-53 145h7m337-630h7m-224 174h7m-68 215h7m-109-163h7m467 48h7m-548-12h7m79 325h7m535-113h7m131-229h7m-249 212h7m-376-188h7m342-33h7m126-65h7m36-73h7m-380 240h7m-202-276h7m30 620h7m255-119h7m128-549h7m-388 119h7m-197 457h7m771-343h7m-363 238h7m-233-350h7m497 484h7m-249-147h7m-256 117h7m-77 4h7m200 59h7m-407-426h7m316 283h7m407-331h7m46-29h7m-415 312h7m-209-360h7m292-28h7m-402 236h7m475-258h7m-412 429h7m134 212h7m365-524h7m-140 399h7m-259-353h7m120-220h7m-172 429h7m51 107h7m-198-17h7m368-384h7m186 457h7m-422 96h7m121-498h7m-238 405h7m516-407h7m-386 205h7m167-105h7m93 33h7m17 245h7m-218-296h7m151-215h7m-484 444h7m467-195h7m176-184h7m-200-80h7m-581 428h7m617-368h7m-85 47h7m230-34h7m-317 444h7m-16-279h7m-102 291h7m-230-26h7m470-57h7m-63-435h7m-167 82h7m-244 524h7m214-319h7m-315 159h7m492 24h7m-520-62h7m604-128h7m-644-31h7m387-289h7m151 368h7m23-159h7m-434 84h7m142 1h7m111 210h7m-34-467h7m90 230h7m-61 140h7m-18 286h7m-169-315h7m92-274h7m418 80h7m-129 122h7m-565 6h7m606 229h7m-556-118h7m-128 9h7m161-424h7m446 206h7m-188 259h7m47 22h7m-301-353h7m337 120h7m-214 173h7m-200 78h7m242 193h7m200-357h7m-612-112h7m-40 119h7m468 328h7m-214 5h7m74-249h7m-298-26h7m585-263h7m-303-64h7m20 602h7m34-194h7m-401 90h7m270-554h7m426 526h7m-483-371h7m294 491h7m-361-477h7m415-156h7m33 305h7m-574 212h7m608 12h7m-608-494h7m350 572h7m305-152h7m-453-98h7m-241 138h7m247-82h7m-101-112h7m189-250h7m-417 434h7m743-224h7m-406 211h7m171-195h7m17-148h7m-360 241h7m117 101h7m212 158h7m209-229h7m-159-57h7m-384-336h7m-181 92h7m519 236h7m41 33h7m-254 70h7m173 160h7m-563-171h7m133-33h7m178-417h7m-241 313h7m126-82h7m142 112h7m-255 81h7m111 258h7m-355-263h7m253 22h7m297-439h7m-205 287h7m138-218h7m32 479h7m-206-306h7m227-264h7m-518 342h7m529-49h7m-354 82h7m163 92h7m94-382h7m-6 469h7m-355 82h7m645-260h7m-475 307h7m62 34h7m328-226h7m-582-74h7m266-422h7m156 109h7m-367 201h7m577 112h7m-485 85h7m190-253h7m-428-13h7m239-56h7m243-143h7m-421 433h7m432 33h7m89-78h7m-153-95h7m-331-27h7m281 349h7m-178-296h7m-104-170h7m253-190h7m-291 266h7m238 59h7m-496-43h7m341 207h7m154 9h7m-100-442h7m194 558h7m-250-91h7m250-128h7m-94-367h7m-111 682h7m137-125h7m-183-22h7m98-285h7m-269-276h7m353 379h7m-267 142h7m60-92h7m-73 267h7m-203-443h7m-222 212h7m581-43h7m114-207h7m-346 167h7m163-250h7m302 361h7m-827-57h7m345-275h7m331 126h7m-475 53h7m177-132h7m-147-89h7m14 141h7m5 452h7m310-152h7m-624-285h7m484-65h7m358 57h7m-733-29h7m497 326h7m51-477h7m-332-81h7m-370 270h7m79 320h7m399-589h7m-129 71h7m-78 295h7m-375-33h7m375-300h7m433 185h7m-265 52h7m-94 57h7m-87 137h7m-198-239h7m711 110h7m-701 79h7m-43-233h7m-151 329h7m572-29h7m93-66h7m-319 161h7m-342-382h7m420 50h7m-169 72h7m-47 135h7m344-14h7m-103-125h7m-288-39h7m412 21h7m26-131h7m-79 246h7m-332-236h7m99-96h7m303 287h7m-321 171h7m-59 170h7m-251-516h7m419-149h7m-89 76h7m-101 585h7m-128-410h7m28-295h7m-58 203h7m115 301h7m52 23h7m43-105h7m-190-355h7m412 31h7m42-18h7m-594 268h7m586 263h7m-170-56h7m211-325h7m-108-44h7m-137-43h7m-293 394h7m-230-356h7m136 98h7m-17 179h7m-81 59h7m577-397h7m-526 513h7m-196-314h7m888-98h7m-87 269h7m16-27h7m-273-33h7m29-213h7m53 245h7m-631-292h7m584 1h7m-569 81h7m416 47h7m-32 100h7m-427-182h7m-7 136h7m230-2h7m343 130h7m-277-427h7m106 282h7m-302-254h7m-117 167h7m119 127h7m401-296h7m-274 95h7m503 228h7m-299 285h7m-199-168h7m42 124h7m-35-376h7m12-69h7m-239-83h7m196 557h7m-189-150h7m550-264h7m-444 105h7m106-272h7m38 459h7m-86-154h7m-33-97h7m123-63h7m-205 286h7m168-469h7m252 480h7m-20-489h7m-248-66h7m-291 258h7m-129 317h7m648-203h7m-150-174h7m-89 281h7m92-357h7m-53 111h7m-413 313h7m69-408h7m419 426h7m-340 109h7m244-207h7m137-145h7m-714 195h7m759-377h7m-550 512h7m375-134h7m-339 198h7m-50-571h7m-83 161h7m251 162h7m131-187h7m53-60h7m-70 186h7m-326 201h7m265-383h7m-240 246h7m-154 140h7m329-122h7m-202-119h7m-150-62h7m476 262h7m-253 64h7m315-523h7m-341 21h7m56 99h7m28-46h7m-214 115h7m409 195h7m-93 224h7m-21 15h7m-376-578h7m35 336h7m39-323h7m447 410h7m-396 71h7m-206-247h7m663-172h7m-614 431h7m138-59h7m132-175h7m-52-287h7m172 483h7m-108-530h7m-202 390h7m-139-299h7m421 310h7m-92-453h7m188 586h7m-753-196h7m81-191h7m240 73h7m69 17h7m194-41h7m-324 428h7m-34-512h7m235-21h7m-75 518h7m-129 15h7m335-450h7m29-163h7m-85 241h7m-68-167h7m-421 228h7m375-236h7m-14 336h7m-10-144h7m254 12h7m-710-9h7m245 257h7m368-491h7m-12 118h7m1-144h7m93 436h7m-90 119h7m-661-134h7m39-253h7m69 309h7m220-588h7m108 308h7m385 114h7m-33-65h7m-608 100h7m-69-1h7m229-199h7m-414 2h7m284-249h7m140 393h7m-120-70h7m-193 184h7m10-233h7m96 95h7m-85 147h7m17-21h7m117-149h7m191 100h7m22 64h7m-398-40h7m-57-320h7m540-9h7m-173 402h7m152-461h7m-265 534h7m351-56h7m-592-243h7m-13 318h7m-39-270h7m-101 168h7m35-8h7m438 101h7m-348-196h7m249 289h7m-464-226h7m452 6h7m26-105h7m-48-339h7m-12 215h7m-334-66h7m397-192h7m-124 179h7m-90 402h7m325 13h7m-713-298h7m730 160h7m-230 248h7m-25-254h7m-83 66h7m79 129h7m-162-479h7m126 249h7m310-197h7m-332 403h7m-141-452h7m-20 414h7m265 29h7m93-363h7m-407-23h7m477-85h7m-677 72h7m510 439h7m-479-326h7m-16 204h7m296-199h7m-138-103h7m509 81h7m-692-221h7m523 450h7m-227-237h7m-210 236h7m160-124h7m-71 56h7m-180 49h7m532 103h7m-262-433h7m236 288h7m-306 83h7m356-186h7m-680 13h7m-43-157h7m452-142h7m-477 355h7m279-380h7m72 204h7m-181 230h7m-7-152h7m285 267h7m115-527h7m-344 448h7m18 96h7m-307-306h7m456 267h7m49-160h7m159-233h7m-272-156h7m309 322h7m-169 157h7m143-405h7m-566 542h7m-14-330h7m-20-222h7m322 500h7m201-9h7m-21-384h7m-136 428h7m131-419h7m147 37h7m-843-81h7m373 452h7m275 38h7m-439-291h7m-158 222h7m25-423h7m-179 143h7m418 20h7m-118 85h7m186 119h7m-153-556h7m557 270h7m-669-16h7m468-203h7m-46 140h7m-655 82h7m81 329h7m590 83h7m-106-420h7m-163-166h7m-21 514h7m102-162h7m-279 74h7m-88-5h7m446-284h7m-193 230h7m-295-291h7m358 327h7m27 139h7m155-67h7m-240 155h7m-78-176h7m328-360h7m-387 281h7m40-70h7m-261-57h7m-128 215h7m362 81h7m-64-380h7m-356 113h7m172-77h7m362 77h7m-72-342h7m277 307h7m-313-351h7m-237 392h7m-18 287h7m378-22h7m-635-228h7m212 40h7m-32-51h7m439-107h7m-599-37h7m675 61h7m-27 100h7m-27 121h7m15-468h7m42 87h7m-218-138h7m-137 262h7m-18-19h7m27 234h7m7-24h7m-259-116h7m424 313h7m-266-497h7m183 346h7m-337-479h7m319 370h7m-351-120h7m460 222h7m-516-106h7m471 106h7m-365-27h7m-97 13h7m302-437h7m-192 57h7m363 320h7m-417 187h7m-164-268h7m388-350h7m-8 685h7m119-222h7m-114-169h7m-371 306h7m187 117h7m-304-475h7m338-13h7m-230-49h7m180 433h7m-188-542h7m329 176h7m-221 233h7m-39-298h7m55 448h7m-7-64h7m-330-47h7m464-443h7m-397 116h7m482 199h7m-250-378h7m106 34h7m32 395h7m10-25h7m-518-148h7m572-77h7m-250 194h7m-380-119h7m465-276h7m-179 654h7m-292-381h7m270 367h7m226-496h7m-228 150h7m-72-93h7m445 245h7m-382-100h7m-153-83h7m393 14h7m230 286h7m-449 62h7m157-475h7m-489 304h7m-10-211h7m347 310h7m-128-354h7m163-13h7m43 56h7m-469 105h7m139 127h7m156-464h7m23 0h7m-312 376h7m417 258h7m-144-447h7m79-176h7m-178 142h7m148-34h7m-59-121h7m21 717h7m369-475h7m-194 15h7m-156-8h7m417 60h7m-307-310h7m28 321h7m-360-116h7m-126 117h7m156 388h7m193-612h7m-219 420h7m60 203h7m39-342h7m152-359h7m-168 90h7m-208 187h7m-194 72h7m429 157h7m360 3h7m-378 92h7m228-480h7m-578 323h7m117-362h7m-97 398h7m-16-4h7m348-23h7m132-18h7m42-319h7m-207 599h7m147-338h7m-490-301h7m231-105h7m-51 172h7m118 124h7m95 410h7m370-307h7m-656-332h7m46 338h7m23-10h7m-31-264h7m128 43h7m-23 385h7m-181-244h7m-21 245h7m306 159h7m-129-361h7m-116 343h7m116-655h7m-103 674h7m95-470h7m-105-106h7m-284 23h7m557 403h7m-59 32h7m184-164h7m-346-158h7m-230-228h7m227 117h7m278 334h7m-542-27h7m49 49h7m29-441h7m-293 258h7m586 310h7m-545-372h7m279-1h7m223 12h7m106 280h7m-170-108h7m-181 224h7m380-58h7m-273 27h7m-21 13h7m229-434h7m-210 32h7m182 225h7m-354-310h7m-36 360h7m10-64h7m-257-183h7m596 353h7m-526-125h7m166-359h7m257 365h7m-482-90h7m615 22h7m83-64h7m-587 159h7m405-405h7m-544 201h7m207 173h7m128-214h7m-217-225h7m-138 337h7m-1-160h7m-7-6h7m192 233h7m179-346h7m12 176h7m288 120h7m-259 244h7m165-54h7m-438 6h7m16-378h7m149 103h7m215 50h7m-360-136h7m-302-95h7m141 269h7m421-348h7m-38 153h7m-226 340h7m78 109h7m-516-362h7m286-118h7m222 71h7m-540 125h7m700-336h7m3 273h7m20 240h7m-103-194h7m-174-103h7m90-109h7m70 364h7m-498-171h7m261 182h7m41-198h7m-273-113h7m-115 139h7m126-262h7m83 321h7m69 247h7m-44-640h7m84 496h7m-54 56h7m246-7h7m-110 52h7m93-393h7m-425-166h7m356 559h7m161-261h7m-639 50h7m553 130h7m-46-482h7m-315-44h7m-174 135h7m-60 231h7m217-125h7m-203 370h7m640-308h7m-168 289h7m-110-535h7m205 445h7m-692-274h7m46 256h7m247-492h7m192 585h7m-215-594h7m-89 8h7m217 83h7m-129 152h7m-300 14h7m391 394h7m84-638h7m-139-26h7m-403 512h7m153-188h7m503-78h7m-125-238h7m-222 284h7m-132 206h7m263-110h7m-29-52h7m-408-60h7m90 302h7m141 8h7m112-59h7m-203-71h7m467-95h7m-481 304h7m194-450h7m369 7h7m-201-107h7m0 381h7m-481-93h7m-115 165h7m333 18h7m-86-36h7m220-261h7m-343 177h7m-49-238h7m60 242h7m178-245h7m-37 446h7m-222-63h7m521-510h7m-120 530h7m54-408h7m-437 166h7m415-315h7m-132 88h7m-56 536h7m-101-565h7m56 469h7m22-188h7m-267-168h7m-82-95h7m438-158h7m-344 512h7m463-31h7m-546-226h7m555-167h7m-343 494h7m20 150h7m-205-77h7m447-550h7m-301 625h7m-107-495h7m198-113h7m129 180h7m-298 330h7m-12-180h7m242-11h7m135 127h7m-57-213h7m-488 235h7m433 80h7m-462-170h7m388 202h7m164-116h7m-459-479h7m277 591h7m-397-573h7m555-36h7m-156 38h7m-576 329h7m531 76h7m-340-99h7m122 50h7m170 128h7m166-445h7m-90 419h7m-537-77h7m177 126h7m-67-38h7m392 44h7m59-507h7m-532 12h7m250-11h7m134-15h7m280 316h7m-478-437h7m160 474h7m-29-357h7m-273 308h7m167-73h7m278 146h7m-64-87h7m-42 269h7m186-247h7m-88-225h7m-151 474h7m-240-423h7m-61-94h7m338 316h7m95-227h7m-43-5h7m-490 29h7m292 148h7m-369 209h7m276-153h7m-429-279h7m326-193h7m-119 664h7m149-322h7m-371 18h7m617-318h7m-323 55h7m-355 272h7m240-259h7m-287 181h7m657-163h7m-188 446h7m-346 33h7m497 57h7m-163-88h7m-80-415h7m177 403h7m108-266h7m-48 260h7m-466-235h7m441 288h7m-597-85h7m289-175h7m-49-85h7m-96 379h7m642-259h7m-615-358h7m-90 85h7m-38 359h7m434-335h7m-201 215h7m-5-84h7m-145 38h7m121 167h7m-367-258h7m692-60h7m-337 141h7m140-19h7m-214 360h7m79-338h7m60-182h7m-337-47h7m432 415h7m-91-145h7m-317 168h7m465-390h7m-538 188h7m-103-48h7m295 316h7m167-495h7m211 387h7m-123-364h7m26-26h7m-223 537h7m257-335h7m-145 189h7m-87-435h7m206 267h7m-251-217h7m-282 403h7m291-470h7m46 658h7m217-95h7m-461-229h7m227 34h7m30-241h7m237 6h7m-453-110h7m191 296h7m175 230h7m-180-282h7m-45 185h7m-128 0h7m24-456h7m-336 406h7m442-303h7m-467 338h7m169-166h7m195-170h7m-19-63h7m-5 290h7m64 209h7m-478-274h7m415 300h7m-129-422h7m184 16h7m-410 420h7m188 76h7m61-428h7m199-185h7m-214 101h7m-71 453h7m75-114h7m-20 139h7m-396-332h7m217-25h7m-5 272h7m260-216h7m61 296h7m51-570h7m176 184h7m-639 104h7m225 291h7m-146-644h7m254 507h7m-419 86h7m610 8h7m-455-402h7m-103 213h7m91 242h7m152-215h7m-120-53h7m51-289h7m-220 141h7m403 425h7m-28-571h7m-206 100h7m29 432h7m191-442h7m-57 216h7m83 101h7m-353 7h7m178-21h7m-515-48h7m-14-211h7m107 152h7m298 41h7m47 138h7m-179-349h7m429-109h7m-370 271h7m-31-149h7m-46 373h7m112 135h7m293-626h7m-166 36h7m-379 495h7m-12-142h7m615-16h7m-607 194h7m407 2h7m-649-412h7m759-44h7m-56-18h7m-537 304h7m57-270h7m-5 348h7m451-278h7m-122 239h7m-540-131h7m516 18h7m-366-340h7m520 286h7m-162-308h7m-176 184h7m427 113h7m-646-53h7m465 118h7" transform="scale(0.1)" stroke="#555" stroke-width="7" fill="none" opacity="0.4"/>
<rect x="345.30" y="727.40" width="119.70" height="2.80" fill="#68c4b8" stroke="none" stroke-width="0" />
<rect x="539.00" y="727.40" width="119.70" height="2.80" fill="#e9694a" stroke="none" stroke-width="0" />
<text x="405.8" y="745.4" font-size="13.8" text-anchor="middle" font-weight="normal" fill="#231f20" >Low connectedness</text>
<text x="406.1" y="760.9" font-size="13.8" text-anchor="middle" font-weight="normal" fill="#231f20" >(median = 0, mean = 4)</text>
<text x="599.6" y="745.4" font-size="13.8" text-anchor="middle" font-weight="normal" fill="#231f20" >High connectedness</text>
<text x="599.6" y="760.9" font-size="13.8" text-anchor="middle" font-weight="normal" fill="#231f20" >(median = 16, mean = 50.8)</text>
</svg></body></html>
